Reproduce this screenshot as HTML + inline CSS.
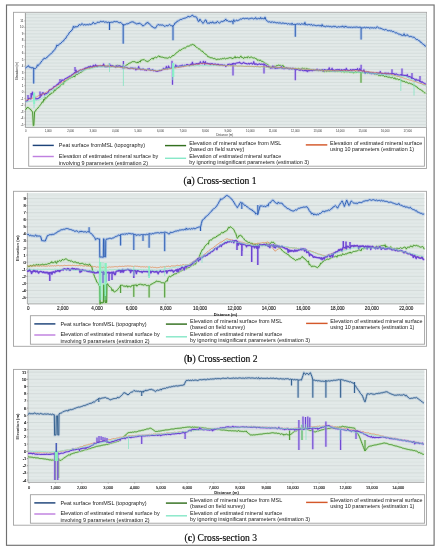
<!DOCTYPE html>
<html><head><meta charset="utf-8"><title>Cross-sections</title>
<style>html,body{margin:0;padding:0;background:#fff;width:438px;height:550px;overflow:hidden;font-family:"Liberation Sans",sans-serif}svg{display:block;will-change:transform;filter:blur(0.35px)}</style>
</head><body>
<svg width="438" height="550" viewBox="0 0 438 550"><rect x="0" y="0" width="438" height="550" fill="#fff"/>
<rect x="6.5" y="5.0" width="427.6" height="540.3" fill="none" stroke="#707070" stroke-width="1.15"/>
<rect x="13.5" y="12.3" width="413" height="156.2" fill="#fff" stroke="#a2a2a2" stroke-width="0.9"/>
<rect x="25.40" y="13.00" width="400.90" height="114.40" fill="#e2e9e8"/>
<line x1="25.40" x2="426.30" y1="124.56" y2="124.56" stroke="#d2dad9" stroke-width="0.8"/>
<line x1="25.40" x2="426.30" y1="121.32" y2="121.32" stroke="#d2dad9" stroke-width="0.8"/>
<line x1="25.40" x2="426.30" y1="118.08" y2="118.08" stroke="#d2dad9" stroke-width="0.8"/>
<line x1="25.40" x2="426.30" y1="114.84" y2="114.84" stroke="#d2dad9" stroke-width="0.8"/>
<line x1="25.40" x2="426.30" y1="111.60" y2="111.60" stroke="#d2dad9" stroke-width="0.8"/>
<line x1="25.40" x2="426.30" y1="108.36" y2="108.36" stroke="#d2dad9" stroke-width="0.8"/>
<line x1="25.40" x2="426.30" y1="105.12" y2="105.12" stroke="#d2dad9" stroke-width="0.8"/>
<line x1="25.40" x2="426.30" y1="101.88" y2="101.88" stroke="#d2dad9" stroke-width="0.8"/>
<line x1="25.40" x2="426.30" y1="98.64" y2="98.64" stroke="#d2dad9" stroke-width="0.8"/>
<line x1="25.40" x2="426.30" y1="95.40" y2="95.40" stroke="#d2dad9" stroke-width="0.8"/>
<line x1="25.40" x2="426.30" y1="92.16" y2="92.16" stroke="#d2dad9" stroke-width="0.8"/>
<line x1="25.40" x2="426.30" y1="88.92" y2="88.92" stroke="#d2dad9" stroke-width="0.8"/>
<line x1="25.40" x2="426.30" y1="85.68" y2="85.68" stroke="#d2dad9" stroke-width="0.8"/>
<line x1="25.40" x2="426.30" y1="82.44" y2="82.44" stroke="#d2dad9" stroke-width="0.8"/>
<line x1="25.40" x2="426.30" y1="79.20" y2="79.20" stroke="#d2dad9" stroke-width="0.8"/>
<line x1="25.40" x2="426.30" y1="75.96" y2="75.96" stroke="#d2dad9" stroke-width="0.8"/>
<line x1="25.40" x2="426.30" y1="72.72" y2="72.72" stroke="#d2dad9" stroke-width="0.8"/>
<line x1="25.40" x2="426.30" y1="69.48" y2="69.48" stroke="#d2dad9" stroke-width="0.8"/>
<line x1="25.40" x2="426.30" y1="66.24" y2="66.24" stroke="#d2dad9" stroke-width="0.8"/>
<line x1="25.40" x2="426.30" y1="63.00" y2="63.00" stroke="#d2dad9" stroke-width="0.8"/>
<line x1="25.40" x2="426.30" y1="59.76" y2="59.76" stroke="#d2dad9" stroke-width="0.8"/>
<line x1="25.40" x2="426.30" y1="56.52" y2="56.52" stroke="#d2dad9" stroke-width="0.8"/>
<line x1="25.40" x2="426.30" y1="53.28" y2="53.28" stroke="#d2dad9" stroke-width="0.8"/>
<line x1="25.40" x2="426.30" y1="50.04" y2="50.04" stroke="#d2dad9" stroke-width="0.8"/>
<line x1="25.40" x2="426.30" y1="46.80" y2="46.80" stroke="#d2dad9" stroke-width="0.8"/>
<line x1="25.40" x2="426.30" y1="43.56" y2="43.56" stroke="#d2dad9" stroke-width="0.8"/>
<line x1="25.40" x2="426.30" y1="40.32" y2="40.32" stroke="#d2dad9" stroke-width="0.8"/>
<line x1="25.40" x2="426.30" y1="37.08" y2="37.08" stroke="#d2dad9" stroke-width="0.8"/>
<line x1="25.40" x2="426.30" y1="33.84" y2="33.84" stroke="#d2dad9" stroke-width="0.8"/>
<line x1="25.40" x2="426.30" y1="30.60" y2="30.60" stroke="#d2dad9" stroke-width="0.8"/>
<line x1="25.40" x2="426.30" y1="27.36" y2="27.36" stroke="#d2dad9" stroke-width="0.8"/>
<line x1="25.40" x2="426.30" y1="24.12" y2="24.12" stroke="#d2dad9" stroke-width="0.8"/>
<line x1="25.40" x2="426.30" y1="20.88" y2="20.88" stroke="#d2dad9" stroke-width="0.8"/>
<line x1="25.40" x2="426.30" y1="17.64" y2="17.64" stroke="#d2dad9" stroke-width="0.8"/>
<line x1="25.40" x2="426.30" y1="14.40" y2="14.40" stroke="#d2dad9" stroke-width="0.8"/>
<line x1="25.4" x2="25.4" y1="13" y2="127.6" stroke="#8a8a8a" stroke-width="0.8"/>
<line x1="25.4" x2="426.3" y1="127.5" y2="127.5" stroke="#9a9a9a" stroke-width="0.8"/>
<line x1="24.3" x2="25.4" y1="124.56" y2="124.56" stroke="#888" stroke-width="0.6"/>
<text x="23.40" y="125.66" font-size="3.00" text-anchor="end" font-family="Liberation Sans, sans-serif" font-weight="normal" fill="#222" >-5</text>
<line x1="24.3" x2="25.4" y1="118.08" y2="118.08" stroke="#888" stroke-width="0.6"/>
<text x="23.40" y="119.18" font-size="3.00" text-anchor="end" font-family="Liberation Sans, sans-serif" font-weight="normal" fill="#222" >-4</text>
<line x1="24.3" x2="25.4" y1="111.60" y2="111.60" stroke="#888" stroke-width="0.6"/>
<text x="23.40" y="112.70" font-size="3.00" text-anchor="end" font-family="Liberation Sans, sans-serif" font-weight="normal" fill="#222" >-3</text>
<line x1="24.3" x2="25.4" y1="105.12" y2="105.12" stroke="#888" stroke-width="0.6"/>
<text x="23.40" y="106.22" font-size="3.00" text-anchor="end" font-family="Liberation Sans, sans-serif" font-weight="normal" fill="#222" >-2</text>
<line x1="24.3" x2="25.4" y1="98.64" y2="98.64" stroke="#888" stroke-width="0.6"/>
<text x="23.40" y="99.74" font-size="3.00" text-anchor="end" font-family="Liberation Sans, sans-serif" font-weight="normal" fill="#222" >-1</text>
<line x1="24.3" x2="25.4" y1="92.16" y2="92.16" stroke="#888" stroke-width="0.6"/>
<text x="23.40" y="93.26" font-size="3.00" text-anchor="end" font-family="Liberation Sans, sans-serif" font-weight="normal" fill="#222" >0</text>
<line x1="24.3" x2="25.4" y1="85.68" y2="85.68" stroke="#888" stroke-width="0.6"/>
<text x="23.40" y="86.78" font-size="3.00" text-anchor="end" font-family="Liberation Sans, sans-serif" font-weight="normal" fill="#222" >1</text>
<line x1="24.3" x2="25.4" y1="79.20" y2="79.20" stroke="#888" stroke-width="0.6"/>
<text x="23.40" y="80.30" font-size="3.00" text-anchor="end" font-family="Liberation Sans, sans-serif" font-weight="normal" fill="#222" >2</text>
<line x1="24.3" x2="25.4" y1="72.72" y2="72.72" stroke="#888" stroke-width="0.6"/>
<text x="23.40" y="73.82" font-size="3.00" text-anchor="end" font-family="Liberation Sans, sans-serif" font-weight="normal" fill="#222" >3</text>
<line x1="24.3" x2="25.4" y1="66.24" y2="66.24" stroke="#888" stroke-width="0.6"/>
<text x="23.40" y="67.34" font-size="3.00" text-anchor="end" font-family="Liberation Sans, sans-serif" font-weight="normal" fill="#222" >4</text>
<line x1="24.3" x2="25.4" y1="59.76" y2="59.76" stroke="#888" stroke-width="0.6"/>
<text x="23.40" y="60.86" font-size="3.00" text-anchor="end" font-family="Liberation Sans, sans-serif" font-weight="normal" fill="#222" >5</text>
<line x1="24.3" x2="25.4" y1="53.28" y2="53.28" stroke="#888" stroke-width="0.6"/>
<text x="23.40" y="54.38" font-size="3.00" text-anchor="end" font-family="Liberation Sans, sans-serif" font-weight="normal" fill="#222" >6</text>
<line x1="24.3" x2="25.4" y1="46.80" y2="46.80" stroke="#888" stroke-width="0.6"/>
<text x="23.40" y="47.90" font-size="3.00" text-anchor="end" font-family="Liberation Sans, sans-serif" font-weight="normal" fill="#222" >7</text>
<line x1="24.3" x2="25.4" y1="40.32" y2="40.32" stroke="#888" stroke-width="0.6"/>
<text x="23.40" y="41.42" font-size="3.00" text-anchor="end" font-family="Liberation Sans, sans-serif" font-weight="normal" fill="#222" >8</text>
<line x1="24.3" x2="25.4" y1="33.84" y2="33.84" stroke="#888" stroke-width="0.6"/>
<text x="23.40" y="34.94" font-size="3.00" text-anchor="end" font-family="Liberation Sans, sans-serif" font-weight="normal" fill="#222" >9</text>
<line x1="24.3" x2="25.4" y1="27.36" y2="27.36" stroke="#888" stroke-width="0.6"/>
<text x="23.40" y="28.46" font-size="3.00" text-anchor="end" font-family="Liberation Sans, sans-serif" font-weight="normal" fill="#222" >10</text>
<line x1="24.3" x2="25.4" y1="20.88" y2="20.88" stroke="#888" stroke-width="0.6"/>
<text x="23.40" y="21.98" font-size="3.00" text-anchor="end" font-family="Liberation Sans, sans-serif" font-weight="normal" fill="#222" >11</text>
<text x="25.70" y="132.00" font-size="2.80" text-anchor="middle" font-family="Liberation Sans, sans-serif" font-weight="normal" fill="#333" >0</text>
<text x="48.17" y="132.00" font-size="2.80" text-anchor="middle" font-family="Liberation Sans, sans-serif" font-weight="normal" fill="#333" >1,000</text>
<text x="70.64" y="132.00" font-size="2.80" text-anchor="middle" font-family="Liberation Sans, sans-serif" font-weight="normal" fill="#333" >2,000</text>
<text x="93.11" y="132.00" font-size="2.80" text-anchor="middle" font-family="Liberation Sans, sans-serif" font-weight="normal" fill="#333" >3,000</text>
<text x="115.58" y="132.00" font-size="2.80" text-anchor="middle" font-family="Liberation Sans, sans-serif" font-weight="normal" fill="#333" >4,000</text>
<text x="138.05" y="132.00" font-size="2.80" text-anchor="middle" font-family="Liberation Sans, sans-serif" font-weight="normal" fill="#333" >5,000</text>
<text x="160.52" y="132.00" font-size="2.80" text-anchor="middle" font-family="Liberation Sans, sans-serif" font-weight="normal" fill="#333" >6,000</text>
<text x="182.99" y="132.00" font-size="2.80" text-anchor="middle" font-family="Liberation Sans, sans-serif" font-weight="normal" fill="#333" >7,000</text>
<text x="205.46" y="132.00" font-size="2.80" text-anchor="middle" font-family="Liberation Sans, sans-serif" font-weight="normal" fill="#333" >8,000</text>
<text x="227.93" y="132.00" font-size="2.80" text-anchor="middle" font-family="Liberation Sans, sans-serif" font-weight="normal" fill="#333" >9,000</text>
<text x="250.40" y="132.00" font-size="2.80" text-anchor="middle" font-family="Liberation Sans, sans-serif" font-weight="normal" fill="#333" >10,000</text>
<text x="272.87" y="132.00" font-size="2.80" text-anchor="middle" font-family="Liberation Sans, sans-serif" font-weight="normal" fill="#333" >11,000</text>
<text x="295.34" y="132.00" font-size="2.80" text-anchor="middle" font-family="Liberation Sans, sans-serif" font-weight="normal" fill="#333" >12,000</text>
<text x="317.81" y="132.00" font-size="2.80" text-anchor="middle" font-family="Liberation Sans, sans-serif" font-weight="normal" fill="#333" >13,000</text>
<text x="340.28" y="132.00" font-size="2.80" text-anchor="middle" font-family="Liberation Sans, sans-serif" font-weight="normal" fill="#333" >14,000</text>
<text x="362.75" y="132.00" font-size="2.80" text-anchor="middle" font-family="Liberation Sans, sans-serif" font-weight="normal" fill="#333" >15,000</text>
<text x="385.22" y="132.00" font-size="2.80" text-anchor="middle" font-family="Liberation Sans, sans-serif" font-weight="normal" fill="#333" >16,000</text>
<text x="407.69" y="132.00" font-size="2.80" text-anchor="middle" font-family="Liberation Sans, sans-serif" font-weight="normal" fill="#333" >17,000</text>
<text x="224.80" y="136.00" font-size="3.00" text-anchor="middle" font-family="Liberation Sans, sans-serif" font-weight="normal" fill="#333" >Distance (m)</text>
<text x="0" y="0" font-size="3.1" text-anchor="middle" font-family="Liberation Sans, sans-serif" fill="#222" transform="translate(18.3,71) rotate(-90)">Elevation (m)</text>
<path d="M25.40 68.04 L26.15 67.62 L26.90 66.90 L27.65 66.58 L28.40 65.63 L29.30 67.19 L30.20 66.95 L31.10 67.90 L32.03 67.74 L32.97 67.76 L33.90 68.31 L34.50 68.56 L35.20 68.72 L35.90 68.04 L36.60 67.39 L37.45 64.98 L38.30 65.61 L39.15 64.26 L40.00 63.36 L40.90 62.53 L41.80 60.90 L42.70 60.02 L44.10 58.21 L45.50 58.54 L46.35 58.06 L47.20 56.94 L48.05 56.31 L48.90 55.54 L49.75 54.70 L50.60 53.92 L51.45 53.48 L52.30 52.48 L53.07 51.13 L53.84 50.69 L54.61 49.88 L55.39 48.51 L56.16 47.21 L56.93 44.91 L57.70 45.94 L58.52 44.79 L59.34 44.15 L60.16 43.70 L60.98 43.27 L61.80 42.10 L62.62 41.35 L63.44 41.07 L64.26 39.55 L65.08 38.78 L65.90 38.28 L66.72 36.39 L67.54 35.36 L68.36 34.53 L69.18 32.77 L70.00 32.12 L71.00 30.95 L72.00 30.27 L72.70 28.73 L73.40 26.31 L74.20 27.60 L75.00 26.36 L75.90 27.17 L76.80 26.64 L77.70 26.70 L79.10 24.58 L79.83 24.65 L80.56 25.07 L81.29 24.70 L82.02 23.56 L82.75 24.47 L83.48 25.04 L84.22 24.66 L84.95 24.32 L85.68 25.02 L86.41 24.75 L87.14 24.43 L87.87 24.77 L88.60 24.75 L89.37 24.11 L90.13 24.65 L90.90 24.34 L91.67 24.14 L92.43 23.79 L93.20 22.28 L93.97 23.27 L94.73 23.76 L95.50 23.59 L96.26 23.37 L97.03 22.47 L97.79 22.21 L98.55 22.36 L99.31 22.32 L100.07 21.91 L100.84 21.16 L101.60 21.67 L102.36 21.66 L103.11 21.28 L103.87 21.55 L104.62 22.26 L105.38 21.88 L106.13 22.30 L106.89 21.90 L107.64 22.73 L108.40 22.18 L109.20 22.82 L110.00 22.13 L110.80 22.55 L111.60 22.17 L112.40 22.31 L113.20 22.13 L113.96 21.48 L114.72 21.49 L115.48 21.70 L116.24 21.49 L117.00 21.87 L117.73 21.75 L118.47 22.43 L119.20 22.73 L119.93 22.66 L120.67 22.48 L121.40 23.23 L122.40 23.91 L123.40 25.40 L124.20 24.84 L125.00 24.85 L125.77 24.08 L126.53 23.84 L127.30 23.95 L128.01 23.47 L128.72 23.50 L129.44 22.94 L130.15 22.56 L130.86 22.22 L131.57 21.96 L132.29 21.87 L133.00 21.80 L133.85 22.18 L134.70 23.16 L135.55 23.23 L136.40 23.92 L137.25 23.62 L138.10 23.96 L138.95 23.09 L139.80 23.24 L140.50 24.02 L141.20 24.01 L141.90 24.75 L142.60 25.86 L143.30 25.70 L144.05 25.45 L144.80 24.59 L145.55 24.23 L146.30 22.88 L147.05 23.28 L147.80 22.21 L148.50 23.54 L149.20 23.60 L149.90 24.23 L150.60 25.11 L151.30 25.93 L152.15 26.86 L153.00 26.83 L153.85 27.79 L154.70 27.98 L155.55 28.01 L156.40 26.67 L157.25 25.30 L158.10 24.41 L158.87 24.86 L159.63 25.05 L160.40 24.89 L161.17 25.22 L161.93 24.95 L162.70 25.00 L163.55 25.53 L164.40 26.23 L165.25 26.30 L166.10 25.46 L166.95 25.71 L167.80 25.75 L168.65 25.23 L169.50 24.45 L170.22 25.04 L170.95 25.70 L171.68 25.71 L172.40 26.43 L173.27 25.73 L174.13 24.99 L175.00 22.87 L175.77 22.95 L176.53 22.15 L177.30 21.03 L178.05 21.35 L178.80 20.44 L179.55 20.06 L180.30 19.56 L181.05 19.27 L181.80 19.53 L182.57 18.69 L183.33 18.56 L184.10 18.10 L184.87 18.34 L185.63 17.91 L186.40 17.55 L187.25 17.33 L188.10 16.12 L188.95 16.86 L189.80 16.83 L190.57 16.44 L191.33 16.14 L192.10 15.14 L192.87 15.32 L193.63 16.50 L194.40 16.65 L195.17 16.88 L195.93 16.71 L196.70 17.40 L197.55 19.67 L198.40 21.48 L199.17 21.20 L199.93 19.14 L200.70 20.58 L201.47 21.29 L202.23 22.28 L203.00 23.40 L203.77 22.39 L204.53 21.27 L205.30 19.91 L206.03 20.05 L206.77 22.37 L207.50 23.32 L208.24 23.09 L208.99 23.08 L209.73 23.34 L210.47 21.98 L211.21 22.88 L211.96 22.92 L212.70 21.71 L213.55 23.13 L214.40 23.01 L215.25 22.74 L216.10 23.11 L216.80 21.78 L217.50 21.39 L218.50 22.59 L219.50 23.05 L220.20 22.38 L220.90 21.92 L221.60 21.40 L222.30 21.67 L223.00 21.09 L224.00 21.00 L225.00 20.26 L225.73 18.99 L226.45 20.67 L227.18 20.59 L227.91 20.72 L228.64 21.46 L229.36 21.35 L230.09 21.52 L230.82 21.59 L231.55 21.20 L232.27 21.86 L233.00 21.37 L233.74 19.73 L234.47 21.39 L235.21 21.27 L235.94 20.46 L236.68 20.19 L237.41 20.67 L238.15 20.33 L238.89 20.21 L239.62 19.68 L240.36 19.02 L241.09 19.18 L241.83 19.14 L242.56 18.40 L243.30 18.26 L244.02 18.46 L244.75 18.82 L245.47 18.38 L246.19 18.42 L246.92 18.50 L247.64 18.30 L248.36 18.97 L249.09 18.35 L249.81 19.05 L250.53 18.28 L251.26 18.23 L251.98 18.23 L252.70 18.38 L253.43 18.95 L254.15 18.52 L254.87 18.62 L255.60 17.52 L256.32 19.02 L257.04 18.60 L257.77 18.93 L258.49 18.39 L259.21 18.51 L259.94 19.01 L260.66 17.41 L261.38 18.79 L262.11 18.58 L262.83 18.15 L263.55 18.98 L264.28 18.92 L265.00 17.14 L265.85 19.47 L266.70 20.70 L267.55 21.28 L268.40 21.96 L269.12 21.65 L269.83 21.89 L270.55 22.33 L271.27 21.93 L271.99 22.45 L272.70 21.70 L273.42 22.53 L274.14 22.28 L274.85 22.15 L275.57 22.62 L276.29 22.85 L277.01 22.77 L277.72 22.63 L278.44 23.10 L279.16 22.56 L279.87 23.21 L280.59 22.90 L281.31 23.57 L282.03 22.83 L282.74 23.24 L283.46 23.11 L284.18 23.66 L284.89 23.25 L285.61 23.41 L286.33 23.40 L287.05 23.94 L287.76 24.18 L288.48 23.56 L289.20 23.83 L289.91 24.38 L290.63 23.94 L291.35 24.53 L292.07 23.11 L292.78 24.59 L293.50 24.51 L294.21 24.69 L294.93 24.02 L295.64 24.52 L296.35 24.19 L297.06 24.15 L297.77 23.85 L298.49 24.17 L299.20 23.96 L299.91 24.04 L300.62 24.59 L301.34 23.78 L302.05 24.19 L302.76 24.02 L303.47 24.04 L304.19 24.58 L304.90 22.44 L305.62 24.75 L306.34 24.67 L307.05 24.38 L307.77 25.01 L308.49 24.46 L309.21 24.58 L309.92 24.38 L310.64 25.27 L311.36 24.34 L312.08 25.03 L312.80 25.53 L313.51 24.98 L314.23 25.27 L314.95 25.06 L315.67 25.64 L316.39 25.75 L317.10 25.42 L317.82 25.53 L318.54 25.35 L319.26 26.03 L319.98 25.21 L320.69 25.79 L321.41 26.37 L322.13 24.52 L322.85 26.17 L323.56 26.20 L324.28 26.25 L325.00 26.56 L325.70 26.73 L326.40 26.10 L327.10 26.28 L327.80 26.37 L328.50 26.24 L329.20 26.30 L329.90 26.90 L330.60 26.42 L331.30 27.04 L332.00 26.38 L332.70 26.78 L333.40 26.31 L334.10 26.97 L334.80 26.19 L335.50 26.39 L336.20 27.18 L336.90 27.16 L337.60 27.13 L338.30 26.60 L339.00 27.07 L339.70 26.97 L340.40 26.77 L341.10 26.64 L341.80 27.02 L342.50 25.87 L343.20 27.13 L343.90 26.82 L344.60 27.28 L345.30 25.99 L346.00 27.11 L346.70 26.71 L347.40 27.28 L348.10 26.93 L348.80 27.56 L349.50 27.23 L350.20 27.12 L350.90 27.66 L351.60 26.96 L352.30 27.56 L353.00 27.21 L353.70 27.22 L354.40 27.29 L355.10 26.91 L355.80 27.49 L356.50 27.02 L357.20 27.30 L357.90 27.12 L358.60 27.48 L359.30 27.13 L360.00 27.77 L360.72 27.25 L361.43 27.94 L362.15 28.16 L362.86 27.48 L363.58 27.70 L364.29 27.31 L365.01 27.38 L365.72 27.97 L366.44 27.39 L367.15 27.60 L367.87 27.61 L368.58 27.50 L369.30 27.86 L370.02 28.41 L370.73 27.44 L371.45 27.85 L372.16 27.65 L372.88 27.92 L373.59 28.01 L374.31 27.71 L375.02 27.89 L375.74 28.16 L376.45 27.90 L377.17 26.65 L377.88 27.38 L378.60 27.94 L379.30 27.80 L380.00 28.60 L380.70 28.12 L381.40 28.59 L382.10 28.55 L382.80 29.50 L383.50 29.51 L384.20 29.83 L384.90 29.99 L385.60 29.45 L386.30 29.55 L387.00 30.33 L387.70 30.63 L388.40 30.73 L389.10 30.63 L389.80 30.54 L390.50 30.98 L391.20 30.73 L391.90 31.02 L392.60 31.66 L393.32 31.47 L394.03 31.69 L394.75 32.43 L395.46 32.91 L396.18 32.92 L396.89 32.76 L397.61 33.50 L398.32 33.92 L399.04 34.36 L399.75 34.07 L400.47 34.41 L401.18 35.32 L401.90 34.78 L402.63 35.58 L403.36 35.43 L404.09 33.74 L404.82 35.68 L405.56 35.73 L406.29 35.53 L407.02 34.55 L407.75 35.28 L408.48 36.05 L409.21 36.52 L409.94 36.69 L410.68 36.40 L411.41 36.64 L412.14 36.65 L412.87 37.49 L413.60 37.21 L414.30 37.33 L415.00 38.30 L415.70 38.84 L416.40 39.57 L417.10 39.42 L417.80 39.71 L418.50 40.51 L419.20 40.66 L419.90 41.09 L420.60 42.40 L421.34 42.39 L422.09 43.32 L422.83 44.25 L423.57 44.46 L424.31 44.88 L425.06 46.20 L425.80 46.16 M33.70 68.00 L33.70 83.60 M109.50 22.00 L109.50 30.00 M123.20 24.00 L123.20 43.70 M173.00 25.00 L173.00 40.30 M233.00 21.00 L233.00 24.30 M295.30 24.00 L295.30 36.80 M361.10 27.50 L361.10 39.60" fill="none" stroke="#a8c0e6" stroke-width="2.80" stroke-linejoin="round" stroke-opacity="0.75"/>
<path d="M25.40 68.04 L26.15 67.62 L26.90 66.90 L27.65 66.58 L28.40 65.63 L29.30 67.19 L30.20 66.95 L31.10 67.90 L32.03 67.74 L32.97 67.76 L33.90 68.31 L34.50 68.56 L35.20 68.72 L35.90 68.04 L36.60 67.39 L37.45 64.98 L38.30 65.61 L39.15 64.26 L40.00 63.36 L40.90 62.53 L41.80 60.90 L42.70 60.02 L44.10 58.21 L45.50 58.54 L46.35 58.06 L47.20 56.94 L48.05 56.31 L48.90 55.54 L49.75 54.70 L50.60 53.92 L51.45 53.48 L52.30 52.48 L53.07 51.13 L53.84 50.69 L54.61 49.88 L55.39 48.51 L56.16 47.21 L56.93 44.91 L57.70 45.94 L58.52 44.79 L59.34 44.15 L60.16 43.70 L60.98 43.27 L61.80 42.10 L62.62 41.35 L63.44 41.07 L64.26 39.55 L65.08 38.78 L65.90 38.28 L66.72 36.39 L67.54 35.36 L68.36 34.53 L69.18 32.77 L70.00 32.12 L71.00 30.95 L72.00 30.27 L72.70 28.73 L73.40 26.31 L74.20 27.60 L75.00 26.36 L75.90 27.17 L76.80 26.64 L77.70 26.70 L79.10 24.58 L79.83 24.65 L80.56 25.07 L81.29 24.70 L82.02 23.56 L82.75 24.47 L83.48 25.04 L84.22 24.66 L84.95 24.32 L85.68 25.02 L86.41 24.75 L87.14 24.43 L87.87 24.77 L88.60 24.75 L89.37 24.11 L90.13 24.65 L90.90 24.34 L91.67 24.14 L92.43 23.79 L93.20 22.28 L93.97 23.27 L94.73 23.76 L95.50 23.59 L96.26 23.37 L97.03 22.47 L97.79 22.21 L98.55 22.36 L99.31 22.32 L100.07 21.91 L100.84 21.16 L101.60 21.67 L102.36 21.66 L103.11 21.28 L103.87 21.55 L104.62 22.26 L105.38 21.88 L106.13 22.30 L106.89 21.90 L107.64 22.73 L108.40 22.18 L109.20 22.82 L110.00 22.13 L110.80 22.55 L111.60 22.17 L112.40 22.31 L113.20 22.13 L113.96 21.48 L114.72 21.49 L115.48 21.70 L116.24 21.49 L117.00 21.87 L117.73 21.75 L118.47 22.43 L119.20 22.73 L119.93 22.66 L120.67 22.48 L121.40 23.23 L122.40 23.91 L123.40 25.40 L124.20 24.84 L125.00 24.85 L125.77 24.08 L126.53 23.84 L127.30 23.95 L128.01 23.47 L128.72 23.50 L129.44 22.94 L130.15 22.56 L130.86 22.22 L131.57 21.96 L132.29 21.87 L133.00 21.80 L133.85 22.18 L134.70 23.16 L135.55 23.23 L136.40 23.92 L137.25 23.62 L138.10 23.96 L138.95 23.09 L139.80 23.24 L140.50 24.02 L141.20 24.01 L141.90 24.75 L142.60 25.86 L143.30 25.70 L144.05 25.45 L144.80 24.59 L145.55 24.23 L146.30 22.88 L147.05 23.28 L147.80 22.21 L148.50 23.54 L149.20 23.60 L149.90 24.23 L150.60 25.11 L151.30 25.93 L152.15 26.86 L153.00 26.83 L153.85 27.79 L154.70 27.98 L155.55 28.01 L156.40 26.67 L157.25 25.30 L158.10 24.41 L158.87 24.86 L159.63 25.05 L160.40 24.89 L161.17 25.22 L161.93 24.95 L162.70 25.00 L163.55 25.53 L164.40 26.23 L165.25 26.30 L166.10 25.46 L166.95 25.71 L167.80 25.75 L168.65 25.23 L169.50 24.45 L170.22 25.04 L170.95 25.70 L171.68 25.71 L172.40 26.43 L173.27 25.73 L174.13 24.99 L175.00 22.87 L175.77 22.95 L176.53 22.15 L177.30 21.03 L178.05 21.35 L178.80 20.44 L179.55 20.06 L180.30 19.56 L181.05 19.27 L181.80 19.53 L182.57 18.69 L183.33 18.56 L184.10 18.10 L184.87 18.34 L185.63 17.91 L186.40 17.55 L187.25 17.33 L188.10 16.12 L188.95 16.86 L189.80 16.83 L190.57 16.44 L191.33 16.14 L192.10 15.14 L192.87 15.32 L193.63 16.50 L194.40 16.65 L195.17 16.88 L195.93 16.71 L196.70 17.40 L197.55 19.67 L198.40 21.48 L199.17 21.20 L199.93 19.14 L200.70 20.58 L201.47 21.29 L202.23 22.28 L203.00 23.40 L203.77 22.39 L204.53 21.27 L205.30 19.91 L206.03 20.05 L206.77 22.37 L207.50 23.32 L208.24 23.09 L208.99 23.08 L209.73 23.34 L210.47 21.98 L211.21 22.88 L211.96 22.92 L212.70 21.71 L213.55 23.13 L214.40 23.01 L215.25 22.74 L216.10 23.11 L216.80 21.78 L217.50 21.39 L218.50 22.59 L219.50 23.05 L220.20 22.38 L220.90 21.92 L221.60 21.40 L222.30 21.67 L223.00 21.09 L224.00 21.00 L225.00 20.26 L225.73 18.99 L226.45 20.67 L227.18 20.59 L227.91 20.72 L228.64 21.46 L229.36 21.35 L230.09 21.52 L230.82 21.59 L231.55 21.20 L232.27 21.86 L233.00 21.37 L233.74 19.73 L234.47 21.39 L235.21 21.27 L235.94 20.46 L236.68 20.19 L237.41 20.67 L238.15 20.33 L238.89 20.21 L239.62 19.68 L240.36 19.02 L241.09 19.18 L241.83 19.14 L242.56 18.40 L243.30 18.26 L244.02 18.46 L244.75 18.82 L245.47 18.38 L246.19 18.42 L246.92 18.50 L247.64 18.30 L248.36 18.97 L249.09 18.35 L249.81 19.05 L250.53 18.28 L251.26 18.23 L251.98 18.23 L252.70 18.38 L253.43 18.95 L254.15 18.52 L254.87 18.62 L255.60 17.52 L256.32 19.02 L257.04 18.60 L257.77 18.93 L258.49 18.39 L259.21 18.51 L259.94 19.01 L260.66 17.41 L261.38 18.79 L262.11 18.58 L262.83 18.15 L263.55 18.98 L264.28 18.92 L265.00 17.14 L265.85 19.47 L266.70 20.70 L267.55 21.28 L268.40 21.96 L269.12 21.65 L269.83 21.89 L270.55 22.33 L271.27 21.93 L271.99 22.45 L272.70 21.70 L273.42 22.53 L274.14 22.28 L274.85 22.15 L275.57 22.62 L276.29 22.85 L277.01 22.77 L277.72 22.63 L278.44 23.10 L279.16 22.56 L279.87 23.21 L280.59 22.90 L281.31 23.57 L282.03 22.83 L282.74 23.24 L283.46 23.11 L284.18 23.66 L284.89 23.25 L285.61 23.41 L286.33 23.40 L287.05 23.94 L287.76 24.18 L288.48 23.56 L289.20 23.83 L289.91 24.38 L290.63 23.94 L291.35 24.53 L292.07 23.11 L292.78 24.59 L293.50 24.51 L294.21 24.69 L294.93 24.02 L295.64 24.52 L296.35 24.19 L297.06 24.15 L297.77 23.85 L298.49 24.17 L299.20 23.96 L299.91 24.04 L300.62 24.59 L301.34 23.78 L302.05 24.19 L302.76 24.02 L303.47 24.04 L304.19 24.58 L304.90 22.44 L305.62 24.75 L306.34 24.67 L307.05 24.38 L307.77 25.01 L308.49 24.46 L309.21 24.58 L309.92 24.38 L310.64 25.27 L311.36 24.34 L312.08 25.03 L312.80 25.53 L313.51 24.98 L314.23 25.27 L314.95 25.06 L315.67 25.64 L316.39 25.75 L317.10 25.42 L317.82 25.53 L318.54 25.35 L319.26 26.03 L319.98 25.21 L320.69 25.79 L321.41 26.37 L322.13 24.52 L322.85 26.17 L323.56 26.20 L324.28 26.25 L325.00 26.56 L325.70 26.73 L326.40 26.10 L327.10 26.28 L327.80 26.37 L328.50 26.24 L329.20 26.30 L329.90 26.90 L330.60 26.42 L331.30 27.04 L332.00 26.38 L332.70 26.78 L333.40 26.31 L334.10 26.97 L334.80 26.19 L335.50 26.39 L336.20 27.18 L336.90 27.16 L337.60 27.13 L338.30 26.60 L339.00 27.07 L339.70 26.97 L340.40 26.77 L341.10 26.64 L341.80 27.02 L342.50 25.87 L343.20 27.13 L343.90 26.82 L344.60 27.28 L345.30 25.99 L346.00 27.11 L346.70 26.71 L347.40 27.28 L348.10 26.93 L348.80 27.56 L349.50 27.23 L350.20 27.12 L350.90 27.66 L351.60 26.96 L352.30 27.56 L353.00 27.21 L353.70 27.22 L354.40 27.29 L355.10 26.91 L355.80 27.49 L356.50 27.02 L357.20 27.30 L357.90 27.12 L358.60 27.48 L359.30 27.13 L360.00 27.77 L360.72 27.25 L361.43 27.94 L362.15 28.16 L362.86 27.48 L363.58 27.70 L364.29 27.31 L365.01 27.38 L365.72 27.97 L366.44 27.39 L367.15 27.60 L367.87 27.61 L368.58 27.50 L369.30 27.86 L370.02 28.41 L370.73 27.44 L371.45 27.85 L372.16 27.65 L372.88 27.92 L373.59 28.01 L374.31 27.71 L375.02 27.89 L375.74 28.16 L376.45 27.90 L377.17 26.65 L377.88 27.38 L378.60 27.94 L379.30 27.80 L380.00 28.60 L380.70 28.12 L381.40 28.59 L382.10 28.55 L382.80 29.50 L383.50 29.51 L384.20 29.83 L384.90 29.99 L385.60 29.45 L386.30 29.55 L387.00 30.33 L387.70 30.63 L388.40 30.73 L389.10 30.63 L389.80 30.54 L390.50 30.98 L391.20 30.73 L391.90 31.02 L392.60 31.66 L393.32 31.47 L394.03 31.69 L394.75 32.43 L395.46 32.91 L396.18 32.92 L396.89 32.76 L397.61 33.50 L398.32 33.92 L399.04 34.36 L399.75 34.07 L400.47 34.41 L401.18 35.32 L401.90 34.78 L402.63 35.58 L403.36 35.43 L404.09 33.74 L404.82 35.68 L405.56 35.73 L406.29 35.53 L407.02 34.55 L407.75 35.28 L408.48 36.05 L409.21 36.52 L409.94 36.69 L410.68 36.40 L411.41 36.64 L412.14 36.65 L412.87 37.49 L413.60 37.21 L414.30 37.33 L415.00 38.30 L415.70 38.84 L416.40 39.57 L417.10 39.42 L417.80 39.71 L418.50 40.51 L419.20 40.66 L419.90 41.09 L420.60 42.40 L421.34 42.39 L422.09 43.32 L422.83 44.25 L423.57 44.46 L424.31 44.88 L425.06 46.20 L425.80 46.16 M33.70 68.00 L33.70 83.60 M109.50 22.00 L109.50 30.00 M123.20 24.00 L123.20 43.70 M173.00 25.00 L173.00 40.30 M233.00 21.00 L233.00 24.30 M295.30 24.00 L295.30 36.80 M361.10 27.50 L361.10 39.60" fill="none" stroke="#2f60b4" stroke-width="1.00" stroke-linejoin="round" stroke-opacity="1.00"/>
<path d="M25.40 109.65 L26.22 109.17 L27.05 107.48 L27.88 107.51 L28.70 107.75 L29.48 108.73 L30.26 109.03 L31.04 110.08 L31.82 111.04 L32.60 112.04 L33.30 125.62 L33.80 125.42 L34.60 111.64 L35.40 111.34 L36.20 109.73 L37.00 108.73 L37.80 108.31 L38.60 107.09 L39.34 106.40 L40.08 105.28 L40.82 104.32 L41.56 103.20 L42.30 101.81 L43.04 102.45 L43.78 99.14 L44.52 100.21 L45.26 97.49 L46.00 98.49 L46.74 97.76 L47.48 96.39 L48.22 95.94 L48.96 95.66 L49.70 94.17 L50.52 94.40 L51.33 92.97 L52.15 93.27 L52.97 92.45 L53.78 91.84 L54.60 89.64 L55.31 90.53 L56.03 89.46 L56.74 88.54 L57.46 88.17 L58.17 87.63 L58.89 87.59 L59.60 86.85 L60.37 85.33 L61.14 85.04 L61.91 84.25 L62.69 83.74 L63.46 84.19 L64.23 81.20 L65.00 81.86 L65.77 80.59 L66.54 80.56 L67.31 79.74 L68.09 79.39 L68.86 78.79 L69.63 78.30 L70.40 78.20 L71.11 77.22 L71.83 76.80 L72.54 77.02 L73.26 76.56 L73.97 75.94 L74.69 77.04 L75.40 74.78 L76.11 74.62 L76.83 74.47 L77.54 74.46 L78.26 73.64 L78.97 73.54 L79.69 73.04 L80.40 72.33 L81.11 72.38 L81.82 71.83 L82.53 71.06 L83.23 70.75 L83.94 70.17 L84.65 69.49 L85.36 69.09 L86.07 69.18 L86.78 68.03 L87.48 67.74 L88.19 67.12 L88.90 66.69 L89.64 68.36 L90.38 66.47 L91.12 67.28 L91.86 66.97 L92.60 66.36 L93.34 66.21 L94.08 66.16 L94.82 66.76 L95.56 66.40 L96.30 66.30 L97.04 66.37 L97.78 66.44 L98.52 66.06 L99.26 66.32 L100.00 65.73 L100.71 66.38 L101.43 66.20 L102.14 66.18 L102.86 65.95 L103.57 65.92 L104.29 66.28 L105.00 66.13 L105.71 65.92 L106.43 66.12 L107.14 66.18 L107.86 65.68 L108.57 66.28 L109.29 65.99 L110.00 65.54 L110.71 65.66 L111.43 66.44 L112.14 65.60 L112.86 66.04 L113.57 66.01 L114.29 66.33 L115.00 65.91 L115.71 65.71 L116.43 65.89 L117.14 65.62 L117.86 65.27 L118.57 65.69 L119.29 65.92 L120.00 65.85 L120.71 65.77 L121.43 66.53 L122.14 65.85 L122.86 66.06 L123.57 65.84 L124.29 66.57 L125.00 66.27 L125.77 65.44 L126.53 64.99 L127.30 64.87 L128.07 63.93 L128.83 63.43 L129.60 63.13 L130.35 62.97 L131.10 62.31 L131.85 62.18 L132.60 61.57 L133.35 61.66 L134.10 61.50 L134.87 61.81 L135.63 62.23 L136.40 62.68 L137.17 61.99 L137.93 63.02 L138.70 62.44 L139.47 61.10 L140.23 62.12 L141.00 59.92 L141.77 60.27 L142.53 59.81 L143.30 59.80 L144.05 59.45 L144.80 60.28 L145.55 60.72 L146.30 61.22 L147.05 61.01 L147.80 61.73 L148.57 61.07 L149.33 60.62 L150.10 59.73 L150.87 59.34 L151.63 58.51 L152.40 58.30 L153.16 59.29 L153.91 57.76 L154.67 57.70 L155.42 57.15 L156.18 57.84 L156.93 57.19 L157.69 56.69 L158.44 56.09 L159.20 56.01 L159.97 57.22 L160.73 56.64 L161.50 57.13 L162.27 57.00 L163.03 57.55 L163.80 57.47 L164.57 57.84 L165.33 57.84 L166.10 58.20 L166.87 57.82 L167.63 58.26 L168.40 57.83 L169.17 57.09 L169.93 57.11 L170.70 57.63 L171.47 56.90 L172.23 55.81 L173.00 55.51 L173.85 55.57 L174.70 54.46 L175.55 53.86 L176.40 52.72 L177.11 52.36 L177.82 51.91 L178.54 51.45 L179.25 50.28 L179.96 49.95 L180.68 50.39 L181.39 49.41 L182.10 49.39 L182.86 48.48 L183.61 48.27 L184.37 47.90 L185.12 48.20 L185.88 47.56 L186.63 46.91 L187.39 46.11 L188.14 46.17 L188.90 46.18 L189.67 45.80 L190.43 45.05 L191.20 45.14 L191.97 44.59 L192.73 44.37 L193.50 44.80 L194.27 44.91 L195.03 46.13 L195.80 46.51 L196.57 47.43 L197.33 47.64 L198.10 48.43 L198.81 49.04 L199.53 49.05 L200.24 49.55 L200.95 50.53 L201.66 51.24 L202.38 51.01 L203.09 52.10 L203.80 52.78 L204.51 53.46 L205.23 53.87 L205.94 54.21 L206.65 55.14 L207.36 55.70 L208.07 57.00 L208.79 56.74 L209.50 56.93 L210.26 57.83 L211.01 57.71 L211.77 57.80 L212.52 58.00 L213.28 58.48 L214.03 58.94 L214.79 58.39 L215.54 59.07 L216.30 59.72 L217.03 58.85 L217.75 59.53 L218.48 59.20 L219.20 59.38 L219.93 59.13 L220.65 58.84 L221.38 59.06 L222.10 58.92 L222.82 58.31 L223.55 58.66 L224.28 58.10 L225.00 58.55 L225.72 59.01 L226.44 58.48 L227.16 58.24 L227.88 58.50 L228.61 58.04 L229.33 57.70 L230.05 57.65 L230.77 57.78 L231.49 57.78 L232.21 58.77 L232.93 58.00 L233.65 58.02 L234.37 57.78 L235.09 56.44 L235.82 58.08 L236.54 57.53 L237.26 57.26 L237.98 57.37 L238.70 57.67 L239.42 57.86 L240.14 56.94 L240.86 55.91 L241.58 57.46 L242.31 57.36 L243.03 58.06 L243.75 58.49 L244.47 57.16 L245.19 57.54 L245.91 57.57 L246.63 57.35 L247.35 57.87 L248.07 56.49 L248.79 57.25 L249.52 57.80 L250.24 56.95 L250.96 57.61 L251.68 56.96 L252.40 57.65 L253.11 57.86 L253.83 58.07 L254.54 57.87 L255.25 58.31 L255.96 58.82 L256.68 58.86 L257.39 60.15 L258.10 60.51 L258.81 59.71 L259.53 60.64 L260.24 60.20 L260.95 60.45 L261.66 61.48 L262.38 61.38 L263.09 62.04 L263.80 62.13 L264.57 62.83 L265.33 63.16 L266.10 64.04 L266.87 64.13 L267.63 64.55 L268.40 65.17 L269.17 65.88 L269.93 68.09 L270.70 66.56 L271.40 67.05 L272.10 66.73 L272.80 66.39 L273.50 66.37 L274.20 66.88 L274.90 65.86 L275.60 67.12 L276.30 65.81 L277.00 65.41 L277.70 65.61 L278.40 65.15 L279.10 65.55 L279.80 65.34 L280.56 65.40 L281.32 65.60 L282.07 66.52 L282.83 65.16 L283.59 66.93 L284.35 66.87 L285.11 67.50 L285.87 67.98 L286.62 68.26 L287.38 68.14 L288.14 68.07 L288.90 68.64 L289.63 69.16 L290.35 68.32 L291.08 68.78 L291.81 68.57 L292.54 69.13 L293.26 68.46 L293.99 68.95 L294.72 68.75 L295.45 68.42 L296.17 69.12 L296.90 68.62 L297.63 68.68 L298.35 68.36 L299.08 69.25 L299.81 68.81 L300.54 70.05 L301.26 68.52 L301.99 68.40 L302.72 68.07 L303.45 69.00 L304.17 68.32 L304.90 68.88 L305.62 70.05 L306.34 68.20 L307.05 69.04 L307.77 68.91 L308.49 69.12 L309.21 69.38 L309.92 69.02 L310.64 69.70 L311.36 69.87 L312.08 69.51 L312.80 70.04 L313.51 69.68 L314.23 70.14 L314.95 69.69 L315.67 69.97 L316.39 70.42 L317.10 70.51 L317.82 69.83 L318.54 70.82 L319.26 70.19 L319.98 70.66 L320.69 70.46 L321.41 69.76 L322.13 71.24 L322.85 71.29 L323.56 71.24 L324.28 71.77 L325.00 70.87 L325.71 70.89 L326.42 71.56 L327.13 70.91 L327.84 71.11 L328.56 70.99 L329.27 71.37 L329.98 71.33 L330.69 71.27 L331.40 71.25 L332.11 70.95 L332.82 70.95 L333.53 71.25 L334.24 71.22 L334.96 71.72 L335.67 71.47 L336.38 71.12 L337.09 71.40 L337.80 71.57 L338.51 71.29 L339.22 71.22 L339.93 71.40 L340.64 71.05 L341.36 71.92 L342.07 71.64 L342.78 71.38 L343.49 71.42 L344.20 72.26 L344.91 71.31 L345.62 71.62 L346.33 71.31 L347.04 72.18 L347.76 71.39 L348.47 71.61 L349.18 71.90 L349.89 72.12 L350.60 72.06 L351.31 72.10 L352.02 72.14 L352.73 72.29 L353.44 72.96 L354.16 72.01 L354.87 72.40 L355.58 71.88 L356.29 72.35 L357.00 71.88 L357.70 72.01 L358.40 71.89 L359.10 72.21 L359.80 72.02 L360.50 72.60 L361.20 72.24 L361.90 72.15 L362.60 72.48 L363.30 72.04 L364.00 72.32 L364.70 72.89 L365.40 72.30 L366.10 71.88 L366.80 72.76 L367.50 73.17 L368.20 72.84 L368.90 72.87 L369.60 73.09 L370.30 72.81 L371.00 72.85 L371.72 73.34 L372.45 72.93 L373.17 73.40 L373.89 73.73 L374.62 74.29 L375.34 73.93 L376.06 74.65 L376.79 74.35 L377.51 74.15 L378.24 75.13 L378.96 75.85 L379.68 75.17 L380.41 75.63 L381.13 75.23 L381.85 75.26 L382.58 75.64 L383.30 75.48 L384.02 76.08 L384.73 76.65 L385.45 75.87 L386.16 76.80 L386.88 76.37 L387.59 77.20 L388.31 77.21 L389.02 77.21 L389.74 77.16 L390.45 77.60 L391.17 77.82 L391.88 77.54 L392.60 77.32 L393.32 77.95 L394.03 78.78 L394.75 77.67 L395.46 79.08 L396.18 79.20 L396.89 78.83 L397.61 78.94 L398.32 79.60 L399.04 79.64 L399.75 79.42 L400.47 80.13 L401.18 80.16 L401.90 81.27 L402.63 81.05 L403.36 81.39 L404.09 81.08 L404.82 82.04 L405.56 82.32 L406.29 82.05 L407.02 82.18 L407.75 83.13 L408.48 83.34 L409.21 83.01 L409.94 83.32 L410.68 83.72 L411.41 83.83 L412.14 84.40 L412.87 84.37 L413.60 85.43 L414.32 85.33 L415.04 85.85 L415.75 86.08 L416.47 86.87 L417.19 87.12 L417.91 88.33 L418.62 88.42 L419.34 89.26 L420.06 89.29 L420.78 89.80 L421.49 90.11 L422.21 90.89 L422.93 91.32 L423.65 92.06 L424.36 92.73 L425.08 92.69 L425.80 93.41 M361.00 72.00 L361.00 82.80" fill="none" stroke="#b8e2a6" stroke-width="2.60" stroke-linejoin="round" stroke-opacity="0.60"/>
<path d="M25.40 109.65 L26.22 109.17 L27.05 107.48 L27.88 107.51 L28.70 107.75 L29.48 108.73 L30.26 109.03 L31.04 110.08 L31.82 111.04 L32.60 112.04 L33.30 125.62 L33.80 125.42 L34.60 111.64 L35.40 111.34 L36.20 109.73 L37.00 108.73 L37.80 108.31 L38.60 107.09 L39.34 106.40 L40.08 105.28 L40.82 104.32 L41.56 103.20 L42.30 101.81 L43.04 102.45 L43.78 99.14 L44.52 100.21 L45.26 97.49 L46.00 98.49 L46.74 97.76 L47.48 96.39 L48.22 95.94 L48.96 95.66 L49.70 94.17 L50.52 94.40 L51.33 92.97 L52.15 93.27 L52.97 92.45 L53.78 91.84 L54.60 89.64 L55.31 90.53 L56.03 89.46 L56.74 88.54 L57.46 88.17 L58.17 87.63 L58.89 87.59 L59.60 86.85 L60.37 85.33 L61.14 85.04 L61.91 84.25 L62.69 83.74 L63.46 84.19 L64.23 81.20 L65.00 81.86 L65.77 80.59 L66.54 80.56 L67.31 79.74 L68.09 79.39 L68.86 78.79 L69.63 78.30 L70.40 78.20 L71.11 77.22 L71.83 76.80 L72.54 77.02 L73.26 76.56 L73.97 75.94 L74.69 77.04 L75.40 74.78 L76.11 74.62 L76.83 74.47 L77.54 74.46 L78.26 73.64 L78.97 73.54 L79.69 73.04 L80.40 72.33 L81.11 72.38 L81.82 71.83 L82.53 71.06 L83.23 70.75 L83.94 70.17 L84.65 69.49 L85.36 69.09 L86.07 69.18 L86.78 68.03 L87.48 67.74 L88.19 67.12 L88.90 66.69 L89.64 68.36 L90.38 66.47 L91.12 67.28 L91.86 66.97 L92.60 66.36 L93.34 66.21 L94.08 66.16 L94.82 66.76 L95.56 66.40 L96.30 66.30 L97.04 66.37 L97.78 66.44 L98.52 66.06 L99.26 66.32 L100.00 65.73 L100.71 66.38 L101.43 66.20 L102.14 66.18 L102.86 65.95 L103.57 65.92 L104.29 66.28 L105.00 66.13 L105.71 65.92 L106.43 66.12 L107.14 66.18 L107.86 65.68 L108.57 66.28 L109.29 65.99 L110.00 65.54 L110.71 65.66 L111.43 66.44 L112.14 65.60 L112.86 66.04 L113.57 66.01 L114.29 66.33 L115.00 65.91 L115.71 65.71 L116.43 65.89 L117.14 65.62 L117.86 65.27 L118.57 65.69 L119.29 65.92 L120.00 65.85 L120.71 65.77 L121.43 66.53 L122.14 65.85 L122.86 66.06 L123.57 65.84 L124.29 66.57 L125.00 66.27 L125.77 65.44 L126.53 64.99 L127.30 64.87 L128.07 63.93 L128.83 63.43 L129.60 63.13 L130.35 62.97 L131.10 62.31 L131.85 62.18 L132.60 61.57 L133.35 61.66 L134.10 61.50 L134.87 61.81 L135.63 62.23 L136.40 62.68 L137.17 61.99 L137.93 63.02 L138.70 62.44 L139.47 61.10 L140.23 62.12 L141.00 59.92 L141.77 60.27 L142.53 59.81 L143.30 59.80 L144.05 59.45 L144.80 60.28 L145.55 60.72 L146.30 61.22 L147.05 61.01 L147.80 61.73 L148.57 61.07 L149.33 60.62 L150.10 59.73 L150.87 59.34 L151.63 58.51 L152.40 58.30 L153.16 59.29 L153.91 57.76 L154.67 57.70 L155.42 57.15 L156.18 57.84 L156.93 57.19 L157.69 56.69 L158.44 56.09 L159.20 56.01 L159.97 57.22 L160.73 56.64 L161.50 57.13 L162.27 57.00 L163.03 57.55 L163.80 57.47 L164.57 57.84 L165.33 57.84 L166.10 58.20 L166.87 57.82 L167.63 58.26 L168.40 57.83 L169.17 57.09 L169.93 57.11 L170.70 57.63 L171.47 56.90 L172.23 55.81 L173.00 55.51 L173.85 55.57 L174.70 54.46 L175.55 53.86 L176.40 52.72 L177.11 52.36 L177.82 51.91 L178.54 51.45 L179.25 50.28 L179.96 49.95 L180.68 50.39 L181.39 49.41 L182.10 49.39 L182.86 48.48 L183.61 48.27 L184.37 47.90 L185.12 48.20 L185.88 47.56 L186.63 46.91 L187.39 46.11 L188.14 46.17 L188.90 46.18 L189.67 45.80 L190.43 45.05 L191.20 45.14 L191.97 44.59 L192.73 44.37 L193.50 44.80 L194.27 44.91 L195.03 46.13 L195.80 46.51 L196.57 47.43 L197.33 47.64 L198.10 48.43 L198.81 49.04 L199.53 49.05 L200.24 49.55 L200.95 50.53 L201.66 51.24 L202.38 51.01 L203.09 52.10 L203.80 52.78 L204.51 53.46 L205.23 53.87 L205.94 54.21 L206.65 55.14 L207.36 55.70 L208.07 57.00 L208.79 56.74 L209.50 56.93 L210.26 57.83 L211.01 57.71 L211.77 57.80 L212.52 58.00 L213.28 58.48 L214.03 58.94 L214.79 58.39 L215.54 59.07 L216.30 59.72 L217.03 58.85 L217.75 59.53 L218.48 59.20 L219.20 59.38 L219.93 59.13 L220.65 58.84 L221.38 59.06 L222.10 58.92 L222.82 58.31 L223.55 58.66 L224.28 58.10 L225.00 58.55 L225.72 59.01 L226.44 58.48 L227.16 58.24 L227.88 58.50 L228.61 58.04 L229.33 57.70 L230.05 57.65 L230.77 57.78 L231.49 57.78 L232.21 58.77 L232.93 58.00 L233.65 58.02 L234.37 57.78 L235.09 56.44 L235.82 58.08 L236.54 57.53 L237.26 57.26 L237.98 57.37 L238.70 57.67 L239.42 57.86 L240.14 56.94 L240.86 55.91 L241.58 57.46 L242.31 57.36 L243.03 58.06 L243.75 58.49 L244.47 57.16 L245.19 57.54 L245.91 57.57 L246.63 57.35 L247.35 57.87 L248.07 56.49 L248.79 57.25 L249.52 57.80 L250.24 56.95 L250.96 57.61 L251.68 56.96 L252.40 57.65 L253.11 57.86 L253.83 58.07 L254.54 57.87 L255.25 58.31 L255.96 58.82 L256.68 58.86 L257.39 60.15 L258.10 60.51 L258.81 59.71 L259.53 60.64 L260.24 60.20 L260.95 60.45 L261.66 61.48 L262.38 61.38 L263.09 62.04 L263.80 62.13 L264.57 62.83 L265.33 63.16 L266.10 64.04 L266.87 64.13 L267.63 64.55 L268.40 65.17 L269.17 65.88 L269.93 68.09 L270.70 66.56 L271.40 67.05 L272.10 66.73 L272.80 66.39 L273.50 66.37 L274.20 66.88 L274.90 65.86 L275.60 67.12 L276.30 65.81 L277.00 65.41 L277.70 65.61 L278.40 65.15 L279.10 65.55 L279.80 65.34 L280.56 65.40 L281.32 65.60 L282.07 66.52 L282.83 65.16 L283.59 66.93 L284.35 66.87 L285.11 67.50 L285.87 67.98 L286.62 68.26 L287.38 68.14 L288.14 68.07 L288.90 68.64 L289.63 69.16 L290.35 68.32 L291.08 68.78 L291.81 68.57 L292.54 69.13 L293.26 68.46 L293.99 68.95 L294.72 68.75 L295.45 68.42 L296.17 69.12 L296.90 68.62 L297.63 68.68 L298.35 68.36 L299.08 69.25 L299.81 68.81 L300.54 70.05 L301.26 68.52 L301.99 68.40 L302.72 68.07 L303.45 69.00 L304.17 68.32 L304.90 68.88 L305.62 70.05 L306.34 68.20 L307.05 69.04 L307.77 68.91 L308.49 69.12 L309.21 69.38 L309.92 69.02 L310.64 69.70 L311.36 69.87 L312.08 69.51 L312.80 70.04 L313.51 69.68 L314.23 70.14 L314.95 69.69 L315.67 69.97 L316.39 70.42 L317.10 70.51 L317.82 69.83 L318.54 70.82 L319.26 70.19 L319.98 70.66 L320.69 70.46 L321.41 69.76 L322.13 71.24 L322.85 71.29 L323.56 71.24 L324.28 71.77 L325.00 70.87 L325.71 70.89 L326.42 71.56 L327.13 70.91 L327.84 71.11 L328.56 70.99 L329.27 71.37 L329.98 71.33 L330.69 71.27 L331.40 71.25 L332.11 70.95 L332.82 70.95 L333.53 71.25 L334.24 71.22 L334.96 71.72 L335.67 71.47 L336.38 71.12 L337.09 71.40 L337.80 71.57 L338.51 71.29 L339.22 71.22 L339.93 71.40 L340.64 71.05 L341.36 71.92 L342.07 71.64 L342.78 71.38 L343.49 71.42 L344.20 72.26 L344.91 71.31 L345.62 71.62 L346.33 71.31 L347.04 72.18 L347.76 71.39 L348.47 71.61 L349.18 71.90 L349.89 72.12 L350.60 72.06 L351.31 72.10 L352.02 72.14 L352.73 72.29 L353.44 72.96 L354.16 72.01 L354.87 72.40 L355.58 71.88 L356.29 72.35 L357.00 71.88 L357.70 72.01 L358.40 71.89 L359.10 72.21 L359.80 72.02 L360.50 72.60 L361.20 72.24 L361.90 72.15 L362.60 72.48 L363.30 72.04 L364.00 72.32 L364.70 72.89 L365.40 72.30 L366.10 71.88 L366.80 72.76 L367.50 73.17 L368.20 72.84 L368.90 72.87 L369.60 73.09 L370.30 72.81 L371.00 72.85 L371.72 73.34 L372.45 72.93 L373.17 73.40 L373.89 73.73 L374.62 74.29 L375.34 73.93 L376.06 74.65 L376.79 74.35 L377.51 74.15 L378.24 75.13 L378.96 75.85 L379.68 75.17 L380.41 75.63 L381.13 75.23 L381.85 75.26 L382.58 75.64 L383.30 75.48 L384.02 76.08 L384.73 76.65 L385.45 75.87 L386.16 76.80 L386.88 76.37 L387.59 77.20 L388.31 77.21 L389.02 77.21 L389.74 77.16 L390.45 77.60 L391.17 77.82 L391.88 77.54 L392.60 77.32 L393.32 77.95 L394.03 78.78 L394.75 77.67 L395.46 79.08 L396.18 79.20 L396.89 78.83 L397.61 78.94 L398.32 79.60 L399.04 79.64 L399.75 79.42 L400.47 80.13 L401.18 80.16 L401.90 81.27 L402.63 81.05 L403.36 81.39 L404.09 81.08 L404.82 82.04 L405.56 82.32 L406.29 82.05 L407.02 82.18 L407.75 83.13 L408.48 83.34 L409.21 83.01 L409.94 83.32 L410.68 83.72 L411.41 83.83 L412.14 84.40 L412.87 84.37 L413.60 85.43 L414.32 85.33 L415.04 85.85 L415.75 86.08 L416.47 86.87 L417.19 87.12 L417.91 88.33 L418.62 88.42 L419.34 89.26 L420.06 89.29 L420.78 89.80 L421.49 90.11 L422.21 90.89 L422.93 91.32 L423.65 92.06 L424.36 92.73 L425.08 92.69 L425.80 93.41 M361.00 72.00 L361.00 82.80" fill="none" stroke="#4b9534" stroke-width="1.00" stroke-linejoin="round" stroke-opacity="1.00"/>
<path d="M25.40 101.39 L26.10 101.15 L26.80 101.13 L27.50 100.69 L28.40 99.02 L29.30 98.20 L30.05 98.54 L30.80 99.03 L31.60 96.33 L32.40 92.11 L33.20 94.66 L34.00 95.74 L34.70 97.66 L35.40 98.79 L36.10 99.06 L36.93 98.54 L37.77 98.90 L38.60 98.20 L39.34 97.80 L40.08 97.24 L40.82 94.43 L41.56 95.84 L42.30 92.79 L43.00 92.84 L43.70 92.94 L44.40 94.86 L45.10 93.94 L45.80 93.38 L46.50 93.71 L47.20 92.70 L47.94 92.89 L48.68 91.27 L49.42 89.84 L50.16 89.87 L50.90 89.25 L51.64 89.44 L52.38 88.23 L53.12 88.13 L53.86 86.63 L54.60 86.41 L55.34 86.13 L56.08 85.70 L56.82 84.82 L57.56 84.01 L58.30 84.40 L59.04 82.45 L59.78 82.87 L60.52 82.06 L61.26 81.67 L62.00 79.72 L62.75 80.42 L63.50 80.03 L64.25 79.78 L65.00 78.79 L65.77 78.59 L66.54 78.04 L67.31 77.95 L68.09 77.13 L68.86 76.94 L69.63 76.05 L70.40 76.12 L71.11 75.89 L71.83 74.68 L72.54 74.55 L73.26 73.76 L73.97 73.49 L74.69 72.27 L75.40 72.96 L76.11 70.08 L76.83 72.88 L77.54 71.43 L78.26 72.15 L78.97 70.74 L79.69 70.42 L80.40 69.91 L81.11 70.37 L81.82 70.41 L82.53 69.28 L83.23 69.27 L83.94 69.37 L84.65 68.27 L85.36 68.76 L86.07 67.64 L86.78 68.12 L87.48 67.81 L88.19 66.89 L88.90 66.86 L89.64 67.14 L90.38 66.14 L91.12 66.79 L91.86 66.83 L92.60 67.07 L93.34 65.30 L94.08 66.66 L94.82 65.97 L95.56 64.82 L96.30 66.45 L97.04 65.62 L97.78 66.59 L98.52 66.02 L99.26 66.25 L100.00 65.91 L100.71 65.94 L101.43 66.43 L102.14 65.65 L102.86 66.00 L103.57 64.00 L104.29 65.90 L105.00 66.69 L105.71 66.58 L106.43 66.71 L107.14 66.65 L107.86 66.33 L108.57 66.30 L109.29 66.21 L110.00 66.01 L110.71 65.17 L111.43 66.50 L112.14 65.81 L112.86 66.17 L113.57 66.24 L114.29 66.43 L115.00 66.74 L115.71 67.18 L116.43 65.72 L117.14 66.13 L117.86 66.51 L118.57 66.10 L119.29 65.78 L120.00 65.99 L120.71 67.11 L121.43 67.10 L122.14 66.55 L122.86 68.07 L123.57 68.29 L124.29 67.60 L125.00 67.26 L125.72 67.23 L126.44 67.48 L127.16 67.53 L127.88 68.18 L128.61 68.46 L129.33 68.49 L130.05 68.61 L130.77 67.76 L131.49 68.03 L132.21 68.50 L132.93 67.88 L133.65 68.68 L134.37 68.57 L135.09 68.03 L135.82 69.88 L136.54 68.84 L137.26 68.32 L137.98 69.15 L138.70 66.51 L139.40 68.93 L140.11 68.72 L140.81 69.70 L141.52 69.20 L142.22 69.61 L142.92 68.75 L143.63 69.00 L144.33 69.96 L145.03 69.62 L145.74 69.90 L146.44 70.42 L147.15 69.73 L147.85 69.00 L148.55 69.70 L149.26 68.61 L149.96 70.05 L150.67 70.40 L151.37 69.99 L152.07 69.64 L152.78 69.45 L153.48 70.86 L154.18 70.47 L154.89 70.55 L155.59 70.96 L156.30 71.31 L157.00 71.43 L157.72 71.25 L158.44 70.90 L159.16 70.30 L159.88 70.83 L160.61 70.42 L161.33 70.34 L162.05 69.86 L162.77 69.49 L163.49 68.32 L164.21 69.10 L164.93 69.11 L165.65 68.64 L166.37 66.42 L167.09 69.04 L167.82 68.35 L168.54 66.03 L169.26 67.82 L169.98 68.15 L170.70 68.22 L171.42 68.08 L172.14 66.73 L172.86 67.92 L173.58 67.55 L174.31 66.98 L175.03 67.45 L175.75 64.92 L176.47 66.45 L177.19 66.27 L177.91 66.13 L178.63 66.81 L179.35 65.88 L180.07 66.68 L180.79 65.50 L181.52 66.33 L182.24 64.95 L182.96 66.09 L183.68 66.03 L184.40 65.19 L185.13 65.49 L185.86 65.43 L186.58 64.59 L187.31 64.49 L188.04 64.74 L188.77 64.97 L189.50 65.66 L190.22 64.74 L190.95 64.04 L191.68 64.75 L192.41 62.19 L193.14 65.18 L193.86 64.11 L194.59 64.22 L195.32 64.21 L196.05 63.73 L196.78 63.55 L197.50 64.06 L198.23 63.42 L198.96 64.13 L199.69 63.20 L200.42 61.74 L201.14 63.25 L201.87 63.52 L202.60 63.69 L203.30 61.37 L204.00 62.31 L204.70 64.38 L205.40 61.63 L206.10 63.74 L206.80 63.57 L207.50 63.29 L208.20 63.67 L208.90 63.56 L209.60 63.77 L210.30 64.67 L211.00 63.44 L211.70 63.92 L212.40 63.58 L213.10 64.07 L213.80 64.78 L214.50 63.99 L215.20 64.11 L215.90 64.14 L216.60 64.85 L217.30 64.37 L218.00 64.34 L218.70 64.34 L219.40 65.27 L220.10 65.20 L220.80 64.71 L221.50 65.02 L222.20 64.71 L222.90 65.30 L223.60 65.35 L224.30 64.98 L225.00 65.23 L225.72 66.45 L226.44 65.75 L227.16 65.58 L227.88 64.33 L228.61 64.38 L229.33 64.31 L230.05 64.06 L230.77 64.93 L231.49 64.77 L232.21 63.63 L232.93 64.42 L233.65 63.39 L234.37 63.50 L235.09 64.40 L235.82 63.36 L236.54 63.01 L237.26 62.91 L237.98 62.84 L238.70 62.68 L239.42 62.13 L240.13 63.16 L240.85 63.01 L241.57 63.79 L242.29 63.53 L243.00 62.90 L243.72 62.33 L244.44 63.24 L245.15 63.36 L245.87 63.60 L246.59 63.50 L247.31 64.06 L248.02 63.77 L248.74 63.32 L249.46 64.14 L250.17 63.47 L250.89 63.21 L251.61 63.07 L252.33 64.21 L253.04 63.86 L253.76 61.64 L254.48 64.20 L255.19 64.47 L255.91 63.64 L256.63 63.94 L257.35 64.82 L258.06 64.37 L258.78 64.09 L259.50 63.69 L260.21 64.33 L260.93 64.33 L261.65 64.14 L262.37 64.35 L263.08 64.32 L263.80 63.87 L264.57 64.31 L265.33 64.95 L266.10 65.39 L266.87 66.37 L267.63 66.18 L268.40 66.57 L269.17 67.20 L269.93 67.26 L270.70 68.09 L271.41 67.27 L272.12 68.17 L272.84 66.01 L273.55 67.36 L274.26 68.24 L274.97 66.99 L275.69 68.54 L276.40 67.91 L277.11 68.37 L277.82 67.62 L278.54 67.92 L279.25 67.80 L279.96 67.95 L280.68 67.60 L281.39 66.71 L282.10 68.51 L282.81 68.07 L283.52 68.68 L284.24 68.78 L284.95 68.30 L285.66 68.56 L286.38 67.91 L287.09 68.33 L287.80 68.28 L288.51 68.74 L289.23 68.42 L289.94 68.72 L290.65 68.29 L291.36 68.95 L292.07 68.93 L292.79 68.25 L293.50 68.66 L294.20 68.93 L294.90 69.20 L295.60 69.17 L296.30 69.76 L297.00 69.46 L297.70 69.56 L298.40 69.78 L299.10 70.11 L299.80 70.04 L300.50 70.25 L301.20 69.20 L301.90 69.95 L302.60 70.48 L303.32 70.77 L304.05 70.81 L304.77 70.01 L305.49 70.42 L306.21 71.10 L306.94 69.87 L307.66 71.65 L308.38 70.17 L309.10 70.20 L309.83 70.84 L310.55 70.40 L311.27 69.83 L311.99 70.79 L312.72 70.76 L313.44 69.58 L314.16 70.14 L314.88 70.26 L315.61 70.09 L316.33 69.87 L317.05 69.15 L317.77 70.23 L318.50 70.25 L319.22 69.88 L319.94 69.89 L320.66 70.48 L321.39 70.04 L322.11 70.01 L322.83 69.53 L323.55 70.94 L324.28 69.51 L325.00 69.62 L325.71 70.07 L326.42 70.00 L327.13 70.21 L327.83 69.65 L328.54 69.57 L329.25 67.77 L329.96 70.34 L330.67 69.90 L331.38 69.71 L332.09 68.22 L332.80 70.88 L333.50 69.75 L334.21 70.10 L334.92 70.97 L335.63 69.79 L336.34 69.58 L337.05 70.58 L337.76 69.44 L338.47 70.17 L339.17 69.43 L339.88 70.27 L340.59 70.83 L341.30 69.55 L342.01 70.60 L342.72 70.03 L343.43 69.82 L344.13 70.00 L344.84 69.51 L345.55 70.44 L346.26 68.32 L346.97 69.73 L347.68 70.41 L348.39 70.35 L349.10 70.56 L349.80 70.53 L350.51 69.46 L351.22 69.94 L351.93 70.77 L352.64 69.46 L353.35 69.51 L354.06 70.35 L354.77 69.50 L355.47 69.52 L356.18 69.56 L356.89 69.82 L357.60 68.57 L358.30 70.70 L359.00 70.75 L359.70 68.61 L360.40 70.62 L361.10 70.28 L361.80 70.62 L362.50 71.20 L363.20 71.00 L363.90 69.79 L364.60 72.15 L365.30 73.35 L366.00 72.03 L366.70 72.29 L367.40 72.06 L368.10 72.13 L368.80 72.16 L369.50 72.91 L370.20 73.30 L370.90 72.91 L371.60 73.74 L372.32 72.87 L373.04 73.52 L373.76 72.85 L374.48 73.63 L375.20 73.21 L375.92 73.35 L376.63 72.81 L377.35 73.29 L378.07 72.91 L378.79 73.68 L379.51 72.98 L380.23 71.52 L380.95 73.20 L381.67 74.00 L382.39 73.38 L383.11 73.74 L383.83 73.70 L384.55 73.04 L385.27 73.81 L385.98 72.91 L386.70 74.30 L387.42 73.61 L388.14 72.96 L388.86 73.92 L389.58 73.69 L390.30 73.76 L391.01 73.43 L391.72 73.95 L392.43 73.47 L393.13 73.86 L393.84 73.46 L394.55 74.37 L395.26 74.54 L395.97 73.87 L396.68 74.02 L397.39 74.93 L398.10 74.80 L398.80 74.99 L399.51 74.98 L400.22 75.25 L400.93 74.47 L401.64 75.47 L402.35 75.29 L403.06 75.09 L403.77 75.36 L404.47 75.39 L405.18 75.54 L405.89 75.35 L406.60 76.21 L407.33 74.56 L408.05 76.62 L408.78 76.86 L409.50 76.49 L410.23 76.69 L410.95 77.15 L411.68 78.36 L412.40 77.77 L413.12 78.52 L413.85 78.55 L414.57 79.51 L415.30 80.46 L416.02 79.13 L416.75 80.24 L417.47 80.06 L418.20 80.10 L418.96 80.28 L419.72 81.55 L420.48 81.33 L421.24 82.31 L422.00 81.69 L422.76 82.49 L423.52 82.75 L424.28 83.44 L425.04 83.67 L425.80 84.49 M123.40 61.00 L123.40 68.00 M109.50 63.00 L109.50 68.00 M28.00 100.00 L28.00 95.00 M31.00 99.00 L31.00 93.00 M40.00 98.00 L40.00 91.60 M60.00 82.00 L60.00 79.00 M75.00 71.00 L75.00 67.00 M172.00 67.00 L172.00 60.80 M172.50 68.00 L172.50 84.80 M233.00 63.00 L233.00 75.60 M264.00 64.00 L264.00 73.40 M295.30 69.00 L295.30 80.20 M361.10 70.00 L361.10 64.80 M392.00 73.00 L392.00 69.20 M402.00 75.00 L402.00 68.50 M412.00 78.00 L412.00 73.00 M420.00 81.00 L420.00 76.00" fill="none" stroke="#c6b4f2" stroke-width="2.80" stroke-linejoin="round" stroke-opacity="0.60"/>
<path d="M25.40 101.39 L26.10 101.15 L26.80 101.13 L27.50 100.69 L28.40 99.02 L29.30 98.20 L30.05 98.54 L30.80 99.03 L31.60 96.33 L32.40 92.11 L33.20 94.66 L34.00 95.74 L34.70 97.66 L35.40 98.79 L36.10 99.06 L36.93 98.54 L37.77 98.90 L38.60 98.20 L39.34 97.80 L40.08 97.24 L40.82 94.43 L41.56 95.84 L42.30 92.79 L43.00 92.84 L43.70 92.94 L44.40 94.86 L45.10 93.94 L45.80 93.38 L46.50 93.71 L47.20 92.70 L47.94 92.89 L48.68 91.27 L49.42 89.84 L50.16 89.87 L50.90 89.25 L51.64 89.44 L52.38 88.23 L53.12 88.13 L53.86 86.63 L54.60 86.41 L55.34 86.13 L56.08 85.70 L56.82 84.82 L57.56 84.01 L58.30 84.40 L59.04 82.45 L59.78 82.87 L60.52 82.06 L61.26 81.67 L62.00 79.72 L62.75 80.42 L63.50 80.03 L64.25 79.78 L65.00 78.79 L65.77 78.59 L66.54 78.04 L67.31 77.95 L68.09 77.13 L68.86 76.94 L69.63 76.05 L70.40 76.12 L71.11 75.89 L71.83 74.68 L72.54 74.55 L73.26 73.76 L73.97 73.49 L74.69 72.27 L75.40 72.96 L76.11 70.08 L76.83 72.88 L77.54 71.43 L78.26 72.15 L78.97 70.74 L79.69 70.42 L80.40 69.91 L81.11 70.37 L81.82 70.41 L82.53 69.28 L83.23 69.27 L83.94 69.37 L84.65 68.27 L85.36 68.76 L86.07 67.64 L86.78 68.12 L87.48 67.81 L88.19 66.89 L88.90 66.86 L89.64 67.14 L90.38 66.14 L91.12 66.79 L91.86 66.83 L92.60 67.07 L93.34 65.30 L94.08 66.66 L94.82 65.97 L95.56 64.82 L96.30 66.45 L97.04 65.62 L97.78 66.59 L98.52 66.02 L99.26 66.25 L100.00 65.91 L100.71 65.94 L101.43 66.43 L102.14 65.65 L102.86 66.00 L103.57 64.00 L104.29 65.90 L105.00 66.69 L105.71 66.58 L106.43 66.71 L107.14 66.65 L107.86 66.33 L108.57 66.30 L109.29 66.21 L110.00 66.01 L110.71 65.17 L111.43 66.50 L112.14 65.81 L112.86 66.17 L113.57 66.24 L114.29 66.43 L115.00 66.74 L115.71 67.18 L116.43 65.72 L117.14 66.13 L117.86 66.51 L118.57 66.10 L119.29 65.78 L120.00 65.99 L120.71 67.11 L121.43 67.10 L122.14 66.55 L122.86 68.07 L123.57 68.29 L124.29 67.60 L125.00 67.26 L125.72 67.23 L126.44 67.48 L127.16 67.53 L127.88 68.18 L128.61 68.46 L129.33 68.49 L130.05 68.61 L130.77 67.76 L131.49 68.03 L132.21 68.50 L132.93 67.88 L133.65 68.68 L134.37 68.57 L135.09 68.03 L135.82 69.88 L136.54 68.84 L137.26 68.32 L137.98 69.15 L138.70 66.51 L139.40 68.93 L140.11 68.72 L140.81 69.70 L141.52 69.20 L142.22 69.61 L142.92 68.75 L143.63 69.00 L144.33 69.96 L145.03 69.62 L145.74 69.90 L146.44 70.42 L147.15 69.73 L147.85 69.00 L148.55 69.70 L149.26 68.61 L149.96 70.05 L150.67 70.40 L151.37 69.99 L152.07 69.64 L152.78 69.45 L153.48 70.86 L154.18 70.47 L154.89 70.55 L155.59 70.96 L156.30 71.31 L157.00 71.43 L157.72 71.25 L158.44 70.90 L159.16 70.30 L159.88 70.83 L160.61 70.42 L161.33 70.34 L162.05 69.86 L162.77 69.49 L163.49 68.32 L164.21 69.10 L164.93 69.11 L165.65 68.64 L166.37 66.42 L167.09 69.04 L167.82 68.35 L168.54 66.03 L169.26 67.82 L169.98 68.15 L170.70 68.22 L171.42 68.08 L172.14 66.73 L172.86 67.92 L173.58 67.55 L174.31 66.98 L175.03 67.45 L175.75 64.92 L176.47 66.45 L177.19 66.27 L177.91 66.13 L178.63 66.81 L179.35 65.88 L180.07 66.68 L180.79 65.50 L181.52 66.33 L182.24 64.95 L182.96 66.09 L183.68 66.03 L184.40 65.19 L185.13 65.49 L185.86 65.43 L186.58 64.59 L187.31 64.49 L188.04 64.74 L188.77 64.97 L189.50 65.66 L190.22 64.74 L190.95 64.04 L191.68 64.75 L192.41 62.19 L193.14 65.18 L193.86 64.11 L194.59 64.22 L195.32 64.21 L196.05 63.73 L196.78 63.55 L197.50 64.06 L198.23 63.42 L198.96 64.13 L199.69 63.20 L200.42 61.74 L201.14 63.25 L201.87 63.52 L202.60 63.69 L203.30 61.37 L204.00 62.31 L204.70 64.38 L205.40 61.63 L206.10 63.74 L206.80 63.57 L207.50 63.29 L208.20 63.67 L208.90 63.56 L209.60 63.77 L210.30 64.67 L211.00 63.44 L211.70 63.92 L212.40 63.58 L213.10 64.07 L213.80 64.78 L214.50 63.99 L215.20 64.11 L215.90 64.14 L216.60 64.85 L217.30 64.37 L218.00 64.34 L218.70 64.34 L219.40 65.27 L220.10 65.20 L220.80 64.71 L221.50 65.02 L222.20 64.71 L222.90 65.30 L223.60 65.35 L224.30 64.98 L225.00 65.23 L225.72 66.45 L226.44 65.75 L227.16 65.58 L227.88 64.33 L228.61 64.38 L229.33 64.31 L230.05 64.06 L230.77 64.93 L231.49 64.77 L232.21 63.63 L232.93 64.42 L233.65 63.39 L234.37 63.50 L235.09 64.40 L235.82 63.36 L236.54 63.01 L237.26 62.91 L237.98 62.84 L238.70 62.68 L239.42 62.13 L240.13 63.16 L240.85 63.01 L241.57 63.79 L242.29 63.53 L243.00 62.90 L243.72 62.33 L244.44 63.24 L245.15 63.36 L245.87 63.60 L246.59 63.50 L247.31 64.06 L248.02 63.77 L248.74 63.32 L249.46 64.14 L250.17 63.47 L250.89 63.21 L251.61 63.07 L252.33 64.21 L253.04 63.86 L253.76 61.64 L254.48 64.20 L255.19 64.47 L255.91 63.64 L256.63 63.94 L257.35 64.82 L258.06 64.37 L258.78 64.09 L259.50 63.69 L260.21 64.33 L260.93 64.33 L261.65 64.14 L262.37 64.35 L263.08 64.32 L263.80 63.87 L264.57 64.31 L265.33 64.95 L266.10 65.39 L266.87 66.37 L267.63 66.18 L268.40 66.57 L269.17 67.20 L269.93 67.26 L270.70 68.09 L271.41 67.27 L272.12 68.17 L272.84 66.01 L273.55 67.36 L274.26 68.24 L274.97 66.99 L275.69 68.54 L276.40 67.91 L277.11 68.37 L277.82 67.62 L278.54 67.92 L279.25 67.80 L279.96 67.95 L280.68 67.60 L281.39 66.71 L282.10 68.51 L282.81 68.07 L283.52 68.68 L284.24 68.78 L284.95 68.30 L285.66 68.56 L286.38 67.91 L287.09 68.33 L287.80 68.28 L288.51 68.74 L289.23 68.42 L289.94 68.72 L290.65 68.29 L291.36 68.95 L292.07 68.93 L292.79 68.25 L293.50 68.66 L294.20 68.93 L294.90 69.20 L295.60 69.17 L296.30 69.76 L297.00 69.46 L297.70 69.56 L298.40 69.78 L299.10 70.11 L299.80 70.04 L300.50 70.25 L301.20 69.20 L301.90 69.95 L302.60 70.48 L303.32 70.77 L304.05 70.81 L304.77 70.01 L305.49 70.42 L306.21 71.10 L306.94 69.87 L307.66 71.65 L308.38 70.17 L309.10 70.20 L309.83 70.84 L310.55 70.40 L311.27 69.83 L311.99 70.79 L312.72 70.76 L313.44 69.58 L314.16 70.14 L314.88 70.26 L315.61 70.09 L316.33 69.87 L317.05 69.15 L317.77 70.23 L318.50 70.25 L319.22 69.88 L319.94 69.89 L320.66 70.48 L321.39 70.04 L322.11 70.01 L322.83 69.53 L323.55 70.94 L324.28 69.51 L325.00 69.62 L325.71 70.07 L326.42 70.00 L327.13 70.21 L327.83 69.65 L328.54 69.57 L329.25 67.77 L329.96 70.34 L330.67 69.90 L331.38 69.71 L332.09 68.22 L332.80 70.88 L333.50 69.75 L334.21 70.10 L334.92 70.97 L335.63 69.79 L336.34 69.58 L337.05 70.58 L337.76 69.44 L338.47 70.17 L339.17 69.43 L339.88 70.27 L340.59 70.83 L341.30 69.55 L342.01 70.60 L342.72 70.03 L343.43 69.82 L344.13 70.00 L344.84 69.51 L345.55 70.44 L346.26 68.32 L346.97 69.73 L347.68 70.41 L348.39 70.35 L349.10 70.56 L349.80 70.53 L350.51 69.46 L351.22 69.94 L351.93 70.77 L352.64 69.46 L353.35 69.51 L354.06 70.35 L354.77 69.50 L355.47 69.52 L356.18 69.56 L356.89 69.82 L357.60 68.57 L358.30 70.70 L359.00 70.75 L359.70 68.61 L360.40 70.62 L361.10 70.28 L361.80 70.62 L362.50 71.20 L363.20 71.00 L363.90 69.79 L364.60 72.15 L365.30 73.35 L366.00 72.03 L366.70 72.29 L367.40 72.06 L368.10 72.13 L368.80 72.16 L369.50 72.91 L370.20 73.30 L370.90 72.91 L371.60 73.74 L372.32 72.87 L373.04 73.52 L373.76 72.85 L374.48 73.63 L375.20 73.21 L375.92 73.35 L376.63 72.81 L377.35 73.29 L378.07 72.91 L378.79 73.68 L379.51 72.98 L380.23 71.52 L380.95 73.20 L381.67 74.00 L382.39 73.38 L383.11 73.74 L383.83 73.70 L384.55 73.04 L385.27 73.81 L385.98 72.91 L386.70 74.30 L387.42 73.61 L388.14 72.96 L388.86 73.92 L389.58 73.69 L390.30 73.76 L391.01 73.43 L391.72 73.95 L392.43 73.47 L393.13 73.86 L393.84 73.46 L394.55 74.37 L395.26 74.54 L395.97 73.87 L396.68 74.02 L397.39 74.93 L398.10 74.80 L398.80 74.99 L399.51 74.98 L400.22 75.25 L400.93 74.47 L401.64 75.47 L402.35 75.29 L403.06 75.09 L403.77 75.36 L404.47 75.39 L405.18 75.54 L405.89 75.35 L406.60 76.21 L407.33 74.56 L408.05 76.62 L408.78 76.86 L409.50 76.49 L410.23 76.69 L410.95 77.15 L411.68 78.36 L412.40 77.77 L413.12 78.52 L413.85 78.55 L414.57 79.51 L415.30 80.46 L416.02 79.13 L416.75 80.24 L417.47 80.06 L418.20 80.10 L418.96 80.28 L419.72 81.55 L420.48 81.33 L421.24 82.31 L422.00 81.69 L422.76 82.49 L423.52 82.75 L424.28 83.44 L425.04 83.67 L425.80 84.49 M123.40 61.00 L123.40 68.00 M109.50 63.00 L109.50 68.00 M28.00 100.00 L28.00 95.00 M31.00 99.00 L31.00 93.00 M40.00 98.00 L40.00 91.60 M60.00 82.00 L60.00 79.00 M75.00 71.00 L75.00 67.00 M172.00 67.00 L172.00 60.80 M172.50 68.00 L172.50 84.80 M233.00 63.00 L233.00 75.60 M264.00 64.00 L264.00 73.40 M295.30 69.00 L295.30 80.20 M361.10 70.00 L361.10 64.80 M392.00 73.00 L392.00 69.20 M402.00 75.00 L402.00 68.50 M412.00 78.00 L412.00 73.00 M420.00 81.00 L420.00 76.00" fill="none" stroke="#6b44d0" stroke-width="1.10" stroke-linejoin="round" stroke-opacity="1.00"/>
<path d="M25.40 101.92 L26.15 102.15 L26.91 101.46 L27.66 101.79 L28.42 101.56 L29.17 101.35 L29.93 101.15 L30.68 101.20 L31.44 101.14 L32.19 100.91 L32.95 100.79 L33.70 100.22 L34.49 100.33 L35.28 100.16 L36.06 100.58 L36.85 100.48 L37.64 99.97 L38.42 100.18 L39.21 100.11 L40.00 99.73 L40.71 99.36 L41.43 99.01 L42.14 98.37 L42.86 97.58 L43.57 97.30 L44.29 96.45 L45.00 96.03 L45.71 95.38 L46.43 95.14 L47.14 94.37 L47.86 93.90 L48.57 93.25 L49.29 92.50 L50.00 92.28 L50.71 91.66 L51.42 91.19 L52.12 90.48 L52.83 89.95 L53.54 89.74 L54.25 89.43 L54.95 88.95 L55.66 88.22 L56.37 87.63 L57.08 87.39 L57.78 87.15 L58.49 86.26 L59.20 86.14 L59.92 85.27 L60.64 84.82 L61.36 84.13 L62.08 83.75 L62.80 83.26 L63.52 83.08 L64.24 82.54 L64.96 81.55 L65.68 81.09 L66.40 80.93 L67.12 79.95 L67.84 79.49 L68.56 79.03 L69.28 78.30 L70.00 77.86 L70.75 77.40 L71.51 76.85 L72.26 76.66 L73.02 75.71 L73.77 75.13 L74.52 75.01 L75.28 74.20 L76.03 73.89 L76.78 73.24 L77.54 72.78 L78.29 71.97 L79.05 71.33 L79.80 71.15 L80.52 70.82 L81.24 70.71 L81.96 70.62 L82.69 70.51 L83.41 70.06 L84.13 69.95 L84.85 70.13 L85.57 69.73 L86.29 69.43 L87.01 69.47 L87.74 69.09 L88.46 69.23 L89.18 68.64 L89.90 68.95 L90.62 68.63 L91.34 68.34 L92.06 68.53 L92.79 67.97 L93.51 67.79 L94.23 67.53 L94.95 67.65 L95.67 67.62 L96.39 67.41 L97.11 67.09 L97.84 67.17 L98.56 66.59 L99.28 66.54 L100.00 66.59 L100.71 66.81 L101.43 66.64 L102.14 66.70 L102.86 66.78 L103.57 66.58 L104.29 66.94 L105.00 66.85 L105.71 66.63 L106.43 66.69 L107.14 66.97 L107.86 66.72 L108.57 66.65 L109.29 67.09 L110.00 66.92 L110.71 66.94 L111.43 67.06 L112.14 67.23 L112.86 66.79 L113.57 66.95 L114.29 66.81 L115.00 67.05 L115.71 67.13 L116.43 67.37 L117.14 67.29 L117.86 67.26 L118.57 67.19 L119.29 67.32 L120.00 67.16 L120.71 67.54 L121.43 67.53 L122.14 67.59 L122.86 67.20 L123.57 67.55 L124.29 67.62 L125.00 67.50 L125.71 67.81 L126.42 67.87 L127.13 67.85 L127.84 67.96 L128.56 67.92 L129.27 68.13 L129.98 67.75 L130.69 68.16 L131.40 68.22 L132.11 68.23 L132.82 68.10 L133.53 68.04 L134.24 68.43 L134.96 68.63 L135.67 68.36 L136.38 68.39 L137.09 68.47 L137.80 68.46 L138.51 68.87 L139.22 69.12 L139.93 69.08 L140.64 68.88 L141.36 69.15 L142.07 68.84 L142.78 69.37 L143.49 69.13 L144.20 69.00 L144.91 69.44 L145.62 69.22 L146.33 69.37 L147.04 69.30 L147.76 69.60 L148.47 69.73 L149.18 69.95 L149.89 69.56 L150.60 70.10 L151.31 69.73 L152.02 69.87 L152.73 70.18 L153.44 70.07 L154.16 70.13 L154.87 70.34 L155.58 70.20 L156.29 70.61 L157.00 70.33 L157.70 70.58 L158.41 70.44 L159.11 70.16 L159.81 69.74 L160.51 70.06 L161.22 69.49 L161.92 69.66 L162.62 69.49 L163.32 69.15 L164.03 69.37 L164.73 69.31 L165.43 69.10 L166.13 68.87 L166.84 68.82 L167.54 68.75 L168.24 68.41 L168.94 68.67 L169.65 68.63 L170.35 68.39 L171.05 68.37 L171.75 67.87 L172.46 68.14 L173.16 67.47 L173.86 67.59 L174.56 67.27 L175.27 67.34 L175.97 67.36 L176.67 67.25 L177.37 66.98 L178.08 66.79 L178.78 66.58 L179.48 66.59 L180.18 66.39 L180.89 66.22 L181.59 66.42 L182.29 66.17 L182.99 66.00 L183.70 65.74 L184.40 65.92 L185.11 65.61 L185.82 65.65 L186.54 65.82 L187.25 65.89 L187.96 66.05 L188.67 65.91 L189.39 66.02 L190.10 66.00 L190.81 65.87 L191.52 65.86 L192.24 65.46 L192.95 65.54 L193.66 65.42 L194.37 65.92 L195.08 65.83 L195.80 65.77 L196.51 65.54 L197.22 65.59 L197.93 65.46 L198.65 65.74 L199.36 65.95 L200.07 65.53 L200.78 65.37 L201.49 65.44 L202.21 65.54 L202.92 65.86 L203.63 65.79 L204.34 65.58 L205.06 65.36 L205.77 65.35 L206.48 65.37 L207.19 65.74 L207.91 65.55 L208.62 65.86 L209.33 65.80 L210.04 65.72 L210.75 65.53 L211.47 65.73 L212.18 65.30 L212.89 65.28 L213.60 65.55 L214.32 65.51 L215.03 65.32 L215.74 65.34 L216.45 65.20 L217.16 65.72 L217.88 65.60 L218.59 65.73 L219.30 65.74 L220.01 65.41 L220.73 65.58 L221.44 65.37 L222.15 65.62 L222.86 65.63 L223.58 65.19 L224.29 65.11 L225.00 65.23 L225.70 65.48 L226.41 65.39 L227.11 65.20 L227.81 65.72 L228.52 65.73 L229.22 65.56 L229.92 65.34 L230.62 65.88 L231.33 65.70 L232.03 65.45 L232.73 65.63 L233.44 65.84 L234.14 66.03 L234.84 65.82 L235.55 65.95 L236.25 65.72 L236.95 65.77 L237.66 66.20 L238.36 65.91 L239.06 65.78 L239.76 66.10 L240.47 65.85 L241.17 65.93 L241.87 66.11 L242.58 66.22 L243.28 66.28 L243.98 66.35 L244.69 66.23 L245.39 66.03 L246.09 66.46 L246.80 66.09 L247.50 66.37 L248.20 66.36 L248.90 66.55 L249.61 66.61 L250.31 66.35 L251.01 66.63 L251.72 66.68 L252.42 66.58 L253.12 66.42 L253.83 66.91 L254.53 66.75 L255.23 66.46 L255.94 66.60 L256.64 67.08 L257.34 66.65 L258.04 66.78 L258.75 67.05 L259.45 67.10 L260.15 67.02 L260.86 67.11 L261.56 66.72 L262.26 66.79 L262.97 67.35 L263.67 67.27 L264.37 66.85 L265.08 66.88 L265.78 67.03 L266.48 67.47 L267.18 67.08 L267.89 67.38 L268.59 67.57 L269.29 67.42 L270.00 67.62 L270.70 67.26 L271.41 67.23 L272.11 67.19 L272.82 67.67 L273.52 67.31 L274.23 67.87 L274.93 67.75 L275.64 67.48 L276.34 67.89 L277.05 67.54 L277.75 67.78 L278.46 67.58 L279.16 68.02 L279.87 68.12 L280.57 68.18 L281.28 67.67 L281.98 68.21 L282.69 68.07 L283.39 68.27 L284.10 68.12 L284.80 68.23 L285.51 68.25 L286.21 68.41 L286.92 68.01 L287.62 68.04 L288.33 68.37 L289.04 68.25 L289.74 68.36 L290.45 68.16 L291.15 68.64 L291.86 68.24 L292.56 68.77 L293.27 68.79 L293.97 68.62 L294.68 68.45 L295.38 68.81 L296.09 68.58 L296.79 68.75 L297.50 68.60 L298.20 69.15 L298.91 68.93 L299.61 68.86 L300.32 68.74 L301.02 69.16 L301.73 69.27 L302.43 69.30 L303.14 68.89 L303.84 69.09 L304.55 69.09 L305.25 69.40 L305.96 69.07 L306.66 69.38 L307.37 69.65 L308.08 69.56 L308.78 69.14 L309.49 69.22 L310.19 69.28 L310.90 69.66 L311.60 69.64 L312.31 69.63 L313.01 69.63 L313.72 69.64 L314.42 69.80 L315.13 69.86 L315.83 70.06 L316.54 69.99 L317.24 70.06 L317.95 70.17 L318.65 70.16 L319.36 70.13 L320.06 69.75 L320.77 70.18 L321.47 70.32 L322.18 70.11 L322.88 70.41 L323.59 70.03 L324.29 70.53 L325.00 70.27 L325.71 70.47 L326.41 70.25 L327.12 70.32 L327.82 70.40 L328.53 70.43 L329.24 70.34 L329.94 70.59 L330.65 70.96 L331.35 70.82 L332.06 71.03 L332.77 70.97 L333.47 71.07 L334.18 71.21 L334.88 71.11 L335.59 70.87 L336.30 70.90 L337.00 71.05 L337.71 70.86 L338.42 71.03 L339.12 71.47 L339.83 71.54 L340.53 71.23 L341.24 71.54 L341.95 71.59 L342.65 71.71 L343.36 71.70 L344.06 71.59 L344.77 71.38 L345.48 71.86 L346.18 71.60 L346.89 71.83 L347.59 71.72 L348.30 71.87 L349.01 72.18 L349.71 71.74 L350.42 72.01 L351.12 72.13 L351.83 72.11 L352.54 72.39 L353.24 72.12 L353.95 72.47 L354.65 72.39 L355.36 72.60 L356.07 72.12 L356.77 72.24 L357.48 72.33 L358.18 72.75 L358.89 72.26 L359.60 72.46 L360.30 72.78 L361.01 72.99 L361.72 72.55 L362.42 72.75 L363.13 72.95 L363.83 73.00 L364.54 73.08 L365.25 73.13 L365.95 72.87 L366.66 72.93 L367.36 72.83 L368.07 73.28 L368.78 73.04 L369.48 73.11 L370.19 73.58 L370.89 73.44 L371.60 73.45 L372.30 73.57 L373.00 73.60 L373.70 73.73 L374.40 73.57 L375.10 73.50 L375.80 73.57 L376.50 73.61 L377.20 73.89 L377.90 73.83 L378.60 73.89 L379.30 74.19 L380.00 74.55 L380.70 74.45 L381.40 74.27 L382.10 74.64 L382.80 74.36 L383.50 74.38 L384.20 74.58 L384.90 74.71 L385.60 74.95 L386.30 74.88 L387.00 75.12 L387.70 74.81 L388.40 75.39 L389.10 75.11 L389.80 75.47 L390.50 75.06 L391.20 75.61 L391.90 75.32 L392.60 75.77 L393.30 75.81 L394.00 75.81 L394.70 75.64 L395.40 75.55 L396.10 75.73 L396.80 76.23 L397.50 75.86 L398.20 76.23 L398.90 76.26 L399.60 76.38 L400.30 76.16 L401.00 76.21 L401.70 76.25 L402.40 76.86 L403.10 76.57 L403.80 76.80 L404.50 76.83 L405.20 76.69 L405.90 76.67 L406.60 76.71 L407.31 77.54 L408.02 77.44 L408.73 78.28 L409.44 78.25 L410.16 78.80 L410.87 78.78 L411.58 79.51 L412.29 79.52 L413.00 79.92 L413.71 80.35 L414.42 80.43 L415.13 80.85 L415.84 81.51 L416.56 81.54 L417.27 81.93 L417.98 82.49 L418.69 82.50 L419.40 82.82 L420.11 83.16 L420.82 83.60 L421.53 83.92 L422.24 84.42 L422.96 84.65 L423.67 85.22 L424.38 85.06 L425.09 85.76 L425.80 86.20 M109.50 63.00 L109.50 72.00 M123.40 64.00 L123.40 86.00 M34.00 92.00 L34.00 108.00 M172.80 64.20 L172.80 80.20 M400.80 78.00 L400.80 91.00 M414.00 82.00 L414.00 95.60" fill="none" stroke="#84e4c2" stroke-width="0.80" stroke-linejoin="round" stroke-opacity="1.00"/>
<path d="M25.40 100.39 L26.11 100.08 L26.81 100.01 L27.52 99.65 L28.23 99.55 L28.93 99.42 L29.64 98.94 L30.35 98.71 L31.05 98.63 L31.76 98.27 L32.47 98.06 L33.17 97.91 L33.88 97.55 L34.59 97.29 L35.29 97.18 L36.00 96.99 L36.75 96.84 L37.50 96.36 L38.25 95.83 L39.00 95.56 L39.75 95.43 L40.50 95.03 L41.25 94.81 L42.00 94.52 L42.75 94.14 L43.50 93.51 L44.25 93.51 L45.00 93.01 L45.71 92.47 L46.42 92.02 L47.13 91.87 L47.84 91.18 L48.55 90.71 L49.26 90.36 L49.97 90.19 L50.68 89.58 L51.39 89.27 L52.10 88.58 L52.81 88.31 L53.52 87.83 L54.23 87.36 L54.94 87.12 L55.65 86.57 L56.36 86.05 L57.07 85.97 L57.78 85.34 L58.49 84.80 L59.20 84.30 L59.92 84.06 L60.64 83.51 L61.36 82.81 L62.08 82.49 L62.80 82.10 L63.52 81.51 L64.24 80.89 L64.96 80.50 L65.68 80.04 L66.40 79.56 L67.12 78.86 L67.84 78.62 L68.56 78.18 L69.28 77.60 L70.00 77.14 L70.75 76.41 L71.51 76.08 L72.26 75.26 L73.02 74.74 L73.77 74.35 L74.52 73.93 L75.28 73.06 L76.03 72.58 L76.78 71.97 L77.54 71.59 L78.29 70.93 L79.05 70.42 L79.80 70.10 L80.52 69.87 L81.24 69.85 L81.96 69.48 L82.69 69.43 L83.41 69.00 L84.13 69.22 L84.85 68.77 L85.57 68.71 L86.29 68.56 L87.01 68.57 L87.74 68.23 L88.46 68.27 L89.18 67.96 L89.90 67.64 L90.62 67.72 L91.34 67.31 L92.06 67.47 L92.79 67.09 L93.51 66.84 L94.23 66.97 L94.95 66.55 L95.67 66.43 L96.39 66.24 L97.11 66.21 L97.84 65.79 L98.56 65.77 L99.28 65.53 L100.00 65.63 L100.70 65.37 L101.41 65.67 L102.11 65.60 L102.81 65.74 L103.52 65.85 L104.22 65.98 L104.93 65.81 L105.63 65.92 L106.33 65.94 L107.04 66.34 L107.74 66.08 L108.44 66.14 L109.15 66.36 L109.85 66.45 L110.56 66.64 L111.26 66.37 L111.96 66.51 L112.67 66.54 L113.37 66.78 L114.07 66.79 L114.78 66.84 L115.48 67.09 L116.19 67.07 L116.89 67.21 L117.59 67.32 L118.30 67.11 L119.00 67.44 L119.70 67.30 L120.41 67.22 L121.11 67.63 L121.81 67.37 L122.52 67.40 L123.22 67.58 L123.93 67.64 L124.63 67.98 L125.33 68.00 L126.04 67.89 L126.74 68.00 L127.44 68.19 L128.15 68.24 L128.85 68.24 L129.56 68.25 L130.26 68.16 L130.96 68.28 L131.67 68.51 L132.37 68.54 L133.07 68.70 L133.78 68.80 L134.48 68.89 L135.19 68.65 L135.89 68.67 L136.59 69.06 L137.30 69.00 L138.00 68.91 L138.70 69.18 L139.41 69.07 L140.11 69.12 L140.81 69.24 L141.52 69.37 L142.22 69.50 L142.93 69.32 L143.63 69.65 L144.33 69.67 L145.04 69.68 L145.74 69.82 L146.44 69.94 L147.15 69.69 L147.85 69.94 L148.56 70.09 L149.26 70.16 L149.96 70.20 L150.67 70.08 L151.37 70.46 L152.07 70.46 L152.78 70.30 L153.48 70.45 L154.19 70.72 L154.89 70.49 L155.59 70.63 L156.30 70.92 L157.00 70.96 L157.70 70.58 L158.40 70.67 L159.10 70.41 L159.81 70.42 L160.51 70.35 L161.21 69.98 L161.91 69.90 L162.61 69.79 L163.31 69.70 L164.02 69.49 L164.72 69.42 L165.42 69.41 L166.12 69.31 L166.82 69.06 L167.52 69.15 L168.22 69.18 L168.93 68.92 L169.63 68.72 L170.33 68.75 L171.03 68.53 L171.73 68.31 L172.43 68.32 L173.14 68.02 L173.84 68.18 L174.54 67.86 L175.24 67.83 L175.94 67.95 L176.64 67.76 L177.34 67.68 L178.05 67.49 L178.75 67.37 L179.45 67.29 L180.15 67.28 L180.85 66.86 L181.55 66.98 L182.26 66.68 L182.96 66.55 L183.66 66.66 L184.36 66.46 L185.06 66.45 L185.76 66.35 L186.46 66.12 L187.17 65.85 L187.87 65.66 L188.57 65.76 L189.27 65.72 L189.97 65.43 L190.67 65.24 L191.38 65.10 L192.08 65.05 L192.78 65.15 L193.48 64.76 L194.18 64.74 L194.88 64.64 L195.58 64.71 L196.29 64.71 L196.99 64.21 L197.69 64.13 L198.39 64.35 L199.09 64.25 L199.79 63.81 L200.50 63.77 L201.20 63.73 L201.90 63.54 L202.60 63.47 L203.30 63.56 L204.00 63.54 L204.70 63.53 L205.40 63.61 L206.10 63.71 L206.80 63.75 L207.50 64.03 L208.20 64.13 L208.90 64.02 L209.60 64.30 L210.30 64.35 L211.00 64.26 L211.70 64.39 L212.40 64.34 L213.10 64.70 L213.80 64.62 L214.50 64.49 L215.20 64.60 L215.90 64.88 L216.60 64.83 L217.30 65.03 L218.00 64.90 L218.70 65.20 L219.40 65.27 L220.10 65.06 L220.80 65.32 L221.50 65.23 L222.20 65.51 L222.90 65.62 L223.60 65.68 L224.30 65.52 L225.00 65.54 L225.70 65.79 L226.41 65.77 L227.11 65.62 L227.81 65.66 L228.52 65.83 L229.22 65.66 L229.92 65.89 L230.62 65.76 L231.33 65.78 L232.03 65.87 L232.73 65.93 L233.44 66.03 L234.14 65.77 L234.84 66.07 L235.55 65.89 L236.25 65.94 L236.95 66.10 L237.66 66.14 L238.36 66.13 L239.06 66.26 L239.76 66.00 L240.47 66.06 L241.17 66.23 L241.87 66.08 L242.58 66.06 L243.28 66.11 L243.98 66.35 L244.69 66.39 L245.39 66.37 L246.09 66.48 L246.80 66.44 L247.50 66.26 L248.20 66.29 L248.90 66.47 L249.61 66.22 L250.31 66.46 L251.01 66.28 L251.72 66.28 L252.42 66.49 L253.12 66.36 L253.83 66.69 L254.53 66.69 L255.23 66.54 L255.94 66.46 L256.64 66.45 L257.34 66.62 L258.04 66.65 L258.75 66.61 L259.45 66.77 L260.15 66.71 L260.86 66.83 L261.56 66.58 L262.26 66.59 L262.97 66.73 L263.67 66.79 L264.37 66.72 L265.08 66.91 L265.78 66.75 L266.48 66.81 L267.18 66.89 L267.89 67.00 L268.59 67.05 L269.29 66.91 L270.00 66.96 L270.70 67.17 L271.41 67.22 L272.11 67.14 L272.82 66.98 L273.52 67.16 L274.23 67.28 L274.93 67.18 L275.64 67.13 L276.34 67.56 L277.05 67.57 L277.75 67.31 L278.46 67.49 L279.16 67.59 L279.87 67.51 L280.57 67.46 L281.28 67.78 L281.98 67.84 L282.69 67.75 L283.39 67.65 L284.10 67.82 L284.80 67.75 L285.51 68.14 L286.21 67.82 L286.92 67.96 L287.62 68.20 L288.33 67.99 L289.04 68.02 L289.74 68.06 L290.45 68.14 L291.15 68.33 L291.86 68.50 L292.56 68.28 L293.27 68.32 L293.97 68.61 L294.68 68.52 L295.38 68.53 L296.09 68.49 L296.79 68.58 L297.50 68.92 L298.20 68.62 L298.91 68.72 L299.61 68.96 L300.32 69.07 L301.02 69.12 L301.73 68.99 L302.43 69.23 L303.14 69.13 L303.84 69.05 L304.55 69.17 L305.25 69.31 L305.96 69.37 L306.66 69.17 L307.37 69.24 L308.08 69.59 L308.78 69.30 L309.49 69.63 L310.19 69.48 L310.90 69.49 L311.60 69.54 L312.31 69.67 L313.01 69.92 L313.72 69.63 L314.42 69.96 L315.13 69.79 L315.83 69.78 L316.54 70.05 L317.24 69.94 L317.95 69.92 L318.65 70.06 L319.36 70.27 L320.06 70.33 L320.77 70.26 L321.47 70.08 L322.18 70.42 L322.88 70.41 L323.59 70.57 L324.29 70.64 L325.00 70.43 L325.71 70.64 L326.42 70.63 L327.13 70.41 L327.83 70.45 L328.54 70.45 L329.25 70.44 L329.96 70.45 L330.67 70.34 L331.38 70.39 L332.09 70.66 L332.80 70.46 L333.50 70.55 L334.21 70.65 L334.92 70.60 L335.63 70.40 L336.34 70.67 L337.05 70.62 L337.76 70.70 L338.47 70.59 L339.17 70.60 L339.88 70.63 L340.59 70.40 L341.30 70.56 L342.01 70.45 L342.72 70.64 L343.43 70.35 L344.13 70.52 L344.84 70.43 L345.55 70.63 L346.26 70.44 L346.97 70.64 L347.68 70.64 L348.39 70.65 L349.10 70.36 L349.80 70.68 L350.51 70.60 L351.22 70.57 L351.93 70.56 L352.64 70.32 L353.35 70.65 L354.06 70.52 L354.77 70.48 L355.47 70.44 L356.18 70.61 L356.89 70.61 L357.60 70.65 L358.31 70.46 L359.02 70.59 L359.73 70.63 L360.44 70.64 L361.15 70.81 L361.87 70.77 L362.58 71.15 L363.29 71.00 L364.00 71.01 L364.71 71.09 L365.42 71.43 L366.13 71.29 L366.84 71.47 L367.55 71.53 L368.26 71.76 L368.97 71.90 L369.68 71.72 L370.40 71.92 L371.11 72.10 L371.82 72.01 L372.53 72.26 L373.24 72.27 L373.95 72.17 L374.66 72.48 L375.37 72.43 L376.08 72.32 L376.79 72.59 L377.50 72.76 L378.22 72.71 L378.93 72.78 L379.64 72.83 L380.35 73.09 L381.06 73.08 L381.77 72.97 L382.48 73.11 L383.19 73.18 L383.90 73.50 L384.61 73.47 L385.32 73.32 L386.03 73.71 L386.75 73.43 L387.46 73.73 L388.17 73.74 L388.88 73.93 L389.59 73.90 L390.30 73.84 L391.01 74.23 L391.72 74.57 L392.43 74.78 L393.14 74.82 L393.85 74.99 L394.56 75.42 L395.27 75.66 L395.98 75.65 L396.69 76.13 L397.40 76.40 L398.11 76.39 L398.82 76.59 L399.53 76.94 L400.24 77.25 L400.95 77.18 L401.66 77.44 L402.37 77.67 L403.08 78.05 L403.79 78.05 L404.50 78.42 L405.21 78.62 L405.92 78.91 L406.63 78.92 L407.34 79.46 L408.05 79.70 L408.76 79.74 L409.47 80.06 L410.18 80.03 L410.89 80.54 L411.60 80.62 L412.31 80.92 L413.02 81.19 L413.73 81.20 L414.44 81.65 L415.15 81.58 L415.86 81.73 L416.57 82.14 L417.28 82.52 L417.99 82.74 L418.70 82.98 L419.41 83.02 L420.12 83.41 L420.83 83.48 L421.54 83.54 L422.25 83.95 L422.96 84.24 L423.67 84.31 L424.38 84.60 L425.09 84.68 L425.80 84.91" fill="none" stroke="#e07a45" stroke-width="0.60" stroke-linejoin="round" stroke-opacity="1.00"/>
<rect x="28.70" y="137.20" width="395.70" height="29.00" fill="#fff" stroke="#a0a0a0" stroke-width="0.9"/>
<line x1="32.70" x2="53.80" y1="145.40" y2="145.40" stroke="#1d4379" stroke-width="1.45"/>
<text x="58.80" y="147.30" font-size="5.45" text-anchor="start" font-family="Liberation Sans, sans-serif" font-weight="normal" fill="#1a1a1a" >Peat surface fromMSL (topography)</text>
<line x1="32.70" x2="53.80" y1="156.50" y2="156.50" stroke="#bf80e0" stroke-width="1.45"/>
<text x="58.80" y="157.50" font-size="5.45" text-anchor="start" font-family="Liberation Sans, sans-serif" font-weight="normal" fill="#1a1a1a" >Elevation of estimated mineral surface by</text>
<text x="58.80" y="164.50" font-size="5.45" text-anchor="start" font-family="Liberation Sans, sans-serif" font-weight="normal" fill="#1a1a1a" >involving 9 parameters (estimation 2)</text>
<line x1="165.00" x2="186.10" y1="145.60" y2="145.60" stroke="#33701f" stroke-width="1.45"/>
<text x="189.20" y="144.50" font-size="5.45" text-anchor="start" font-family="Liberation Sans, sans-serif" font-weight="normal" fill="#1a1a1a" >Elevation of mineral surface from MSL</text>
<text x="189.20" y="150.60" font-size="5.45" text-anchor="start" font-family="Liberation Sans, sans-serif" font-weight="normal" fill="#1a1a1a" >(based on field survey)</text>
<line x1="165.00" x2="186.10" y1="158.30" y2="158.30" stroke="#88e8c8" stroke-width="1.45"/>
<text x="189.20" y="157.50" font-size="5.45" text-anchor="start" font-family="Liberation Sans, sans-serif" font-weight="normal" fill="#1a1a1a" >Elevation of estimated mineral surface</text>
<text x="189.20" y="163.50" font-size="5.45" text-anchor="start" font-family="Liberation Sans, sans-serif" font-weight="normal" fill="#1a1a1a" >by ignoring insignificant parameters (estimation 3)</text>
<line x1="305.80" x2="327.30" y1="144.90" y2="144.90" stroke="#d4582a" stroke-width="1.45"/>
<text x="330.00" y="144.80" font-size="5.45" text-anchor="start" font-family="Liberation Sans, sans-serif" font-weight="normal" fill="#1a1a1a" >Elevation of estimated mineral surface</text>
<text x="330.00" y="150.90" font-size="5.45" text-anchor="start" font-family="Liberation Sans, sans-serif" font-weight="normal" fill="#1a1a1a" >using 10 parameters (estimation 1)</text>
<text x="220.00" y="184.20" font-size="9.6" text-anchor="middle" font-family="Liberation Serif, serif" fill="#0a0a0a" stroke="#0a0a0a" stroke-width="0.15">(<tspan font-weight="bold">a</tspan>) Cross-section 1</text>
<rect x="13.5" y="191.3" width="413" height="155" fill="#fff" stroke="#a2a2a2" stroke-width="0.9"/>
<rect x="27.40" y="192.90" width="397.00" height="111.00" fill="#e2e9e8"/>
<line x1="27.40" x2="424.40" y1="301.08" y2="301.08" stroke="#dbe2e1" stroke-width="0.8"/>
<line x1="27.40" x2="424.40" y1="297.55" y2="297.55" stroke="#cfd7d6" stroke-width="0.8"/>
<line x1="27.40" x2="424.40" y1="294.01" y2="294.01" stroke="#dbe2e1" stroke-width="0.8"/>
<line x1="27.40" x2="424.40" y1="290.48" y2="290.48" stroke="#cfd7d6" stroke-width="0.8"/>
<line x1="27.40" x2="424.40" y1="286.94" y2="286.94" stroke="#dbe2e1" stroke-width="0.8"/>
<line x1="27.40" x2="424.40" y1="283.41" y2="283.41" stroke="#cfd7d6" stroke-width="0.8"/>
<line x1="27.40" x2="424.40" y1="279.88" y2="279.88" stroke="#dbe2e1" stroke-width="0.8"/>
<line x1="27.40" x2="424.40" y1="276.34" y2="276.34" stroke="#cfd7d6" stroke-width="0.8"/>
<line x1="27.40" x2="424.40" y1="272.81" y2="272.81" stroke="#dbe2e1" stroke-width="0.8"/>
<line x1="27.40" x2="424.40" y1="269.27" y2="269.27" stroke="#cfd7d6" stroke-width="0.8"/>
<line x1="27.40" x2="424.40" y1="265.74" y2="265.74" stroke="#dbe2e1" stroke-width="0.8"/>
<line x1="27.40" x2="424.40" y1="262.20" y2="262.20" stroke="#cfd7d6" stroke-width="0.8"/>
<line x1="27.40" x2="424.40" y1="258.66" y2="258.66" stroke="#dbe2e1" stroke-width="0.8"/>
<line x1="27.40" x2="424.40" y1="255.13" y2="255.13" stroke="#cfd7d6" stroke-width="0.8"/>
<line x1="27.40" x2="424.40" y1="251.59" y2="251.59" stroke="#dbe2e1" stroke-width="0.8"/>
<line x1="27.40" x2="424.40" y1="248.06" y2="248.06" stroke="#cfd7d6" stroke-width="0.8"/>
<line x1="27.40" x2="424.40" y1="244.52" y2="244.52" stroke="#dbe2e1" stroke-width="0.8"/>
<line x1="27.40" x2="424.40" y1="240.99" y2="240.99" stroke="#cfd7d6" stroke-width="0.8"/>
<line x1="27.40" x2="424.40" y1="237.45" y2="237.45" stroke="#dbe2e1" stroke-width="0.8"/>
<line x1="27.40" x2="424.40" y1="233.92" y2="233.92" stroke="#cfd7d6" stroke-width="0.8"/>
<line x1="27.40" x2="424.40" y1="230.38" y2="230.38" stroke="#dbe2e1" stroke-width="0.8"/>
<line x1="27.40" x2="424.40" y1="226.85" y2="226.85" stroke="#cfd7d6" stroke-width="0.8"/>
<line x1="27.40" x2="424.40" y1="223.31" y2="223.31" stroke="#dbe2e1" stroke-width="0.8"/>
<line x1="27.40" x2="424.40" y1="219.78" y2="219.78" stroke="#cfd7d6" stroke-width="0.8"/>
<line x1="27.40" x2="424.40" y1="216.25" y2="216.25" stroke="#dbe2e1" stroke-width="0.8"/>
<line x1="27.40" x2="424.40" y1="212.71" y2="212.71" stroke="#cfd7d6" stroke-width="0.8"/>
<line x1="27.40" x2="424.40" y1="209.17" y2="209.17" stroke="#dbe2e1" stroke-width="0.8"/>
<line x1="27.40" x2="424.40" y1="205.64" y2="205.64" stroke="#cfd7d6" stroke-width="0.8"/>
<line x1="27.40" x2="424.40" y1="202.10" y2="202.10" stroke="#dbe2e1" stroke-width="0.8"/>
<line x1="27.40" x2="424.40" y1="198.57" y2="198.57" stroke="#cfd7d6" stroke-width="0.8"/>
<line x1="27.40" x2="424.40" y1="195.03" y2="195.03" stroke="#dbe2e1" stroke-width="0.8"/>
<line x1="27.4" x2="27.4" y1="192.9" y2="304" stroke="#9c9c9c" stroke-width="0.8"/>
<line x1="27.4" x2="424.4" y1="303.9" y2="303.9" stroke="#9a9a9a" stroke-width="0.8"/>
<line x1="26.2" x2="27.4" y1="297.55" y2="297.55" stroke="#777" stroke-width="0.6"/>
<text x="25.90" y="299.05" font-size="4.20" text-anchor="end" font-family="Liberation Sans, sans-serif" font-weight="normal" fill="#1a1a1a" stroke="#1a1a1a" stroke-width="0.18">-5</text>
<line x1="26.2" x2="27.4" y1="290.48" y2="290.48" stroke="#777" stroke-width="0.6"/>
<text x="25.90" y="291.98" font-size="4.20" text-anchor="end" font-family="Liberation Sans, sans-serif" font-weight="normal" fill="#1a1a1a" stroke="#1a1a1a" stroke-width="0.18">-4</text>
<line x1="26.2" x2="27.4" y1="283.41" y2="283.41" stroke="#777" stroke-width="0.6"/>
<text x="25.90" y="284.91" font-size="4.20" text-anchor="end" font-family="Liberation Sans, sans-serif" font-weight="normal" fill="#1a1a1a" stroke="#1a1a1a" stroke-width="0.18">-3</text>
<line x1="26.2" x2="27.4" y1="276.34" y2="276.34" stroke="#777" stroke-width="0.6"/>
<text x="25.90" y="277.84" font-size="4.20" text-anchor="end" font-family="Liberation Sans, sans-serif" font-weight="normal" fill="#1a1a1a" stroke="#1a1a1a" stroke-width="0.18">-2</text>
<line x1="26.2" x2="27.4" y1="269.27" y2="269.27" stroke="#777" stroke-width="0.6"/>
<text x="25.90" y="270.77" font-size="4.20" text-anchor="end" font-family="Liberation Sans, sans-serif" font-weight="normal" fill="#1a1a1a" stroke="#1a1a1a" stroke-width="0.18">-1</text>
<line x1="26.2" x2="27.4" y1="262.20" y2="262.20" stroke="#777" stroke-width="0.6"/>
<text x="25.90" y="263.70" font-size="4.20" text-anchor="end" font-family="Liberation Sans, sans-serif" font-weight="normal" fill="#1a1a1a" stroke="#1a1a1a" stroke-width="0.18">0</text>
<line x1="26.2" x2="27.4" y1="255.13" y2="255.13" stroke="#777" stroke-width="0.6"/>
<text x="25.90" y="256.63" font-size="4.20" text-anchor="end" font-family="Liberation Sans, sans-serif" font-weight="normal" fill="#1a1a1a" stroke="#1a1a1a" stroke-width="0.18">1</text>
<line x1="26.2" x2="27.4" y1="248.06" y2="248.06" stroke="#777" stroke-width="0.6"/>
<text x="25.90" y="249.56" font-size="4.20" text-anchor="end" font-family="Liberation Sans, sans-serif" font-weight="normal" fill="#1a1a1a" stroke="#1a1a1a" stroke-width="0.18">2</text>
<line x1="26.2" x2="27.4" y1="240.99" y2="240.99" stroke="#777" stroke-width="0.6"/>
<text x="25.90" y="242.49" font-size="4.20" text-anchor="end" font-family="Liberation Sans, sans-serif" font-weight="normal" fill="#1a1a1a" stroke="#1a1a1a" stroke-width="0.18">3</text>
<line x1="26.2" x2="27.4" y1="233.92" y2="233.92" stroke="#777" stroke-width="0.6"/>
<text x="25.90" y="235.42" font-size="4.20" text-anchor="end" font-family="Liberation Sans, sans-serif" font-weight="normal" fill="#1a1a1a" stroke="#1a1a1a" stroke-width="0.18">4</text>
<line x1="26.2" x2="27.4" y1="226.85" y2="226.85" stroke="#777" stroke-width="0.6"/>
<text x="25.90" y="228.35" font-size="4.20" text-anchor="end" font-family="Liberation Sans, sans-serif" font-weight="normal" fill="#1a1a1a" stroke="#1a1a1a" stroke-width="0.18">5</text>
<line x1="26.2" x2="27.4" y1="219.78" y2="219.78" stroke="#777" stroke-width="0.6"/>
<text x="25.90" y="221.28" font-size="4.20" text-anchor="end" font-family="Liberation Sans, sans-serif" font-weight="normal" fill="#1a1a1a" stroke="#1a1a1a" stroke-width="0.18">6</text>
<line x1="26.2" x2="27.4" y1="212.71" y2="212.71" stroke="#777" stroke-width="0.6"/>
<text x="25.90" y="214.21" font-size="4.20" text-anchor="end" font-family="Liberation Sans, sans-serif" font-weight="normal" fill="#1a1a1a" stroke="#1a1a1a" stroke-width="0.18">7</text>
<line x1="26.2" x2="27.4" y1="205.64" y2="205.64" stroke="#777" stroke-width="0.6"/>
<text x="25.90" y="207.14" font-size="4.20" text-anchor="end" font-family="Liberation Sans, sans-serif" font-weight="normal" fill="#1a1a1a" stroke="#1a1a1a" stroke-width="0.18">8</text>
<line x1="26.2" x2="27.4" y1="198.57" y2="198.57" stroke="#777" stroke-width="0.6"/>
<text x="25.90" y="200.07" font-size="4.20" text-anchor="end" font-family="Liberation Sans, sans-serif" font-weight="normal" fill="#1a1a1a" stroke="#1a1a1a" stroke-width="0.18">9</text>
<text x="28.40" y="309.80" font-size="4.60" text-anchor="middle" font-family="Liberation Sans, sans-serif" font-weight="normal" fill="#1a1a1a" stroke="#1a1a1a" stroke-width="0.12">0</text>
<line x1="28.40" x2="28.40" y1="303.9" y2="305.1" stroke="#888" stroke-width="0.6"/>
<text x="62.75" y="309.80" font-size="4.60" text-anchor="middle" font-family="Liberation Sans, sans-serif" font-weight="normal" fill="#1a1a1a" stroke="#1a1a1a" stroke-width="0.12">2,000</text>
<line x1="62.75" x2="62.75" y1="303.9" y2="305.1" stroke="#888" stroke-width="0.6"/>
<text x="97.10" y="309.80" font-size="4.60" text-anchor="middle" font-family="Liberation Sans, sans-serif" font-weight="normal" fill="#1a1a1a" stroke="#1a1a1a" stroke-width="0.12">4,000</text>
<line x1="97.10" x2="97.10" y1="303.9" y2="305.1" stroke="#888" stroke-width="0.6"/>
<text x="131.45" y="309.80" font-size="4.60" text-anchor="middle" font-family="Liberation Sans, sans-serif" font-weight="normal" fill="#1a1a1a" stroke="#1a1a1a" stroke-width="0.12">6,000</text>
<line x1="131.45" x2="131.45" y1="303.9" y2="305.1" stroke="#888" stroke-width="0.6"/>
<text x="165.80" y="309.80" font-size="4.60" text-anchor="middle" font-family="Liberation Sans, sans-serif" font-weight="normal" fill="#1a1a1a" stroke="#1a1a1a" stroke-width="0.12">8,000</text>
<line x1="165.80" x2="165.80" y1="303.9" y2="305.1" stroke="#888" stroke-width="0.6"/>
<text x="200.15" y="309.80" font-size="4.60" text-anchor="middle" font-family="Liberation Sans, sans-serif" font-weight="normal" fill="#1a1a1a" stroke="#1a1a1a" stroke-width="0.12">10,000</text>
<line x1="200.15" x2="200.15" y1="303.9" y2="305.1" stroke="#888" stroke-width="0.6"/>
<text x="234.50" y="309.80" font-size="4.60" text-anchor="middle" font-family="Liberation Sans, sans-serif" font-weight="normal" fill="#1a1a1a" stroke="#1a1a1a" stroke-width="0.12">12,000</text>
<line x1="234.50" x2="234.50" y1="303.9" y2="305.1" stroke="#888" stroke-width="0.6"/>
<text x="268.85" y="309.80" font-size="4.60" text-anchor="middle" font-family="Liberation Sans, sans-serif" font-weight="normal" fill="#1a1a1a" stroke="#1a1a1a" stroke-width="0.12">14,000</text>
<line x1="268.85" x2="268.85" y1="303.9" y2="305.1" stroke="#888" stroke-width="0.6"/>
<text x="303.20" y="309.80" font-size="4.60" text-anchor="middle" font-family="Liberation Sans, sans-serif" font-weight="normal" fill="#1a1a1a" stroke="#1a1a1a" stroke-width="0.12">16,000</text>
<line x1="303.20" x2="303.20" y1="303.9" y2="305.1" stroke="#888" stroke-width="0.6"/>
<text x="337.55" y="309.80" font-size="4.60" text-anchor="middle" font-family="Liberation Sans, sans-serif" font-weight="normal" fill="#1a1a1a" stroke="#1a1a1a" stroke-width="0.12">18,000</text>
<line x1="337.55" x2="337.55" y1="303.9" y2="305.1" stroke="#888" stroke-width="0.6"/>
<text x="371.90" y="309.80" font-size="4.60" text-anchor="middle" font-family="Liberation Sans, sans-serif" font-weight="normal" fill="#1a1a1a" stroke="#1a1a1a" stroke-width="0.12">20,000</text>
<line x1="371.90" x2="371.90" y1="303.9" y2="305.1" stroke="#888" stroke-width="0.6"/>
<text x="406.25" y="309.80" font-size="4.60" text-anchor="middle" font-family="Liberation Sans, sans-serif" font-weight="normal" fill="#1a1a1a" stroke="#1a1a1a" stroke-width="0.12">22,000</text>
<line x1="406.25" x2="406.25" y1="303.9" y2="305.1" stroke="#888" stroke-width="0.6"/>
<text x="0" y="0" font-size="4.15" text-anchor="middle" font-family="Liberation Sans, sans-serif" font-weight="bold" fill="#333" transform="translate(18.9,248.3) rotate(-90)">Elevation (m)</text>
<path d="M27.40 235.13 L28.10 234.05 L28.80 235.18 L29.50 235.61 L30.20 235.23 L30.90 235.22 L31.60 235.94 L32.30 235.72 L33.00 235.93 L33.70 235.96 L34.40 236.14 L35.10 235.49 L35.80 234.89 L36.50 236.29 L37.20 235.76 L37.90 236.27 L38.60 236.06 L39.30 236.04 L40.00 236.03 L40.70 236.51 L41.80 240.70 L42.50 240.63 L43.20 240.83 L43.90 240.72 L44.60 240.95 L45.30 240.99 L46.03 239.04 L46.77 237.22 L47.50 235.53 L48.27 235.50 L49.03 234.82 L49.80 234.70 L50.57 234.61 L51.33 234.92 L52.10 234.02 L52.87 234.55 L53.63 234.34 L54.40 234.01 L55.17 233.35 L55.93 233.11 L56.70 232.80 L57.47 231.71 L58.23 231.53 L59.00 230.86 L59.73 230.89 L60.45 230.19 L61.18 229.73 L61.91 229.77 L62.64 229.64 L63.36 229.32 L64.09 229.10 L64.82 229.41 L65.55 228.80 L66.27 228.51 L67.00 228.66 L67.71 228.57 L68.42 228.85 L69.14 229.30 L69.85 229.40 L70.56 229.53 L71.28 229.69 L71.99 230.02 L72.70 230.38 L73.46 230.39 L74.22 231.09 L74.97 231.34 L75.73 231.11 L76.49 230.79 L77.25 231.19 L78.01 231.56 L78.77 232.40 L79.53 231.75 L80.28 230.99 L81.04 232.01 L81.80 231.14 L82.53 231.53 L83.26 232.00 L83.99 231.73 L84.72 231.82 L85.45 231.68 L86.18 232.35 L86.91 232.13 L87.64 231.67 L88.37 231.85 L89.10 231.60 L89.82 232.63 L90.55 233.31 L91.28 233.53 L92.00 234.19 L92.70 234.93 L93.40 236.26 L94.10 236.91 L94.80 237.49 L95.50 239.76 L96.32 239.02 L97.14 238.38 L97.96 238.80 L98.78 239.00 L99.60 238.92 L99.80 257.31 L100.50 257.00 L101.20 256.79 L101.90 257.26 L102.60 257.16 L103.30 257.34 L103.50 238.84 L104.00 238.79 L104.20 256.59 L105.60 256.89 L105.80 240.30 L106.51 238.93 L107.22 238.93 L107.94 239.07 L108.65 238.63 L109.36 238.33 L110.08 238.34 L110.79 238.35 L111.50 238.65 L112.26 238.09 L113.01 238.14 L113.77 237.73 L114.52 237.28 L115.28 236.64 L116.03 236.77 L116.79 235.91 L117.54 235.87 L118.30 235.16 L119.02 234.98 L119.75 235.66 L120.47 234.48 L121.20 234.26 L121.92 234.57 L122.65 234.07 L123.38 234.16 L124.10 234.46 L124.83 233.63 L125.55 234.23 L126.28 233.71 L127.00 233.81 L127.76 234.05 L128.51 233.38 L129.27 233.42 L130.02 233.82 L130.78 233.58 L131.53 233.91 L132.29 233.76 L133.04 233.79 L133.80 234.20 L134.58 234.46 L135.35 234.35 L136.12 235.56 L136.90 234.83 L137.68 234.88 L138.45 234.74 L139.22 235.30 L140.00 234.69 L140.76 234.97 L141.52 234.53 L142.28 234.72 L143.03 234.46 L143.79 234.63 L144.55 234.58 L145.31 234.76 L146.07 234.75 L146.82 233.93 L147.58 234.59 L148.34 234.13 L149.10 233.58 L149.86 233.56 L150.62 233.92 L151.38 234.10 L152.14 233.48 L152.90 233.62 L153.66 233.73 L154.42 233.17 L155.18 233.02 L155.94 232.87 L156.70 232.85 L157.43 232.69 L158.15 232.57 L158.88 233.02 L159.61 233.20 L160.34 232.93 L161.06 232.19 L161.79 233.10 L162.52 232.58 L163.25 232.95 L163.97 232.16 L164.70 232.21 L165.55 232.27 L166.40 232.54 L167.25 232.89 L168.10 233.42 L168.83 233.98 L169.55 233.86 L170.28 232.32 L171.01 232.24 L171.74 232.61 L172.46 232.49 L173.19 232.02 L173.92 231.93 L174.65 231.44 L175.37 231.19 L176.10 230.94 L176.83 231.17 L177.55 230.63 L178.28 230.84 L179.01 230.54 L179.74 229.92 L180.46 230.06 L181.19 229.90 L181.92 229.79 L182.65 229.72 L183.37 229.90 L184.10 229.65 L184.81 229.39 L185.53 229.74 L186.24 228.02 L186.95 229.56 L187.66 229.09 L188.38 229.10 L189.09 228.79 L189.80 228.77 L190.51 229.25 L191.22 228.75 L191.94 228.33 L192.65 228.99 L193.36 228.30 L194.07 228.14 L194.79 229.05 L195.50 228.60 L196.21 227.90 L196.93 227.94 L197.64 227.43 L198.36 227.15 L199.07 227.31 L199.79 226.83 L200.50 227.44 L201.40 223.49 L202.30 220.15 L203.07 219.80 L203.83 218.77 L204.60 218.54 L205.37 216.97 L206.13 216.56 L206.90 215.95 L207.67 215.31 L208.43 214.66 L209.20 213.48 L209.96 212.73 L210.71 212.16 L211.47 211.30 L212.22 210.07 L212.98 209.63 L213.73 208.57 L214.49 208.41 L215.24 207.63 L216.00 206.89 L216.77 205.98 L217.53 204.64 L218.30 203.58 L219.07 201.79 L219.83 200.93 L220.60 198.86 L221.31 199.17 L222.02 199.25 L222.73 198.67 L223.44 198.13 L224.16 197.72 L224.87 197.20 L225.58 196.03 L226.29 195.78 L227.00 195.19 L227.77 195.95 L228.53 196.23 L229.30 197.00 L230.07 197.71 L230.83 198.16 L231.60 198.94 L232.31 200.09 L233.03 200.75 L233.74 202.12 L234.45 203.06 L235.16 204.58 L235.88 205.51 L236.59 206.40 L237.30 207.67 L238.15 206.25 L239.00 205.16 L239.85 203.29 L240.70 202.24 L241.47 202.81 L242.23 202.80 L243.00 203.43 L243.77 204.46 L244.53 205.44 L245.30 205.36 L246.06 205.75 L246.81 206.81 L247.57 206.98 L248.32 207.59 L249.08 208.46 L249.83 208.93 L250.59 209.03 L251.34 210.03 L252.10 209.79 L252.81 211.05 L253.53 211.10 L254.24 212.18 L254.95 212.12 L255.66 214.01 L256.38 213.50 L257.09 214.21 L257.80 214.27 L258.57 211.32 L259.33 208.87 L260.10 205.76 L260.81 206.01 L261.53 205.97 L262.24 205.74 L262.95 206.52 L263.66 206.36 L264.38 205.91 L265.09 206.69 L265.80 206.71 L266.57 205.67 L267.33 205.09 L268.10 206.13 L268.87 203.40 L269.63 202.64 L270.40 202.86 L271.17 201.61 L271.93 200.82 L272.70 200.03 L273.55 200.43 L274.40 201.80 L275.25 202.47 L276.10 203.05 L276.81 203.53 L277.53 203.74 L278.24 202.08 L278.95 202.93 L279.66 203.24 L280.38 203.11 L281.09 203.31 L281.80 203.00 L282.57 204.04 L283.33 205.13 L284.10 205.89 L284.87 206.15 L285.63 207.11 L286.40 207.43 L287.16 208.58 L287.91 208.61 L288.67 208.81 L289.42 209.21 L290.18 210.16 L290.93 210.05 L291.69 210.67 L292.44 210.86 L293.20 211.06 L293.97 210.87 L294.73 210.41 L295.50 209.71 L296.27 210.16 L297.03 209.51 L297.80 208.94 L298.57 208.28 L299.33 208.36 L300.10 207.93 L300.86 207.78 L301.61 207.56 L302.37 207.48 L303.12 207.30 L303.88 206.86 L304.63 207.23 L305.39 207.05 L306.14 206.89 L306.90 206.65 L307.67 207.89 L308.43 208.84 L309.20 210.52 L309.97 211.76 L310.73 211.95 L311.50 213.92 L312.26 213.42 L313.01 213.48 L313.77 215.03 L314.52 213.98 L315.28 214.34 L316.03 214.63 L316.79 214.79 L317.54 214.14 L318.30 214.73 L319.07 213.79 L319.83 213.38 L320.60 213.38 L321.37 212.77 L322.13 211.81 L322.90 211.10 L323.64 211.45 L324.39 211.99 L325.13 210.95 L325.88 211.09 L326.62 210.81 L327.37 210.76 L328.11 210.09 L328.86 210.04 L329.60 210.40 L330.31 209.71 L331.03 208.73 L331.74 208.82 L332.45 207.86 L333.16 206.86 L333.88 206.95 L334.59 206.03 L335.30 205.46 L336.07 206.48 L336.83 207.09 L337.60 208.18 L338.35 206.67 L339.10 205.26 L339.85 204.27 L340.60 202.90 L341.35 202.26 L342.10 200.89 L342.87 202.65 L343.63 204.35 L344.40 206.48 L345.17 204.45 L345.93 202.21 L346.70 200.05 L347.47 202.06 L348.23 203.83 L349.00 205.54 L349.77 204.47 L350.53 202.17 L351.30 201.01 L352.03 201.52 L352.77 202.43 L353.50 203.01 L354.20 203.02 L354.90 203.33 L355.60 203.30 L356.30 202.87 L357.00 203.82 L357.72 203.18 L358.44 202.68 L359.16 202.57 L359.88 202.32 L360.61 202.51 L361.33 202.65 L362.05 202.18 L362.77 201.87 L363.49 201.28 L364.21 201.24 L364.93 200.90 L365.65 200.72 L366.37 200.68 L367.09 200.69 L367.82 200.80 L368.54 200.01 L369.26 199.73 L369.98 199.63 L370.70 200.05 L371.42 200.37 L372.14 199.85 L372.86 199.89 L373.58 199.67 L374.31 200.13 L375.03 200.12 L375.75 200.54 L376.47 200.02 L377.19 200.72 L377.91 200.58 L378.63 200.46 L379.35 200.33 L380.07 200.71 L380.79 201.03 L381.52 200.31 L382.24 200.93 L382.96 200.85 L383.68 200.76 L384.40 201.21 L385.12 201.31 L385.84 201.45 L386.56 201.38 L387.28 201.57 L388.01 202.05 L388.73 202.34 L389.45 202.29 L390.17 202.09 L390.89 202.22 L391.61 202.36 L392.33 202.85 L393.05 203.05 L393.77 203.25 L394.49 203.53 L395.22 204.10 L395.94 203.80 L396.66 204.46 L397.38 204.35 L398.10 204.30 L398.82 203.35 L399.54 204.84 L400.26 204.86 L400.98 205.60 L401.71 205.30 L402.43 205.79 L403.15 206.45 L403.87 206.39 L404.59 206.16 L405.31 207.20 L406.03 207.14 L406.75 206.91 L407.47 207.20 L408.19 207.76 L408.92 207.70 L409.64 207.84 L410.36 207.30 L411.08 208.48 L411.80 208.67 L412.56 209.30 L413.32 209.52 L414.07 209.72 L414.83 210.14 L415.59 210.79 L416.35 210.54 L417.11 211.80 L417.87 212.20 L418.62 212.37 L419.38 212.69 L420.14 213.20 L420.90 213.30 L421.72 213.43 L422.55 214.10 L423.38 214.05 L424.20 214.70 M241.80 203.00 L241.80 209.00 M89.10 232.00 L89.10 227.20 M120.60 235.00 L120.60 245.50 M133.80 234.00 L133.80 250.00 M143.00 235.00 L143.00 241.00 M149.10 234.00 L149.10 247.80 M164.70 233.00 L164.70 251.20 M200.50 227.00 L200.50 231.00 M257.80 205.00 L257.80 214.70" fill="none" stroke="#a8c0e6" stroke-width="2.80" stroke-linejoin="round" stroke-opacity="0.75"/>
<path d="M27.40 235.13 L28.10 234.05 L28.80 235.18 L29.50 235.61 L30.20 235.23 L30.90 235.22 L31.60 235.94 L32.30 235.72 L33.00 235.93 L33.70 235.96 L34.40 236.14 L35.10 235.49 L35.80 234.89 L36.50 236.29 L37.20 235.76 L37.90 236.27 L38.60 236.06 L39.30 236.04 L40.00 236.03 L40.70 236.51 L41.80 240.70 L42.50 240.63 L43.20 240.83 L43.90 240.72 L44.60 240.95 L45.30 240.99 L46.03 239.04 L46.77 237.22 L47.50 235.53 L48.27 235.50 L49.03 234.82 L49.80 234.70 L50.57 234.61 L51.33 234.92 L52.10 234.02 L52.87 234.55 L53.63 234.34 L54.40 234.01 L55.17 233.35 L55.93 233.11 L56.70 232.80 L57.47 231.71 L58.23 231.53 L59.00 230.86 L59.73 230.89 L60.45 230.19 L61.18 229.73 L61.91 229.77 L62.64 229.64 L63.36 229.32 L64.09 229.10 L64.82 229.41 L65.55 228.80 L66.27 228.51 L67.00 228.66 L67.71 228.57 L68.42 228.85 L69.14 229.30 L69.85 229.40 L70.56 229.53 L71.28 229.69 L71.99 230.02 L72.70 230.38 L73.46 230.39 L74.22 231.09 L74.97 231.34 L75.73 231.11 L76.49 230.79 L77.25 231.19 L78.01 231.56 L78.77 232.40 L79.53 231.75 L80.28 230.99 L81.04 232.01 L81.80 231.14 L82.53 231.53 L83.26 232.00 L83.99 231.73 L84.72 231.82 L85.45 231.68 L86.18 232.35 L86.91 232.13 L87.64 231.67 L88.37 231.85 L89.10 231.60 L89.82 232.63 L90.55 233.31 L91.28 233.53 L92.00 234.19 L92.70 234.93 L93.40 236.26 L94.10 236.91 L94.80 237.49 L95.50 239.76 L96.32 239.02 L97.14 238.38 L97.96 238.80 L98.78 239.00 L99.60 238.92 L99.80 257.31 L100.50 257.00 L101.20 256.79 L101.90 257.26 L102.60 257.16 L103.30 257.34 L103.50 238.84 L104.00 238.79 L104.20 256.59 L105.60 256.89 L105.80 240.30 L106.51 238.93 L107.22 238.93 L107.94 239.07 L108.65 238.63 L109.36 238.33 L110.08 238.34 L110.79 238.35 L111.50 238.65 L112.26 238.09 L113.01 238.14 L113.77 237.73 L114.52 237.28 L115.28 236.64 L116.03 236.77 L116.79 235.91 L117.54 235.87 L118.30 235.16 L119.02 234.98 L119.75 235.66 L120.47 234.48 L121.20 234.26 L121.92 234.57 L122.65 234.07 L123.38 234.16 L124.10 234.46 L124.83 233.63 L125.55 234.23 L126.28 233.71 L127.00 233.81 L127.76 234.05 L128.51 233.38 L129.27 233.42 L130.02 233.82 L130.78 233.58 L131.53 233.91 L132.29 233.76 L133.04 233.79 L133.80 234.20 L134.58 234.46 L135.35 234.35 L136.12 235.56 L136.90 234.83 L137.68 234.88 L138.45 234.74 L139.22 235.30 L140.00 234.69 L140.76 234.97 L141.52 234.53 L142.28 234.72 L143.03 234.46 L143.79 234.63 L144.55 234.58 L145.31 234.76 L146.07 234.75 L146.82 233.93 L147.58 234.59 L148.34 234.13 L149.10 233.58 L149.86 233.56 L150.62 233.92 L151.38 234.10 L152.14 233.48 L152.90 233.62 L153.66 233.73 L154.42 233.17 L155.18 233.02 L155.94 232.87 L156.70 232.85 L157.43 232.69 L158.15 232.57 L158.88 233.02 L159.61 233.20 L160.34 232.93 L161.06 232.19 L161.79 233.10 L162.52 232.58 L163.25 232.95 L163.97 232.16 L164.70 232.21 L165.55 232.27 L166.40 232.54 L167.25 232.89 L168.10 233.42 L168.83 233.98 L169.55 233.86 L170.28 232.32 L171.01 232.24 L171.74 232.61 L172.46 232.49 L173.19 232.02 L173.92 231.93 L174.65 231.44 L175.37 231.19 L176.10 230.94 L176.83 231.17 L177.55 230.63 L178.28 230.84 L179.01 230.54 L179.74 229.92 L180.46 230.06 L181.19 229.90 L181.92 229.79 L182.65 229.72 L183.37 229.90 L184.10 229.65 L184.81 229.39 L185.53 229.74 L186.24 228.02 L186.95 229.56 L187.66 229.09 L188.38 229.10 L189.09 228.79 L189.80 228.77 L190.51 229.25 L191.22 228.75 L191.94 228.33 L192.65 228.99 L193.36 228.30 L194.07 228.14 L194.79 229.05 L195.50 228.60 L196.21 227.90 L196.93 227.94 L197.64 227.43 L198.36 227.15 L199.07 227.31 L199.79 226.83 L200.50 227.44 L201.40 223.49 L202.30 220.15 L203.07 219.80 L203.83 218.77 L204.60 218.54 L205.37 216.97 L206.13 216.56 L206.90 215.95 L207.67 215.31 L208.43 214.66 L209.20 213.48 L209.96 212.73 L210.71 212.16 L211.47 211.30 L212.22 210.07 L212.98 209.63 L213.73 208.57 L214.49 208.41 L215.24 207.63 L216.00 206.89 L216.77 205.98 L217.53 204.64 L218.30 203.58 L219.07 201.79 L219.83 200.93 L220.60 198.86 L221.31 199.17 L222.02 199.25 L222.73 198.67 L223.44 198.13 L224.16 197.72 L224.87 197.20 L225.58 196.03 L226.29 195.78 L227.00 195.19 L227.77 195.95 L228.53 196.23 L229.30 197.00 L230.07 197.71 L230.83 198.16 L231.60 198.94 L232.31 200.09 L233.03 200.75 L233.74 202.12 L234.45 203.06 L235.16 204.58 L235.88 205.51 L236.59 206.40 L237.30 207.67 L238.15 206.25 L239.00 205.16 L239.85 203.29 L240.70 202.24 L241.47 202.81 L242.23 202.80 L243.00 203.43 L243.77 204.46 L244.53 205.44 L245.30 205.36 L246.06 205.75 L246.81 206.81 L247.57 206.98 L248.32 207.59 L249.08 208.46 L249.83 208.93 L250.59 209.03 L251.34 210.03 L252.10 209.79 L252.81 211.05 L253.53 211.10 L254.24 212.18 L254.95 212.12 L255.66 214.01 L256.38 213.50 L257.09 214.21 L257.80 214.27 L258.57 211.32 L259.33 208.87 L260.10 205.76 L260.81 206.01 L261.53 205.97 L262.24 205.74 L262.95 206.52 L263.66 206.36 L264.38 205.91 L265.09 206.69 L265.80 206.71 L266.57 205.67 L267.33 205.09 L268.10 206.13 L268.87 203.40 L269.63 202.64 L270.40 202.86 L271.17 201.61 L271.93 200.82 L272.70 200.03 L273.55 200.43 L274.40 201.80 L275.25 202.47 L276.10 203.05 L276.81 203.53 L277.53 203.74 L278.24 202.08 L278.95 202.93 L279.66 203.24 L280.38 203.11 L281.09 203.31 L281.80 203.00 L282.57 204.04 L283.33 205.13 L284.10 205.89 L284.87 206.15 L285.63 207.11 L286.40 207.43 L287.16 208.58 L287.91 208.61 L288.67 208.81 L289.42 209.21 L290.18 210.16 L290.93 210.05 L291.69 210.67 L292.44 210.86 L293.20 211.06 L293.97 210.87 L294.73 210.41 L295.50 209.71 L296.27 210.16 L297.03 209.51 L297.80 208.94 L298.57 208.28 L299.33 208.36 L300.10 207.93 L300.86 207.78 L301.61 207.56 L302.37 207.48 L303.12 207.30 L303.88 206.86 L304.63 207.23 L305.39 207.05 L306.14 206.89 L306.90 206.65 L307.67 207.89 L308.43 208.84 L309.20 210.52 L309.97 211.76 L310.73 211.95 L311.50 213.92 L312.26 213.42 L313.01 213.48 L313.77 215.03 L314.52 213.98 L315.28 214.34 L316.03 214.63 L316.79 214.79 L317.54 214.14 L318.30 214.73 L319.07 213.79 L319.83 213.38 L320.60 213.38 L321.37 212.77 L322.13 211.81 L322.90 211.10 L323.64 211.45 L324.39 211.99 L325.13 210.95 L325.88 211.09 L326.62 210.81 L327.37 210.76 L328.11 210.09 L328.86 210.04 L329.60 210.40 L330.31 209.71 L331.03 208.73 L331.74 208.82 L332.45 207.86 L333.16 206.86 L333.88 206.95 L334.59 206.03 L335.30 205.46 L336.07 206.48 L336.83 207.09 L337.60 208.18 L338.35 206.67 L339.10 205.26 L339.85 204.27 L340.60 202.90 L341.35 202.26 L342.10 200.89 L342.87 202.65 L343.63 204.35 L344.40 206.48 L345.17 204.45 L345.93 202.21 L346.70 200.05 L347.47 202.06 L348.23 203.83 L349.00 205.54 L349.77 204.47 L350.53 202.17 L351.30 201.01 L352.03 201.52 L352.77 202.43 L353.50 203.01 L354.20 203.02 L354.90 203.33 L355.60 203.30 L356.30 202.87 L357.00 203.82 L357.72 203.18 L358.44 202.68 L359.16 202.57 L359.88 202.32 L360.61 202.51 L361.33 202.65 L362.05 202.18 L362.77 201.87 L363.49 201.28 L364.21 201.24 L364.93 200.90 L365.65 200.72 L366.37 200.68 L367.09 200.69 L367.82 200.80 L368.54 200.01 L369.26 199.73 L369.98 199.63 L370.70 200.05 L371.42 200.37 L372.14 199.85 L372.86 199.89 L373.58 199.67 L374.31 200.13 L375.03 200.12 L375.75 200.54 L376.47 200.02 L377.19 200.72 L377.91 200.58 L378.63 200.46 L379.35 200.33 L380.07 200.71 L380.79 201.03 L381.52 200.31 L382.24 200.93 L382.96 200.85 L383.68 200.76 L384.40 201.21 L385.12 201.31 L385.84 201.45 L386.56 201.38 L387.28 201.57 L388.01 202.05 L388.73 202.34 L389.45 202.29 L390.17 202.09 L390.89 202.22 L391.61 202.36 L392.33 202.85 L393.05 203.05 L393.77 203.25 L394.49 203.53 L395.22 204.10 L395.94 203.80 L396.66 204.46 L397.38 204.35 L398.10 204.30 L398.82 203.35 L399.54 204.84 L400.26 204.86 L400.98 205.60 L401.71 205.30 L402.43 205.79 L403.15 206.45 L403.87 206.39 L404.59 206.16 L405.31 207.20 L406.03 207.14 L406.75 206.91 L407.47 207.20 L408.19 207.76 L408.92 207.70 L409.64 207.84 L410.36 207.30 L411.08 208.48 L411.80 208.67 L412.56 209.30 L413.32 209.52 L414.07 209.72 L414.83 210.14 L415.59 210.79 L416.35 210.54 L417.11 211.80 L417.87 212.20 L418.62 212.37 L419.38 212.69 L420.14 213.20 L420.90 213.30 L421.72 213.43 L422.55 214.10 L423.38 214.05 L424.20 214.70 M241.80 203.00 L241.80 209.00 M89.10 232.00 L89.10 227.20 M120.60 235.00 L120.60 245.50 M133.80 234.00 L133.80 250.00 M143.00 235.00 L143.00 241.00 M149.10 234.00 L149.10 247.80 M164.70 233.00 L164.70 251.20 M200.50 227.00 L200.50 231.00 M257.80 205.00 L257.80 214.70" fill="none" stroke="#2f60b4" stroke-width="1.00" stroke-linejoin="round" stroke-opacity="1.00"/>
<path d="M27.40 265.85 L28.13 266.40 L28.87 266.43 L29.60 266.37 L30.33 265.42 L31.07 265.77 L31.80 266.16 L32.53 265.86 L33.27 264.91 L34.00 264.95 L34.73 265.41 L35.47 265.15 L36.20 264.64 L36.93 264.57 L37.67 265.15 L38.40 264.35 L39.10 265.37 L39.80 264.64 L40.50 264.88 L41.20 264.74 L41.90 264.56 L42.60 264.02 L43.30 264.87 L44.00 264.81 L44.70 264.55 L45.40 264.35 L46.10 264.50 L46.80 264.34 L47.50 264.14 L48.21 263.40 L48.92 263.80 L49.62 263.68 L50.33 262.70 L51.04 263.00 L51.75 261.58 L52.45 262.82 L53.16 262.80 L53.87 262.63 L54.58 261.75 L55.28 261.27 L55.99 263.05 L56.70 263.21 L57.46 260.98 L58.22 261.53 L58.98 261.02 L59.73 260.43 L60.49 261.11 L61.25 260.94 L62.01 259.71 L62.77 259.39 L63.52 260.15 L64.28 259.64 L65.04 258.98 L65.80 258.92 L66.57 259.09 L67.33 259.80 L68.10 260.12 L68.87 260.73 L69.63 260.56 L70.40 261.25 L71.17 260.51 L71.93 261.49 L72.70 261.67 L73.46 262.22 L74.22 261.82 L74.97 262.39 L75.73 261.80 L76.49 262.83 L77.25 262.87 L78.01 262.62 L78.77 262.83 L79.53 263.82 L80.28 263.77 L81.04 263.22 L81.80 263.49 L82.56 263.35 L83.31 263.96 L84.07 264.10 L84.82 264.67 L85.58 264.15 L86.33 264.59 L87.09 264.91 L87.84 264.65 L88.60 265.60 L89.40 263.88 L90.20 264.97 L91.00 266.15 L91.80 266.56 L93.00 273.10 L93.80 274.42 L94.60 276.71 L95.40 278.48 L96.17 280.05 L96.93 282.35 L97.70 282.96 L98.60 283.84 L99.50 286.45 L100.00 304.28 L100.85 302.60 L101.70 302.90 L102.55 302.87 L103.40 302.49 L103.70 284.76 L104.45 293.84 L105.20 302.45 L106.60 302.48 L106.80 283.78 L107.58 283.85 L108.36 285.20 L109.14 286.42 L109.92 286.55 L110.70 287.34 L111.42 288.40 L112.14 290.90 L112.86 289.56 L113.58 291.42 L114.30 291.86 L115.00 291.77 L115.70 291.17 L116.40 290.66 L117.10 290.42 L117.80 289.30 L118.55 288.31 L119.30 287.66 L120.05 286.22 L120.80 284.97 L121.62 285.33 L122.44 285.28 L123.26 285.90 L124.08 286.53 L124.90 285.85 L125.95 286.59 L127.00 285.55 L127.76 287.27 L128.51 286.16 L129.27 286.19 L130.02 286.77 L130.78 287.02 L131.53 285.66 L132.29 285.62 L133.04 284.90 L133.80 285.51 L134.57 285.14 L135.33 285.26 L136.10 284.50 L136.87 286.25 L137.63 285.08 L138.40 284.77 L139.17 284.00 L139.93 284.70 L140.70 283.82 L141.45 284.78 L142.21 284.99 L142.96 284.29 L143.72 285.37 L144.47 284.56 L145.23 284.74 L145.98 284.88 L146.74 285.73 L147.49 285.58 L148.25 285.28 L149.00 285.69 L149.77 285.75 L150.54 285.02 L151.31 284.02 L152.08 283.71 L152.85 283.74 L153.62 282.73 L154.39 282.87 L155.16 281.90 L155.93 281.92 L156.70 280.84 L157.43 281.53 L158.15 281.25 L158.88 281.79 L159.61 281.58 L160.34 281.83 L161.06 282.45 L161.79 282.82 L162.52 282.72 L163.25 282.81 L163.97 282.83 L164.70 282.94 L165.55 282.12 L166.40 280.76 L167.25 281.16 L168.10 277.67 L168.82 277.03 L169.54 276.20 L170.26 276.79 L170.98 276.44 L171.71 275.99 L172.43 275.21 L173.15 275.32 L173.87 274.10 L174.59 273.90 L175.31 273.77 L176.03 273.97 L176.75 273.30 L177.47 272.62 L178.19 272.52 L178.92 272.63 L179.64 271.51 L180.36 270.93 L181.08 271.07 L181.80 270.51 L182.52 270.02 L183.24 269.82 L183.96 269.60 L184.68 268.63 L185.41 268.63 L186.13 268.92 L186.85 268.43 L187.57 267.78 L188.29 267.67 L189.01 267.25 L189.73 267.17 L190.45 266.50 L191.17 266.13 L191.89 265.04 L192.62 264.67 L193.34 265.02 L194.06 264.45 L194.78 263.78 L195.50 264.18 L196.26 262.54 L197.01 261.12 L197.77 259.42 L198.52 257.79 L199.28 256.76 L200.03 254.71 L200.79 252.66 L201.54 251.30 L202.30 249.52 L203.07 249.53 L203.83 248.34 L204.60 246.75 L205.37 245.81 L206.13 244.86 L206.90 244.12 L207.67 243.60 L208.43 244.17 L209.20 240.44 L209.90 240.44 L210.60 239.93 L211.30 240.07 L212.00 239.61 L212.70 238.33 L213.40 238.12 L214.10 237.44 L214.80 237.81 L215.50 237.36 L216.20 237.05 L216.90 235.99 L217.60 236.04 L218.30 235.14 L219.01 234.59 L219.73 234.90 L220.44 233.80 L221.15 233.29 L221.86 232.27 L222.57 232.89 L223.29 232.90 L224.00 231.74 L224.75 231.86 L225.50 230.96 L226.25 231.08 L227.00 230.29 L227.77 229.08 L228.53 227.26 L229.30 227.92 L230.05 226.73 L230.80 227.04 L231.55 227.54 L232.30 228.20 L233.05 228.94 L233.80 229.53 L234.50 231.15 L235.20 232.76 L235.90 233.71 L236.60 236.41 L237.30 238.27 L238.15 237.52 L239.00 235.49 L239.85 235.90 L240.70 235.20 L241.47 235.80 L242.23 237.04 L243.00 237.73 L243.77 238.52 L244.53 239.92 L245.30 240.61 L246.06 240.80 L246.82 241.26 L247.58 242.17 L248.33 242.65 L249.09 242.29 L249.85 242.51 L250.61 243.45 L251.37 243.32 L252.12 243.09 L252.88 244.16 L253.64 246.09 L254.40 243.92 L255.12 244.67 L255.84 244.62 L256.56 246.47 L257.28 244.26 L258.01 244.37 L258.73 244.16 L259.45 243.83 L260.17 243.90 L260.89 244.61 L261.61 244.97 L262.33 245.91 L263.05 244.67 L263.77 243.82 L264.49 244.33 L265.22 244.78 L265.94 243.84 L266.66 243.10 L267.38 244.99 L268.10 245.69 L268.87 244.21 L269.63 243.19 L270.40 243.75 L271.17 242.34 L271.93 242.01 L272.70 242.51 L273.40 242.17 L274.10 243.32 L274.80 243.52 L275.50 246.49 L276.20 245.08 L276.90 245.48 L277.60 246.58 L278.30 247.49 L279.00 247.65 L279.70 247.56 L280.40 248.61 L281.10 248.93 L281.80 250.08 L282.56 250.90 L283.32 251.54 L284.07 252.07 L284.83 252.43 L285.59 253.26 L286.35 253.31 L287.11 254.43 L287.87 254.18 L288.62 254.73 L289.38 256.06 L290.14 256.67 L290.90 256.97 L291.67 257.66 L292.43 258.17 L293.20 258.96 L293.97 258.79 L294.73 259.72 L295.50 260.47 L296.26 259.88 L297.01 259.47 L297.77 259.77 L298.52 258.72 L299.28 258.57 L300.03 259.31 L300.79 258.20 L301.54 257.25 L302.30 256.37 L303.07 257.89 L303.83 257.77 L304.60 259.01 L305.37 259.10 L306.13 260.17 L306.90 261.41 L307.67 261.92 L308.43 260.93 L309.20 264.81 L309.97 264.33 L310.73 265.54 L311.50 266.70 L312.26 266.04 L313.01 266.78 L313.77 265.95 L314.52 266.34 L315.28 266.46 L316.03 267.18 L316.79 267.20 L317.54 267.60 L318.30 266.99 L319.07 265.78 L319.83 265.45 L320.60 263.10 L321.37 263.47 L322.13 262.22 L322.90 261.98 L323.60 260.84 L324.30 260.50 L325.00 259.99 L325.70 260.06 L326.40 259.46 L327.10 259.15 L327.80 259.12 L328.50 259.37 L329.20 258.75 L329.90 258.84 L330.60 258.16 L331.30 257.68 L332.00 257.74 L332.70 257.30 L333.40 256.73 L334.10 256.73 L334.81 256.68 L335.52 256.21 L336.22 256.20 L336.93 257.26 L337.64 255.38 L338.35 255.54 L339.05 255.78 L339.76 255.24 L340.47 255.11 L341.18 255.56 L341.88 255.28 L342.59 253.71 L343.30 254.30 L344.06 254.54 L344.82 254.42 L345.57 253.82 L346.33 254.24 L347.09 253.20 L347.85 253.26 L348.61 252.90 L349.37 252.99 L350.12 251.93 L350.88 253.15 L351.64 252.76 L352.40 252.14 L353.12 251.66 L353.84 251.37 L354.56 251.49 L355.28 251.35 L356.01 250.89 L356.73 251.10 L357.45 250.72 L358.17 250.02 L358.89 249.91 L359.61 249.95 L360.33 250.01 L361.05 250.86 L361.77 248.67 L362.49 248.58 L363.22 248.64 L363.94 248.95 L364.66 247.81 L365.38 248.39 L366.10 247.39 L366.80 246.57 L367.51 247.35 L368.21 247.60 L368.92 247.33 L369.62 246.86 L370.32 247.79 L371.03 247.69 L371.73 247.14 L372.43 246.48 L373.14 246.43 L373.84 246.61 L374.55 247.75 L375.25 247.00 L375.95 247.02 L376.66 246.05 L377.36 246.62 L378.07 246.11 L378.77 246.61 L379.47 246.49 L380.18 245.82 L380.88 246.24 L381.58 245.68 L382.29 245.65 L382.99 245.99 L383.70 245.42 L384.40 245.96 L385.10 244.71 L385.80 247.92 L386.50 246.32 L387.20 246.59 L387.90 248.60 L388.60 247.45 L389.30 247.50 L390.00 247.82 L390.70 246.65 L391.40 248.45 L392.10 248.41 L392.80 248.23 L393.50 249.38 L394.21 248.71 L394.93 248.50 L395.64 249.03 L396.35 248.39 L397.06 248.54 L397.77 248.32 L398.49 248.64 L399.20 248.43 L399.91 248.32 L400.62 247.62 L401.34 248.40 L402.05 248.18 L402.76 248.26 L403.47 247.78 L404.19 246.98 L404.90 247.29 L405.61 247.44 L406.32 249.13 L407.04 247.77 L407.75 247.16 L408.46 247.20 L409.18 247.51 L409.89 247.07 L410.60 245.85 L411.31 246.06 L412.02 246.95 L412.74 246.77 L413.45 245.20 L414.16 245.40 L414.88 245.55 L415.59 245.72 L416.30 245.26 L417.02 245.94 L417.74 245.88 L418.45 246.00 L419.17 246.48 L419.89 246.98 L420.61 247.18 L421.33 246.95 L422.05 246.90 L422.76 246.49 L423.48 247.41 L424.20 249.37 M133.80 285.00 L133.80 296.90 M149.10 286.00 L149.10 297.50 M164.70 283.00 L164.70 297.50 M120.60 286.00 L120.60 293.00" fill="none" stroke="#b8e2a6" stroke-width="2.60" stroke-linejoin="round" stroke-opacity="0.60"/>
<path d="M27.40 265.85 L28.13 266.40 L28.87 266.43 L29.60 266.37 L30.33 265.42 L31.07 265.77 L31.80 266.16 L32.53 265.86 L33.27 264.91 L34.00 264.95 L34.73 265.41 L35.47 265.15 L36.20 264.64 L36.93 264.57 L37.67 265.15 L38.40 264.35 L39.10 265.37 L39.80 264.64 L40.50 264.88 L41.20 264.74 L41.90 264.56 L42.60 264.02 L43.30 264.87 L44.00 264.81 L44.70 264.55 L45.40 264.35 L46.10 264.50 L46.80 264.34 L47.50 264.14 L48.21 263.40 L48.92 263.80 L49.62 263.68 L50.33 262.70 L51.04 263.00 L51.75 261.58 L52.45 262.82 L53.16 262.80 L53.87 262.63 L54.58 261.75 L55.28 261.27 L55.99 263.05 L56.70 263.21 L57.46 260.98 L58.22 261.53 L58.98 261.02 L59.73 260.43 L60.49 261.11 L61.25 260.94 L62.01 259.71 L62.77 259.39 L63.52 260.15 L64.28 259.64 L65.04 258.98 L65.80 258.92 L66.57 259.09 L67.33 259.80 L68.10 260.12 L68.87 260.73 L69.63 260.56 L70.40 261.25 L71.17 260.51 L71.93 261.49 L72.70 261.67 L73.46 262.22 L74.22 261.82 L74.97 262.39 L75.73 261.80 L76.49 262.83 L77.25 262.87 L78.01 262.62 L78.77 262.83 L79.53 263.82 L80.28 263.77 L81.04 263.22 L81.80 263.49 L82.56 263.35 L83.31 263.96 L84.07 264.10 L84.82 264.67 L85.58 264.15 L86.33 264.59 L87.09 264.91 L87.84 264.65 L88.60 265.60 L89.40 263.88 L90.20 264.97 L91.00 266.15 L91.80 266.56 L93.00 273.10 L93.80 274.42 L94.60 276.71 L95.40 278.48 L96.17 280.05 L96.93 282.35 L97.70 282.96 L98.60 283.84 L99.50 286.45 L100.00 304.28 L100.85 302.60 L101.70 302.90 L102.55 302.87 L103.40 302.49 L103.70 284.76 L104.45 293.84 L105.20 302.45 L106.60 302.48 L106.80 283.78 L107.58 283.85 L108.36 285.20 L109.14 286.42 L109.92 286.55 L110.70 287.34 L111.42 288.40 L112.14 290.90 L112.86 289.56 L113.58 291.42 L114.30 291.86 L115.00 291.77 L115.70 291.17 L116.40 290.66 L117.10 290.42 L117.80 289.30 L118.55 288.31 L119.30 287.66 L120.05 286.22 L120.80 284.97 L121.62 285.33 L122.44 285.28 L123.26 285.90 L124.08 286.53 L124.90 285.85 L125.95 286.59 L127.00 285.55 L127.76 287.27 L128.51 286.16 L129.27 286.19 L130.02 286.77 L130.78 287.02 L131.53 285.66 L132.29 285.62 L133.04 284.90 L133.80 285.51 L134.57 285.14 L135.33 285.26 L136.10 284.50 L136.87 286.25 L137.63 285.08 L138.40 284.77 L139.17 284.00 L139.93 284.70 L140.70 283.82 L141.45 284.78 L142.21 284.99 L142.96 284.29 L143.72 285.37 L144.47 284.56 L145.23 284.74 L145.98 284.88 L146.74 285.73 L147.49 285.58 L148.25 285.28 L149.00 285.69 L149.77 285.75 L150.54 285.02 L151.31 284.02 L152.08 283.71 L152.85 283.74 L153.62 282.73 L154.39 282.87 L155.16 281.90 L155.93 281.92 L156.70 280.84 L157.43 281.53 L158.15 281.25 L158.88 281.79 L159.61 281.58 L160.34 281.83 L161.06 282.45 L161.79 282.82 L162.52 282.72 L163.25 282.81 L163.97 282.83 L164.70 282.94 L165.55 282.12 L166.40 280.76 L167.25 281.16 L168.10 277.67 L168.82 277.03 L169.54 276.20 L170.26 276.79 L170.98 276.44 L171.71 275.99 L172.43 275.21 L173.15 275.32 L173.87 274.10 L174.59 273.90 L175.31 273.77 L176.03 273.97 L176.75 273.30 L177.47 272.62 L178.19 272.52 L178.92 272.63 L179.64 271.51 L180.36 270.93 L181.08 271.07 L181.80 270.51 L182.52 270.02 L183.24 269.82 L183.96 269.60 L184.68 268.63 L185.41 268.63 L186.13 268.92 L186.85 268.43 L187.57 267.78 L188.29 267.67 L189.01 267.25 L189.73 267.17 L190.45 266.50 L191.17 266.13 L191.89 265.04 L192.62 264.67 L193.34 265.02 L194.06 264.45 L194.78 263.78 L195.50 264.18 L196.26 262.54 L197.01 261.12 L197.77 259.42 L198.52 257.79 L199.28 256.76 L200.03 254.71 L200.79 252.66 L201.54 251.30 L202.30 249.52 L203.07 249.53 L203.83 248.34 L204.60 246.75 L205.37 245.81 L206.13 244.86 L206.90 244.12 L207.67 243.60 L208.43 244.17 L209.20 240.44 L209.90 240.44 L210.60 239.93 L211.30 240.07 L212.00 239.61 L212.70 238.33 L213.40 238.12 L214.10 237.44 L214.80 237.81 L215.50 237.36 L216.20 237.05 L216.90 235.99 L217.60 236.04 L218.30 235.14 L219.01 234.59 L219.73 234.90 L220.44 233.80 L221.15 233.29 L221.86 232.27 L222.57 232.89 L223.29 232.90 L224.00 231.74 L224.75 231.86 L225.50 230.96 L226.25 231.08 L227.00 230.29 L227.77 229.08 L228.53 227.26 L229.30 227.92 L230.05 226.73 L230.80 227.04 L231.55 227.54 L232.30 228.20 L233.05 228.94 L233.80 229.53 L234.50 231.15 L235.20 232.76 L235.90 233.71 L236.60 236.41 L237.30 238.27 L238.15 237.52 L239.00 235.49 L239.85 235.90 L240.70 235.20 L241.47 235.80 L242.23 237.04 L243.00 237.73 L243.77 238.52 L244.53 239.92 L245.30 240.61 L246.06 240.80 L246.82 241.26 L247.58 242.17 L248.33 242.65 L249.09 242.29 L249.85 242.51 L250.61 243.45 L251.37 243.32 L252.12 243.09 L252.88 244.16 L253.64 246.09 L254.40 243.92 L255.12 244.67 L255.84 244.62 L256.56 246.47 L257.28 244.26 L258.01 244.37 L258.73 244.16 L259.45 243.83 L260.17 243.90 L260.89 244.61 L261.61 244.97 L262.33 245.91 L263.05 244.67 L263.77 243.82 L264.49 244.33 L265.22 244.78 L265.94 243.84 L266.66 243.10 L267.38 244.99 L268.10 245.69 L268.87 244.21 L269.63 243.19 L270.40 243.75 L271.17 242.34 L271.93 242.01 L272.70 242.51 L273.40 242.17 L274.10 243.32 L274.80 243.52 L275.50 246.49 L276.20 245.08 L276.90 245.48 L277.60 246.58 L278.30 247.49 L279.00 247.65 L279.70 247.56 L280.40 248.61 L281.10 248.93 L281.80 250.08 L282.56 250.90 L283.32 251.54 L284.07 252.07 L284.83 252.43 L285.59 253.26 L286.35 253.31 L287.11 254.43 L287.87 254.18 L288.62 254.73 L289.38 256.06 L290.14 256.67 L290.90 256.97 L291.67 257.66 L292.43 258.17 L293.20 258.96 L293.97 258.79 L294.73 259.72 L295.50 260.47 L296.26 259.88 L297.01 259.47 L297.77 259.77 L298.52 258.72 L299.28 258.57 L300.03 259.31 L300.79 258.20 L301.54 257.25 L302.30 256.37 L303.07 257.89 L303.83 257.77 L304.60 259.01 L305.37 259.10 L306.13 260.17 L306.90 261.41 L307.67 261.92 L308.43 260.93 L309.20 264.81 L309.97 264.33 L310.73 265.54 L311.50 266.70 L312.26 266.04 L313.01 266.78 L313.77 265.95 L314.52 266.34 L315.28 266.46 L316.03 267.18 L316.79 267.20 L317.54 267.60 L318.30 266.99 L319.07 265.78 L319.83 265.45 L320.60 263.10 L321.37 263.47 L322.13 262.22 L322.90 261.98 L323.60 260.84 L324.30 260.50 L325.00 259.99 L325.70 260.06 L326.40 259.46 L327.10 259.15 L327.80 259.12 L328.50 259.37 L329.20 258.75 L329.90 258.84 L330.60 258.16 L331.30 257.68 L332.00 257.74 L332.70 257.30 L333.40 256.73 L334.10 256.73 L334.81 256.68 L335.52 256.21 L336.22 256.20 L336.93 257.26 L337.64 255.38 L338.35 255.54 L339.05 255.78 L339.76 255.24 L340.47 255.11 L341.18 255.56 L341.88 255.28 L342.59 253.71 L343.30 254.30 L344.06 254.54 L344.82 254.42 L345.57 253.82 L346.33 254.24 L347.09 253.20 L347.85 253.26 L348.61 252.90 L349.37 252.99 L350.12 251.93 L350.88 253.15 L351.64 252.76 L352.40 252.14 L353.12 251.66 L353.84 251.37 L354.56 251.49 L355.28 251.35 L356.01 250.89 L356.73 251.10 L357.45 250.72 L358.17 250.02 L358.89 249.91 L359.61 249.95 L360.33 250.01 L361.05 250.86 L361.77 248.67 L362.49 248.58 L363.22 248.64 L363.94 248.95 L364.66 247.81 L365.38 248.39 L366.10 247.39 L366.80 246.57 L367.51 247.35 L368.21 247.60 L368.92 247.33 L369.62 246.86 L370.32 247.79 L371.03 247.69 L371.73 247.14 L372.43 246.48 L373.14 246.43 L373.84 246.61 L374.55 247.75 L375.25 247.00 L375.95 247.02 L376.66 246.05 L377.36 246.62 L378.07 246.11 L378.77 246.61 L379.47 246.49 L380.18 245.82 L380.88 246.24 L381.58 245.68 L382.29 245.65 L382.99 245.99 L383.70 245.42 L384.40 245.96 L385.10 244.71 L385.80 247.92 L386.50 246.32 L387.20 246.59 L387.90 248.60 L388.60 247.45 L389.30 247.50 L390.00 247.82 L390.70 246.65 L391.40 248.45 L392.10 248.41 L392.80 248.23 L393.50 249.38 L394.21 248.71 L394.93 248.50 L395.64 249.03 L396.35 248.39 L397.06 248.54 L397.77 248.32 L398.49 248.64 L399.20 248.43 L399.91 248.32 L400.62 247.62 L401.34 248.40 L402.05 248.18 L402.76 248.26 L403.47 247.78 L404.19 246.98 L404.90 247.29 L405.61 247.44 L406.32 249.13 L407.04 247.77 L407.75 247.16 L408.46 247.20 L409.18 247.51 L409.89 247.07 L410.60 245.85 L411.31 246.06 L412.02 246.95 L412.74 246.77 L413.45 245.20 L414.16 245.40 L414.88 245.55 L415.59 245.72 L416.30 245.26 L417.02 245.94 L417.74 245.88 L418.45 246.00 L419.17 246.48 L419.89 246.98 L420.61 247.18 L421.33 246.95 L422.05 246.90 L422.76 246.49 L423.48 247.41 L424.20 249.37 M133.80 285.00 L133.80 296.90 M149.10 286.00 L149.10 297.50 M164.70 283.00 L164.70 297.50 M120.60 286.00 L120.60 293.00" fill="none" stroke="#4b9534" stroke-width="1.00" stroke-linejoin="round" stroke-opacity="1.00"/>
<path d="M27.40 265.90 L28.10 266.25 L28.80 265.90 L29.50 265.88 L30.20 265.81 L30.90 266.28 L31.60 266.05 L32.30 266.20 L33.00 265.74 L33.70 266.03 L34.40 266.14 L35.10 266.29 L35.80 266.26 L36.50 265.76 L37.20 265.92 L37.90 266.30 L38.60 266.02 L39.30 266.27 L40.00 265.85 L40.70 265.72 L41.40 266.27 L42.10 265.86 L42.80 266.04 L43.50 265.92 L44.20 266.05 L44.90 266.26 L45.60 266.27 L46.30 266.23 L47.00 265.85 L47.70 266.19 L48.40 265.71 L49.10 265.95 L49.80 266.27 L50.50 265.83 L51.21 265.87 L51.91 265.97 L52.62 265.73 L53.32 265.99 L54.02 265.93 L54.73 265.57 L55.43 266.04 L56.13 265.50 L56.84 265.85 L57.54 265.61 L58.25 265.46 L58.95 265.40 L59.65 265.92 L60.36 265.78 L61.06 265.54 L61.77 265.72 L62.47 265.80 L63.17 265.74 L63.88 265.48 L64.58 265.30 L65.28 265.42 L65.99 265.67 L66.69 265.49 L67.40 265.43 L68.10 265.51 L68.80 265.27 L69.51 265.39 L70.21 265.59 L70.92 265.23 L71.62 265.65 L72.32 265.18 L73.03 265.51 L73.73 265.56 L74.43 265.33 L75.14 265.82 L75.84 265.56 L76.55 265.43 L77.25 265.60 L77.95 265.73 L78.66 265.66 L79.36 265.43 L80.07 265.51 L80.77 265.91 L81.47 265.59 L82.18 265.69 L82.88 266.05 L83.58 266.11 L84.29 266.15 L84.99 265.75 L85.70 265.68 L86.40 266.15 L87.12 266.13 L87.85 266.06 L88.57 265.92 L89.29 266.23 L90.01 266.18 L90.74 266.46 L91.46 266.77 L92.18 266.37 L92.90 266.36 L93.63 266.80 L94.35 266.51 L95.07 266.65 L95.80 266.85 L96.52 267.25 L97.24 266.92 L97.96 266.98 L98.69 267.14 L99.41 267.02 L100.13 267.24 L100.85 267.48 L101.58 267.33 L102.30 267.68 L103.01 267.27 L103.71 267.18 L104.42 267.45 L105.12 267.30 L105.83 267.54 L106.53 267.01 L107.24 267.35 L107.95 267.26 L108.65 267.04 L109.36 266.85 L110.06 267.10 L110.77 267.14 L111.47 266.93 L112.18 266.88 L112.89 266.97 L113.59 266.88 L114.30 266.73 L115.00 266.54 L115.71 266.66 L116.41 266.67 L117.12 266.84 L117.83 266.85 L118.53 266.55 L119.24 266.37 L119.94 266.26 L120.65 266.46 L121.35 266.49 L122.06 266.15 L122.77 266.37 L123.47 266.51 L124.18 266.11 L124.88 266.39 L125.59 266.05 L126.29 266.13 L127.00 266.22 L127.71 265.86 L128.41 265.98 L129.12 266.40 L129.83 265.88 L130.54 266.06 L131.24 266.20 L131.95 266.40 L132.66 266.36 L133.36 266.58 L134.07 266.46 L134.78 266.09 L135.49 266.17 L136.19 266.19 L136.90 266.46 L137.61 266.25 L138.31 266.59 L139.02 266.69 L139.73 266.46 L140.44 266.89 L141.14 266.66 L141.85 267.03 L142.56 266.70 L143.26 266.89 L143.97 266.88 L144.68 266.75 L145.39 267.10 L146.09 266.67 L146.80 266.85 L147.51 266.93 L148.21 267.30 L148.92 267.11 L149.63 266.86 L150.34 267.06 L151.04 267.28 L151.75 267.44 L152.46 267.05 L153.16 267.49 L153.87 267.29 L154.58 267.41 L155.29 267.38 L155.99 267.43 L156.70 267.79 L157.41 267.68 L158.12 267.62 L158.83 267.44 L159.54 267.35 L160.24 266.95 L160.95 266.82 L161.66 267.23 L162.37 267.07 L163.08 266.98 L163.79 266.72 L164.50 266.63 L165.21 266.95 L165.92 266.65 L166.62 266.28 L167.33 266.40 L168.04 266.34 L168.75 266.11 L169.46 266.59 L170.17 266.48 L170.88 266.36 L171.59 265.80 L172.30 265.98 L173.00 265.73 L173.71 266.04 L174.42 266.02 L175.13 265.94 L175.84 265.88 L176.55 265.41 L177.26 265.27 L177.97 265.26 L178.68 265.64 L179.38 265.56 L180.09 265.31 L180.80 265.07 L181.51 265.38 L182.22 264.87 L182.93 264.93 L183.64 264.67 L184.35 265.19 L185.06 264.78 L185.76 264.93 L186.47 264.88 L187.18 264.68 L187.89 264.86 L188.60 264.66 L189.32 264.30 L190.04 263.86 L190.76 262.88 L191.48 262.82 L192.21 262.05 L192.93 261.65 L193.65 261.20 L194.37 261.13 L195.09 260.12 L195.81 259.88 L196.53 259.24 L197.25 259.30 L197.97 258.55 L198.69 258.21 L199.42 257.64 L200.14 257.33 L200.86 256.62 L201.58 256.21 L202.30 255.95 L203.03 255.37 L203.75 254.93 L204.48 254.04 L205.21 253.81 L205.94 253.19 L206.66 252.54 L207.39 251.89 L208.12 251.44 L208.85 250.60 L209.57 250.06 L210.30 249.64 L211.03 248.97 L211.75 248.38 L212.48 248.23 L213.21 247.69 L213.94 247.07 L214.66 246.27 L215.39 246.03 L216.12 245.55 L216.85 244.87 L217.57 244.09 L218.30 243.74 L219.03 243.22 L219.75 242.73 L220.48 242.24 L221.20 242.25 L221.93 241.70 L222.65 241.46 L223.38 240.59 L224.10 240.23 L224.82 239.96 L225.55 239.27 L226.28 239.00 L227.00 238.72 L227.71 238.87 L228.43 239.30 L229.14 239.28 L229.85 239.50 L230.56 239.64 L231.28 239.94 L231.99 239.87 L232.70 239.83 L233.41 240.59 L234.12 240.66 L234.84 240.44 L235.55 240.60 L236.26 240.85 L236.97 241.29 L237.69 241.15 L238.40 241.26 L239.11 241.72 L239.83 241.61 L240.54 241.94 L241.25 242.19 L241.96 242.26 L242.68 242.32 L243.39 242.65 L244.10 242.82 L244.81 243.05 L245.53 243.28 L246.24 243.43 L246.95 243.58 L247.66 243.58 L248.38 244.25 L249.09 244.36 L249.80 244.40 L250.50 244.01 L251.21 244.06 L251.91 244.37 L252.62 244.02 L253.32 243.78 L254.02 244.06 L254.73 244.02 L255.43 243.47 L256.13 243.60 L256.84 243.55 L257.54 243.20 L258.25 243.23 L258.95 243.32 L259.65 243.27 L260.36 243.15 L261.06 243.06 L261.77 242.82 L262.47 242.55 L263.17 242.43 L263.88 242.83 L264.58 242.76 L265.28 242.70 L265.99 242.11 L266.69 242.44 L267.40 241.99 L268.10 242.01 L268.87 242.93 L269.63 244.34 L270.40 245.32 L271.17 246.34 L271.93 247.08 L272.70 248.43 L273.47 249.03 L274.23 250.23 L275.00 251.30 L275.76 250.57 L276.51 250.20 L277.27 249.56 L278.02 249.51 L278.78 248.68 L279.53 248.18 L280.29 247.80 L281.04 247.55 L281.80 247.08 L282.51 247.08 L283.23 247.34 L283.94 247.34 L284.65 247.08 L285.36 247.33 L286.07 247.18 L286.79 247.28 L287.50 247.29 L288.21 247.31 L288.93 247.54 L289.64 247.92 L290.35 247.84 L291.06 247.57 L291.78 247.71 L292.49 247.99 L293.20 248.02 L293.91 247.78 L294.62 247.88 L295.34 248.23 L296.05 248.31 L296.76 248.06 L297.48 248.54 L298.19 248.28 L298.90 248.55 L299.61 248.58 L300.33 248.53 L301.04 248.96 L301.75 248.69 L302.46 248.77 L303.18 248.90 L303.89 249.14 L304.60 249.29 L305.30 249.40 L306.01 249.51 L306.71 249.85 L307.41 250.05 L308.12 250.48 L308.82 250.73 L309.52 250.85 L310.23 250.76 L310.93 251.21 L311.63 251.38 L312.34 251.49 L313.04 252.07 L313.74 251.97 L314.45 252.51 L315.15 252.61 L315.86 252.82 L316.56 253.23 L317.26 253.48 L317.97 253.88 L318.67 254.13 L319.37 254.25 L320.08 254.17 L320.78 254.65 L321.48 254.79 L322.19 255.30 L322.89 255.24 L323.59 255.43 L324.30 255.47 L325.00 255.98 L325.70 255.76 L326.41 255.37 L327.11 254.99 L327.81 254.96 L328.51 254.46 L329.22 254.26 L329.92 254.17 L330.62 253.86 L331.32 253.69 L332.03 253.45 L332.73 253.11 L333.43 252.70 L334.13 252.38 L334.84 252.45 L335.54 252.44 L336.24 251.77 L336.94 251.55 L337.65 251.28 L338.35 251.27 L339.05 250.87 L339.75 250.79 L340.46 250.06 L341.16 249.88 L341.86 249.67 L342.56 249.51 L343.27 249.27 L343.97 249.01 L344.67 249.10 L345.37 248.53 L346.08 248.35 L346.78 248.33 L347.48 247.88 L348.18 247.60 L348.89 247.48 L349.59 246.93 L350.29 246.49 L350.99 246.79 L351.70 246.28 L352.40 246.05 L353.10 245.79 L353.81 246.24 L354.51 246.07 L355.22 246.28 L355.92 246.11 L356.62 246.54 L357.33 246.26 L358.03 246.25 L358.73 246.67 L359.44 246.31 L360.14 246.39 L360.85 246.57 L361.55 246.91 L362.25 246.44 L362.96 246.55 L363.66 246.95 L364.37 246.56 L365.07 246.81 L365.77 247.08 L366.48 247.09 L367.18 247.19 L367.88 246.83 L368.59 247.34 L369.29 247.07 L370.00 247.39 L370.70 247.23 L371.40 247.53 L372.11 247.33 L372.81 247.25 L373.52 247.23 L374.22 247.49 L374.92 247.27 L375.63 247.38 L376.33 247.86 L377.03 247.73 L377.74 247.95 L378.44 247.57 L379.15 247.82 L379.85 247.86 L380.55 247.69 L381.26 247.83 L381.96 248.27 L382.67 248.20 L383.37 248.12 L384.07 248.23 L384.78 248.43 L385.48 248.53 L386.18 248.36 L386.89 248.09 L387.59 248.63 L388.30 248.25 L389.00 248.34 L389.72 248.47 L390.43 248.88 L391.15 249.10 L391.86 249.21 L392.58 249.40 L393.29 249.39 L394.01 249.92 L394.73 250.00 L395.44 250.04 L396.16 250.54 L396.87 250.79 L397.59 250.96 L398.31 251.19 L399.02 250.82 L399.74 251.20 L400.45 251.42 L401.17 251.49 L401.88 251.96 L402.60 252.24 L403.32 252.00 L404.04 252.44 L404.76 252.93 L405.48 253.10 L406.20 253.05 L406.92 253.06 L407.64 253.49 L408.36 253.74 L409.08 254.12 L409.80 253.98 L410.52 254.25 L411.24 254.89 L411.96 254.52 L412.68 255.10 L413.40 255.01 L414.12 255.62 L414.84 255.64 L415.56 256.16 L416.28 255.95 L417.00 256.56 L417.72 256.39 L418.44 256.50 L419.16 256.74 L419.88 256.95 L420.60 257.35 L421.32 257.92 L422.04 257.76 L422.76 258.20 L423.48 258.00 L424.20 258.51" fill="none" stroke="#e08a55" stroke-width="0.80" stroke-linejoin="round" stroke-opacity="1.00"/>
<path d="M27.40 271.85 L28.10 270.60 L28.80 271.12 L29.50 269.53 L30.20 270.57 L30.90 271.48 L31.60 273.43 L32.30 271.36 L33.00 271.70 L33.70 270.20 L34.40 271.36 L35.10 270.76 L35.80 271.93 L36.50 271.14 L37.20 271.02 L37.90 272.02 L38.60 273.05 L39.30 271.81 L40.00 271.60 L40.70 271.39 L41.46 271.59 L42.22 272.04 L42.98 272.63 L43.73 271.85 L44.49 272.68 L45.25 272.27 L46.01 273.03 L46.77 272.15 L47.52 272.41 L48.28 273.90 L49.04 272.59 L49.80 273.28 L50.50 272.88 L51.21 272.25 L51.91 274.32 L52.62 272.19 L53.32 271.72 L54.02 272.32 L54.73 272.76 L55.43 270.91 L56.13 271.52 L56.84 271.06 L57.54 270.55 L58.25 271.12 L58.95 270.53 L59.65 271.56 L60.36 270.33 L61.06 270.13 L61.77 269.85 L62.47 269.45 L63.17 270.06 L63.88 268.76 L64.58 268.82 L65.28 269.02 L65.99 269.34 L66.69 269.82 L67.40 268.59 L68.10 269.02 L68.80 268.79 L69.51 270.37 L70.21 270.30 L70.92 269.16 L71.62 268.92 L72.32 268.34 L73.03 269.29 L73.73 268.58 L74.43 268.58 L75.14 269.25 L75.84 269.41 L76.55 268.89 L77.25 269.07 L77.95 269.12 L78.66 269.08 L79.36 269.89 L80.07 272.43 L80.77 269.94 L81.47 271.65 L82.18 269.68 L82.88 270.20 L83.58 270.24 L84.29 270.53 L84.99 270.38 L85.70 270.42 L86.40 271.11 L87.16 271.01 L87.92 271.55 L88.68 271.50 L89.43 270.87 L90.19 272.00 L90.95 271.21 L91.71 272.09 L92.47 272.33 L93.22 271.94 L93.98 272.07 L94.74 273.13 L95.50 272.91 L96.25 272.71 L97.00 272.93 L97.75 271.80 L98.50 272.66 L99.25 271.57 L100.00 271.54 L100.72 272.05 L101.44 272.23 L102.16 272.41 L102.88 272.38 L103.59 271.85 L104.31 274.37 L105.03 272.50 L105.75 272.40 L106.47 271.90 L107.19 272.71 L107.91 272.55 L108.62 272.29 L109.34 272.50 L110.06 273.24 L110.78 272.56 L111.50 272.43 L112.26 272.13 L113.01 272.94 L113.77 271.97 L114.52 274.61 L115.28 274.66 L116.03 271.54 L116.79 271.02 L117.54 270.89 L118.30 271.07 L119.02 269.92 L119.75 270.59 L120.47 272.23 L121.20 270.07 L121.92 272.12 L122.65 269.52 L123.38 272.13 L124.10 270.43 L124.83 270.12 L125.55 269.94 L126.28 269.98 L127.00 269.65 L127.72 269.24 L128.44 269.53 L129.16 270.20 L129.88 269.81 L130.61 272.51 L131.33 270.06 L132.05 270.77 L132.77 270.62 L133.49 270.54 L134.21 270.44 L134.93 270.36 L135.65 270.96 L136.37 273.55 L137.09 270.76 L137.82 270.77 L138.54 271.01 L139.26 271.46 L139.98 271.60 L140.70 271.68 L141.43 271.54 L142.15 272.51 L142.88 271.62 L143.61 271.25 L144.34 271.64 L145.06 271.56 L145.79 271.58 L146.52 271.54 L147.25 271.69 L147.97 271.55 L148.70 271.87 L149.43 271.98 L150.15 270.86 L150.88 272.94 L151.61 271.61 L152.34 271.18 L153.06 271.37 L153.79 271.89 L154.52 272.17 L155.25 271.71 L155.97 271.99 L156.70 271.31 L157.43 272.28 L158.15 273.80 L158.88 272.07 L159.61 271.43 L160.34 270.72 L161.06 271.70 L161.79 271.97 L162.52 271.81 L163.25 271.21 L163.97 271.83 L164.70 271.34 L165.43 271.07 L166.15 270.67 L166.88 273.07 L167.61 271.07 L168.34 270.68 L169.06 270.60 L169.79 270.47 L170.52 270.83 L171.25 270.21 L171.97 270.68 L172.70 270.40 L173.42 272.16 L174.15 271.31 L174.87 270.77 L175.59 270.29 L176.31 269.62 L177.04 271.71 L177.76 269.23 L178.48 271.22 L179.20 269.13 L179.93 268.63 L180.65 269.73 L181.37 267.69 L182.10 266.93 L182.82 267.86 L183.54 268.05 L184.26 269.92 L184.99 267.03 L185.71 266.29 L186.43 267.14 L187.15 265.91 L187.88 265.87 L188.60 265.61 L189.31 265.62 L190.02 265.49 L190.72 264.65 L191.43 264.38 L192.14 263.70 L192.85 262.58 L193.55 262.90 L194.26 261.62 L194.97 261.51 L195.68 261.13 L196.38 260.12 L197.09 259.91 L197.80 258.70 L198.56 260.98 L199.32 257.96 L200.08 259.61 L200.83 257.91 L201.59 257.44 L202.35 257.49 L203.11 256.62 L203.87 256.09 L204.62 255.36 L205.38 255.96 L206.14 255.13 L206.90 255.27 L207.61 254.66 L208.33 253.32 L209.04 253.57 L209.75 253.41 L210.46 252.22 L211.18 251.64 L211.89 251.64 L212.60 251.44 L213.31 250.45 L214.03 249.89 L214.74 248.61 L215.45 248.45 L216.16 247.99 L216.88 249.58 L217.59 247.25 L218.30 246.88 L219.03 246.80 L219.75 245.61 L220.48 245.09 L221.20 246.43 L221.93 244.55 L222.65 244.54 L223.38 243.85 L224.10 243.88 L224.82 242.73 L225.55 242.61 L226.28 242.93 L227.00 242.39 L227.76 241.74 L228.52 241.77 L229.28 241.86 L230.03 241.34 L230.79 241.23 L231.55 241.97 L232.31 241.30 L233.07 240.81 L233.82 242.81 L234.58 240.78 L235.34 240.86 L236.10 240.50 L236.87 241.19 L237.63 241.75 L238.40 245.03 L239.17 242.98 L239.93 243.14 L240.70 244.26 L241.47 243.43 L242.23 244.11 L243.00 243.90 L243.71 244.55 L244.43 244.37 L245.14 244.72 L245.85 245.22 L246.56 246.82 L247.28 245.32 L247.99 245.20 L248.70 245.52 L249.41 245.18 L250.12 245.55 L250.84 245.57 L251.55 246.60 L252.26 246.72 L252.97 246.14 L253.69 245.97 L254.40 247.83 L255.16 246.44 L255.91 245.94 L256.67 248.19 L257.42 246.14 L258.18 245.68 L258.93 247.81 L259.69 244.61 L260.44 244.88 L261.20 244.88 L261.92 245.06 L262.64 244.63 L263.36 244.81 L264.07 244.67 L264.79 244.40 L265.51 245.23 L266.23 245.12 L266.95 244.96 L267.67 245.90 L268.39 246.43 L269.11 244.65 L269.82 247.65 L270.54 245.65 L271.26 245.07 L271.98 245.28 L272.70 246.04 L273.40 244.83 L274.10 247.53 L274.80 245.48 L275.50 247.78 L276.20 245.74 L276.90 245.54 L277.60 246.49 L278.30 246.47 L279.00 245.88 L279.70 246.71 L280.40 246.88 L281.10 246.73 L281.80 246.26 L282.51 246.54 L283.23 247.62 L283.94 247.59 L284.65 247.97 L285.36 248.68 L286.07 248.93 L286.79 248.57 L287.50 249.13 L288.21 252.22 L288.93 249.78 L289.64 251.49 L290.35 250.42 L291.06 251.38 L291.77 250.36 L292.49 250.80 L293.20 251.25 L293.91 251.52 L294.62 250.07 L295.34 251.19 L296.05 250.18 L296.76 250.97 L297.48 250.91 L298.19 249.91 L298.90 250.02 L299.61 249.87 L300.32 249.60 L301.04 248.52 L301.75 249.83 L302.46 248.78 L303.18 249.60 L303.89 248.80 L304.60 251.03 L305.31 249.18 L306.02 249.79 L306.72 252.45 L307.43 252.38 L308.14 251.63 L308.85 252.75 L309.55 255.72 L310.26 254.16 L310.97 254.55 L311.68 255.36 L312.38 255.40 L313.09 256.92 L313.80 257.34 L314.56 256.68 L315.31 257.27 L316.07 257.25 L316.82 257.66 L317.58 257.59 L318.33 257.90 L319.09 257.61 L319.84 257.96 L320.60 258.70 L321.33 257.76 L322.07 259.63 L322.80 258.10 L323.53 257.82 L324.27 259.03 L325.00 256.90 L325.70 256.69 L326.40 256.93 L327.10 256.92 L327.80 255.62 L328.50 255.27 L329.20 254.94 L329.90 256.61 L330.60 256.83 L331.30 254.88 L332.00 254.06 L332.70 256.95 L333.40 253.95 L334.10 252.96 L334.81 252.97 L335.52 252.20 L336.22 251.68 L336.93 252.04 L337.64 251.52 L338.35 250.32 L339.05 249.59 L339.76 250.50 L340.47 249.30 L341.18 249.16 L341.88 251.04 L342.59 248.29 L343.30 246.98 L344.06 247.88 L344.82 247.79 L345.57 246.88 L346.33 249.03 L347.09 246.29 L347.85 246.36 L348.61 246.72 L349.37 247.34 L350.12 248.49 L350.88 246.36 L351.64 245.71 L352.40 246.01 L353.10 245.56 L353.81 246.66 L354.51 245.54 L355.22 245.74 L355.92 246.03 L356.62 245.72 L357.33 245.37 L358.03 246.16 L358.73 248.43 L359.44 246.09 L360.14 246.99 L360.85 245.94 L361.55 246.30 L362.25 246.23 L362.96 245.75 L363.66 246.34 L364.37 247.59 L365.07 246.60 L365.77 246.08 L366.48 246.74 L367.18 248.91 L367.88 245.93 L368.59 247.19 L369.29 246.81 L370.00 246.15 L370.70 249.45 L371.40 247.31 L372.11 246.35 L372.81 246.86 L373.52 247.56 L374.22 247.67 L374.92 247.99 L375.63 248.79 L376.33 246.91 L377.03 247.49 L377.74 248.55 L378.44 248.34 L379.15 247.56 L379.85 246.54 L380.55 247.95 L381.26 249.35 L381.96 247.88 L382.67 248.39 L383.37 247.93 L384.07 248.34 L384.78 249.07 L385.48 249.06 L386.18 248.57 L386.89 249.02 L387.59 248.59 L388.30 248.45 L389.00 247.98 L389.72 248.84 L390.43 248.57 L391.15 248.77 L391.86 249.92 L392.58 249.91 L393.29 249.56 L394.01 249.19 L394.73 250.05 L395.44 250.56 L396.16 250.24 L396.87 249.85 L397.59 250.92 L398.31 250.86 L399.02 250.80 L399.74 250.62 L400.45 250.45 L401.17 250.57 L401.88 250.91 L402.60 251.28 L403.31 251.95 L404.02 252.82 L404.72 251.78 L405.43 251.73 L406.14 252.35 L406.85 252.87 L407.55 253.68 L408.26 253.90 L408.97 253.65 L409.68 253.53 L410.38 254.14 L411.09 254.94 L411.80 254.93 L412.53 254.52 L413.26 257.43 L413.99 256.00 L414.72 255.23 L415.45 257.12 L416.18 258.52 L416.91 256.65 L417.64 257.06 L418.36 257.11 L419.09 257.94 L419.82 258.03 L420.55 258.23 L421.28 258.14 L422.01 257.00 L422.74 258.66 L423.47 259.48 L424.20 259.09 M241.80 244.00 L241.80 256.00 M251.70 246.00 L251.70 262.00 M257.80 247.00 L257.80 265.00 M49.80 272.00 L49.80 280.90 M100.00 272.00 L100.00 284.30 M103.00 272.00 L103.00 283.00 M106.00 272.00 L106.00 282.00 M109.00 272.00 L109.00 281.00 M112.00 272.00 L112.00 280.00 M133.80 270.00 L133.80 278.00 M149.10 271.00 L149.10 276.00 M343.30 248.00 L343.30 241.00 M346.00 247.00 L346.00 241.50 M350.00 246.00 L350.00 242.00 M242.00 244.00 L242.00 251.00 M237.00 242.00 L237.00 250.00" fill="none" stroke="#c6b4f2" stroke-width="2.80" stroke-linejoin="round" stroke-opacity="0.60"/>
<path d="M27.40 271.85 L28.10 270.60 L28.80 271.12 L29.50 269.53 L30.20 270.57 L30.90 271.48 L31.60 273.43 L32.30 271.36 L33.00 271.70 L33.70 270.20 L34.40 271.36 L35.10 270.76 L35.80 271.93 L36.50 271.14 L37.20 271.02 L37.90 272.02 L38.60 273.05 L39.30 271.81 L40.00 271.60 L40.70 271.39 L41.46 271.59 L42.22 272.04 L42.98 272.63 L43.73 271.85 L44.49 272.68 L45.25 272.27 L46.01 273.03 L46.77 272.15 L47.52 272.41 L48.28 273.90 L49.04 272.59 L49.80 273.28 L50.50 272.88 L51.21 272.25 L51.91 274.32 L52.62 272.19 L53.32 271.72 L54.02 272.32 L54.73 272.76 L55.43 270.91 L56.13 271.52 L56.84 271.06 L57.54 270.55 L58.25 271.12 L58.95 270.53 L59.65 271.56 L60.36 270.33 L61.06 270.13 L61.77 269.85 L62.47 269.45 L63.17 270.06 L63.88 268.76 L64.58 268.82 L65.28 269.02 L65.99 269.34 L66.69 269.82 L67.40 268.59 L68.10 269.02 L68.80 268.79 L69.51 270.37 L70.21 270.30 L70.92 269.16 L71.62 268.92 L72.32 268.34 L73.03 269.29 L73.73 268.58 L74.43 268.58 L75.14 269.25 L75.84 269.41 L76.55 268.89 L77.25 269.07 L77.95 269.12 L78.66 269.08 L79.36 269.89 L80.07 272.43 L80.77 269.94 L81.47 271.65 L82.18 269.68 L82.88 270.20 L83.58 270.24 L84.29 270.53 L84.99 270.38 L85.70 270.42 L86.40 271.11 L87.16 271.01 L87.92 271.55 L88.68 271.50 L89.43 270.87 L90.19 272.00 L90.95 271.21 L91.71 272.09 L92.47 272.33 L93.22 271.94 L93.98 272.07 L94.74 273.13 L95.50 272.91 L96.25 272.71 L97.00 272.93 L97.75 271.80 L98.50 272.66 L99.25 271.57 L100.00 271.54 L100.72 272.05 L101.44 272.23 L102.16 272.41 L102.88 272.38 L103.59 271.85 L104.31 274.37 L105.03 272.50 L105.75 272.40 L106.47 271.90 L107.19 272.71 L107.91 272.55 L108.62 272.29 L109.34 272.50 L110.06 273.24 L110.78 272.56 L111.50 272.43 L112.26 272.13 L113.01 272.94 L113.77 271.97 L114.52 274.61 L115.28 274.66 L116.03 271.54 L116.79 271.02 L117.54 270.89 L118.30 271.07 L119.02 269.92 L119.75 270.59 L120.47 272.23 L121.20 270.07 L121.92 272.12 L122.65 269.52 L123.38 272.13 L124.10 270.43 L124.83 270.12 L125.55 269.94 L126.28 269.98 L127.00 269.65 L127.72 269.24 L128.44 269.53 L129.16 270.20 L129.88 269.81 L130.61 272.51 L131.33 270.06 L132.05 270.77 L132.77 270.62 L133.49 270.54 L134.21 270.44 L134.93 270.36 L135.65 270.96 L136.37 273.55 L137.09 270.76 L137.82 270.77 L138.54 271.01 L139.26 271.46 L139.98 271.60 L140.70 271.68 L141.43 271.54 L142.15 272.51 L142.88 271.62 L143.61 271.25 L144.34 271.64 L145.06 271.56 L145.79 271.58 L146.52 271.54 L147.25 271.69 L147.97 271.55 L148.70 271.87 L149.43 271.98 L150.15 270.86 L150.88 272.94 L151.61 271.61 L152.34 271.18 L153.06 271.37 L153.79 271.89 L154.52 272.17 L155.25 271.71 L155.97 271.99 L156.70 271.31 L157.43 272.28 L158.15 273.80 L158.88 272.07 L159.61 271.43 L160.34 270.72 L161.06 271.70 L161.79 271.97 L162.52 271.81 L163.25 271.21 L163.97 271.83 L164.70 271.34 L165.43 271.07 L166.15 270.67 L166.88 273.07 L167.61 271.07 L168.34 270.68 L169.06 270.60 L169.79 270.47 L170.52 270.83 L171.25 270.21 L171.97 270.68 L172.70 270.40 L173.42 272.16 L174.15 271.31 L174.87 270.77 L175.59 270.29 L176.31 269.62 L177.04 271.71 L177.76 269.23 L178.48 271.22 L179.20 269.13 L179.93 268.63 L180.65 269.73 L181.37 267.69 L182.10 266.93 L182.82 267.86 L183.54 268.05 L184.26 269.92 L184.99 267.03 L185.71 266.29 L186.43 267.14 L187.15 265.91 L187.88 265.87 L188.60 265.61 L189.31 265.62 L190.02 265.49 L190.72 264.65 L191.43 264.38 L192.14 263.70 L192.85 262.58 L193.55 262.90 L194.26 261.62 L194.97 261.51 L195.68 261.13 L196.38 260.12 L197.09 259.91 L197.80 258.70 L198.56 260.98 L199.32 257.96 L200.08 259.61 L200.83 257.91 L201.59 257.44 L202.35 257.49 L203.11 256.62 L203.87 256.09 L204.62 255.36 L205.38 255.96 L206.14 255.13 L206.90 255.27 L207.61 254.66 L208.33 253.32 L209.04 253.57 L209.75 253.41 L210.46 252.22 L211.18 251.64 L211.89 251.64 L212.60 251.44 L213.31 250.45 L214.03 249.89 L214.74 248.61 L215.45 248.45 L216.16 247.99 L216.88 249.58 L217.59 247.25 L218.30 246.88 L219.03 246.80 L219.75 245.61 L220.48 245.09 L221.20 246.43 L221.93 244.55 L222.65 244.54 L223.38 243.85 L224.10 243.88 L224.82 242.73 L225.55 242.61 L226.28 242.93 L227.00 242.39 L227.76 241.74 L228.52 241.77 L229.28 241.86 L230.03 241.34 L230.79 241.23 L231.55 241.97 L232.31 241.30 L233.07 240.81 L233.82 242.81 L234.58 240.78 L235.34 240.86 L236.10 240.50 L236.87 241.19 L237.63 241.75 L238.40 245.03 L239.17 242.98 L239.93 243.14 L240.70 244.26 L241.47 243.43 L242.23 244.11 L243.00 243.90 L243.71 244.55 L244.43 244.37 L245.14 244.72 L245.85 245.22 L246.56 246.82 L247.28 245.32 L247.99 245.20 L248.70 245.52 L249.41 245.18 L250.12 245.55 L250.84 245.57 L251.55 246.60 L252.26 246.72 L252.97 246.14 L253.69 245.97 L254.40 247.83 L255.16 246.44 L255.91 245.94 L256.67 248.19 L257.42 246.14 L258.18 245.68 L258.93 247.81 L259.69 244.61 L260.44 244.88 L261.20 244.88 L261.92 245.06 L262.64 244.63 L263.36 244.81 L264.07 244.67 L264.79 244.40 L265.51 245.23 L266.23 245.12 L266.95 244.96 L267.67 245.90 L268.39 246.43 L269.11 244.65 L269.82 247.65 L270.54 245.65 L271.26 245.07 L271.98 245.28 L272.70 246.04 L273.40 244.83 L274.10 247.53 L274.80 245.48 L275.50 247.78 L276.20 245.74 L276.90 245.54 L277.60 246.49 L278.30 246.47 L279.00 245.88 L279.70 246.71 L280.40 246.88 L281.10 246.73 L281.80 246.26 L282.51 246.54 L283.23 247.62 L283.94 247.59 L284.65 247.97 L285.36 248.68 L286.07 248.93 L286.79 248.57 L287.50 249.13 L288.21 252.22 L288.93 249.78 L289.64 251.49 L290.35 250.42 L291.06 251.38 L291.77 250.36 L292.49 250.80 L293.20 251.25 L293.91 251.52 L294.62 250.07 L295.34 251.19 L296.05 250.18 L296.76 250.97 L297.48 250.91 L298.19 249.91 L298.90 250.02 L299.61 249.87 L300.32 249.60 L301.04 248.52 L301.75 249.83 L302.46 248.78 L303.18 249.60 L303.89 248.80 L304.60 251.03 L305.31 249.18 L306.02 249.79 L306.72 252.45 L307.43 252.38 L308.14 251.63 L308.85 252.75 L309.55 255.72 L310.26 254.16 L310.97 254.55 L311.68 255.36 L312.38 255.40 L313.09 256.92 L313.80 257.34 L314.56 256.68 L315.31 257.27 L316.07 257.25 L316.82 257.66 L317.58 257.59 L318.33 257.90 L319.09 257.61 L319.84 257.96 L320.60 258.70 L321.33 257.76 L322.07 259.63 L322.80 258.10 L323.53 257.82 L324.27 259.03 L325.00 256.90 L325.70 256.69 L326.40 256.93 L327.10 256.92 L327.80 255.62 L328.50 255.27 L329.20 254.94 L329.90 256.61 L330.60 256.83 L331.30 254.88 L332.00 254.06 L332.70 256.95 L333.40 253.95 L334.10 252.96 L334.81 252.97 L335.52 252.20 L336.22 251.68 L336.93 252.04 L337.64 251.52 L338.35 250.32 L339.05 249.59 L339.76 250.50 L340.47 249.30 L341.18 249.16 L341.88 251.04 L342.59 248.29 L343.30 246.98 L344.06 247.88 L344.82 247.79 L345.57 246.88 L346.33 249.03 L347.09 246.29 L347.85 246.36 L348.61 246.72 L349.37 247.34 L350.12 248.49 L350.88 246.36 L351.64 245.71 L352.40 246.01 L353.10 245.56 L353.81 246.66 L354.51 245.54 L355.22 245.74 L355.92 246.03 L356.62 245.72 L357.33 245.37 L358.03 246.16 L358.73 248.43 L359.44 246.09 L360.14 246.99 L360.85 245.94 L361.55 246.30 L362.25 246.23 L362.96 245.75 L363.66 246.34 L364.37 247.59 L365.07 246.60 L365.77 246.08 L366.48 246.74 L367.18 248.91 L367.88 245.93 L368.59 247.19 L369.29 246.81 L370.00 246.15 L370.70 249.45 L371.40 247.31 L372.11 246.35 L372.81 246.86 L373.52 247.56 L374.22 247.67 L374.92 247.99 L375.63 248.79 L376.33 246.91 L377.03 247.49 L377.74 248.55 L378.44 248.34 L379.15 247.56 L379.85 246.54 L380.55 247.95 L381.26 249.35 L381.96 247.88 L382.67 248.39 L383.37 247.93 L384.07 248.34 L384.78 249.07 L385.48 249.06 L386.18 248.57 L386.89 249.02 L387.59 248.59 L388.30 248.45 L389.00 247.98 L389.72 248.84 L390.43 248.57 L391.15 248.77 L391.86 249.92 L392.58 249.91 L393.29 249.56 L394.01 249.19 L394.73 250.05 L395.44 250.56 L396.16 250.24 L396.87 249.85 L397.59 250.92 L398.31 250.86 L399.02 250.80 L399.74 250.62 L400.45 250.45 L401.17 250.57 L401.88 250.91 L402.60 251.28 L403.31 251.95 L404.02 252.82 L404.72 251.78 L405.43 251.73 L406.14 252.35 L406.85 252.87 L407.55 253.68 L408.26 253.90 L408.97 253.65 L409.68 253.53 L410.38 254.14 L411.09 254.94 L411.80 254.93 L412.53 254.52 L413.26 257.43 L413.99 256.00 L414.72 255.23 L415.45 257.12 L416.18 258.52 L416.91 256.65 L417.64 257.06 L418.36 257.11 L419.09 257.94 L419.82 258.03 L420.55 258.23 L421.28 258.14 L422.01 257.00 L422.74 258.66 L423.47 259.48 L424.20 259.09 M241.80 244.00 L241.80 256.00 M251.70 246.00 L251.70 262.00 M257.80 247.00 L257.80 265.00 M49.80 272.00 L49.80 280.90 M100.00 272.00 L100.00 284.30 M103.00 272.00 L103.00 283.00 M106.00 272.00 L106.00 282.00 M109.00 272.00 L109.00 281.00 M112.00 272.00 L112.00 280.00 M133.80 270.00 L133.80 278.00 M149.10 271.00 L149.10 276.00 M343.30 248.00 L343.30 241.00 M346.00 247.00 L346.00 241.50 M350.00 246.00 L350.00 242.00 M242.00 244.00 L242.00 251.00 M237.00 242.00 L237.00 250.00" fill="none" stroke="#6b44d0" stroke-width="1.40" stroke-linejoin="round" stroke-opacity="1.00"/>
<path d="M27.40 269.36 L28.11 269.75 L28.82 269.60 L29.53 269.38 L30.23 269.80 L30.94 269.29 L31.65 269.38 L32.36 269.54 L33.07 269.85 L33.78 269.32 L34.49 269.39 L35.20 269.70 L35.90 269.42 L36.61 269.77 L37.32 269.22 L38.03 269.34 L38.74 269.38 L39.45 269.70 L40.16 269.24 L40.87 269.58 L41.57 269.70 L42.28 269.75 L42.99 269.64 L43.70 269.18 L44.41 269.43 L45.12 269.27 L45.83 269.20 L46.53 269.27 L47.24 269.56 L47.95 269.46 L48.66 269.18 L49.37 269.27 L50.08 269.13 L50.79 269.64 L51.50 269.53 L52.20 269.36 L52.91 269.64 L53.62 269.65 L54.33 269.18 L55.04 269.20 L55.75 269.15 L56.46 269.41 L57.17 269.38 L57.87 269.33 L58.58 269.48 L59.29 269.32 L60.00 269.19 L60.71 269.44 L61.42 269.64 L62.13 269.13 L62.84 269.43 L63.55 269.25 L64.26 269.65 L64.97 269.50 L65.68 269.78 L66.39 269.71 L67.10 269.92 L67.81 269.72 L68.52 269.77 L69.23 270.03 L69.94 269.96 L70.65 269.71 L71.36 269.61 L72.07 270.13 L72.78 269.65 L73.49 270.20 L74.20 270.24 L74.91 270.11 L75.62 270.32 L76.33 270.15 L77.04 270.26 L77.75 270.21 L78.46 270.02 L79.17 269.97 L79.88 270.40 L80.59 270.26 L81.30 270.09 L82.01 270.39 L82.72 270.25 L83.43 270.28 L84.14 270.68 L84.85 270.56 L85.56 270.67 L86.27 270.75 L86.98 270.55 L87.69 270.60 L88.40 270.62 L89.11 270.61 L89.82 270.90 L90.53 270.99 L91.24 270.67 L91.95 270.96 L92.66 270.69 L93.37 270.60 L94.08 271.04 L94.79 271.13 L95.50 270.90 L96.20 271.25 L96.90 271.04 L97.60 270.76 L98.30 270.98 L99.00 270.98 L99.70 270.52 L100.40 270.94 L101.10 270.61 L101.80 270.46 L102.50 270.48 L103.20 270.53 L103.90 270.48 L104.60 270.30 L105.30 270.11 L106.00 270.41 L106.70 270.42 L107.40 270.36 L108.10 270.14 L108.80 270.37 L109.50 269.82 L110.20 269.84 L110.90 269.73 L111.60 270.01 L112.30 269.95 L113.00 269.73 L113.70 269.86 L114.40 269.50 L115.10 269.48 L115.80 269.99 L116.50 269.90 L117.20 269.36 L117.90 269.67 L118.60 269.54 L119.30 269.51 L120.00 269.65 L120.70 269.48 L121.40 269.62 L122.10 269.42 L122.80 269.52 L123.50 268.99 L124.20 269.37 L124.90 269.03 L125.60 269.34 L126.30 269.22 L127.00 269.28 L127.71 269.19 L128.41 269.01 L129.12 269.12 L129.83 269.31 L130.54 268.91 L131.24 269.24 L131.95 269.29 L132.66 269.42 L133.36 269.23 L134.07 269.42 L134.78 269.53 L135.49 269.36 L136.19 269.57 L136.90 269.74 L137.61 269.46 L138.31 269.59 L139.02 269.60 L139.73 269.85 L140.44 269.54 L141.14 269.59 L141.85 269.69 L142.56 269.88 L143.26 269.61 L143.97 270.14 L144.68 269.89 L145.39 270.07 L146.09 269.91 L146.80 269.72 L147.51 269.97 L148.21 270.11 L148.92 269.86 L149.63 270.43 L150.34 270.23 L151.04 270.19 L151.75 269.97 L152.46 270.13 L153.16 270.22 L153.87 270.45 L154.58 270.20 L155.29 270.42 L155.99 270.33 L156.70 270.54 L157.41 270.49 L158.12 270.27 L158.83 270.28 L159.54 270.08 L160.24 269.64 L160.95 269.86 L161.66 269.63 L162.37 269.68 L163.08 269.66 L163.79 269.19 L164.50 269.37 L165.21 268.87 L165.92 269.00 L166.62 268.49 L167.33 268.86 L168.04 268.51 L168.75 268.40 L169.46 268.30 L170.17 268.10 L170.88 267.89 L171.59 268.05 L172.30 267.89 L173.00 267.42 L173.71 267.43 L174.42 267.70 L175.13 267.19 L175.84 267.08 L176.55 267.12 L177.26 266.88 L177.97 267.10 L178.68 267.00 L179.38 266.37 L180.09 266.30 L180.80 266.15 L181.51 266.19 L182.22 265.97 L182.93 266.08 L183.64 266.09 L184.35 265.48 L185.06 265.33 L185.76 265.26 L186.47 265.25 L187.18 265.02 L187.89 265.08 L188.60 264.92 L189.32 264.72 L190.04 264.44 L190.76 264.02 L191.48 263.27 L192.21 262.98 L192.93 262.25 L193.65 262.12 L194.37 261.86 L195.09 261.44 L195.81 260.57 L196.53 260.17 L197.25 260.19 L197.97 259.64 L198.69 259.26 L199.42 258.42 L200.14 258.33 L200.86 257.56 L201.58 257.56 L202.30 257.18 L203.01 256.42 L203.71 255.76 L204.42 255.73 L205.12 255.41 L205.83 254.72 L206.53 254.09 L207.24 253.60 L207.95 253.42 L208.65 253.04 L209.36 252.20 L210.06 251.65 L210.77 251.64 L211.47 250.83 L212.18 250.37 L212.89 249.82 L213.59 249.59 L214.30 249.28 L215.00 248.50 L215.71 248.26 L216.41 247.51 L217.12 247.05 L217.83 246.81 L218.53 246.44 L219.24 245.84 L219.94 245.34 L220.65 244.94 L221.35 244.52 L222.06 244.07 L222.77 243.35 L223.47 242.79 L224.18 242.09 L224.88 241.93 L225.59 241.36 L226.29 240.67 L227.00 240.80 L227.70 240.51 L228.41 241.02 L229.11 240.59 L229.81 240.93 L230.51 241.31 L231.22 241.37 L231.92 241.50 L232.62 241.52 L233.32 241.41 L234.03 241.98 L234.73 242.07 L235.43 242.03 L236.13 242.20 L236.84 242.48 L237.54 242.42 L238.24 242.54 L238.94 242.67 L239.65 242.95 L240.35 243.08 L241.05 242.96 L241.75 243.36 L242.46 243.25 L243.16 243.55 L243.86 243.50 L244.56 243.94 L245.27 244.10 L245.97 244.13 L246.67 244.02 L247.37 244.13 L248.08 244.31 L248.78 244.54 L249.48 244.32 L250.18 244.76 L250.89 245.12 L251.59 244.73 L252.29 245.35 L252.99 245.29 L253.70 245.67 L254.40 245.63 L255.10 245.64 L255.81 245.68 L256.51 245.49 L257.21 245.32 L257.91 245.78 L258.62 245.80 L259.32 245.72 L260.02 245.43 L260.72 245.62 L261.43 245.64 L262.13 245.56 L262.83 245.65 L263.53 245.64 L264.24 245.97 L264.94 245.77 L265.64 245.99 L266.34 245.96 L267.05 245.54 L267.75 245.91 L268.45 245.69 L269.15 245.83 L269.86 245.82 L270.56 245.94 L271.26 245.69 L271.96 245.93 L272.67 245.76 L273.37 246.02 L274.07 245.86 L274.77 245.96 L275.48 246.18 L276.18 245.77 L276.88 245.61 L277.58 246.16 L278.29 245.95 L278.99 246.04 L279.69 246.16 L280.39 246.21 L281.10 245.92 L281.80 246.29 L282.51 246.04 L283.23 246.35 L283.94 246.53 L284.65 246.36 L285.36 246.50 L286.07 246.58 L286.79 246.67 L287.50 246.82 L288.21 247.19 L288.93 246.83 L289.64 247.50 L290.35 247.49 L291.06 247.46 L291.78 247.62 L292.49 247.52 L293.20 247.91 L293.91 248.08 L294.62 247.90 L295.34 248.08 L296.05 248.02 L296.76 248.15 L297.48 248.62 L298.19 248.60 L298.90 248.59 L299.61 248.82 L300.33 248.65 L301.04 248.66 L301.75 248.98 L302.46 249.22 L303.18 249.09 L303.89 249.42 L304.60 249.40 L305.30 249.60 L306.01 250.13 L306.71 250.14 L307.41 250.61 L308.12 250.86 L308.82 250.87 L309.52 250.91 L310.23 251.64 L310.93 251.70 L311.63 251.96 L312.34 252.27 L313.04 252.43 L313.74 252.88 L314.45 252.58 L315.15 253.40 L315.86 253.43 L316.56 253.55 L317.26 254.09 L317.97 254.32 L318.67 254.39 L319.37 254.27 L320.08 254.88 L320.78 255.00 L321.48 255.34 L322.19 255.73 L322.89 255.55 L323.59 256.22 L324.30 256.14 L325.00 256.35 L325.70 256.00 L326.41 255.83 L327.11 255.71 L327.81 255.65 L328.51 255.67 L329.22 255.00 L329.92 254.85 L330.62 254.68 L331.32 254.62 L332.03 254.23 L332.73 254.20 L333.43 253.67 L334.13 253.39 L334.84 253.50 L335.54 253.37 L336.24 252.79 L336.94 252.52 L337.65 252.68 L338.35 252.10 L339.05 252.40 L339.75 252.04 L340.46 251.50 L341.16 251.43 L341.86 251.00 L342.56 250.80 L343.27 250.74 L343.97 250.84 L344.67 250.64 L345.37 250.33 L346.08 250.04 L346.78 249.79 L347.48 249.53 L348.18 249.40 L348.89 249.09 L349.59 248.81 L350.29 248.86 L350.99 248.32 L351.70 248.16 L352.40 248.11 L353.10 248.28 L353.81 247.91 L354.51 247.96 L355.22 247.94 L355.92 247.83 L356.62 247.91 L357.33 248.17 L358.03 247.81 L358.73 247.99 L359.44 247.87 L360.14 248.05 L360.85 248.16 L361.55 247.77 L362.25 247.99 L362.96 247.81 L363.66 248.09 L364.37 248.11 L365.07 247.83 L365.77 247.84 L366.48 247.88 L367.18 247.90 L367.88 248.24 L368.59 248.22 L369.29 248.17 L370.00 247.94 L370.70 247.97 L371.40 247.82 L372.11 247.98 L372.81 248.27 L373.52 247.75 L374.22 247.94 L374.92 247.82 L375.63 248.21 L376.33 247.88 L377.03 247.99 L377.74 247.73 L378.44 248.11 L379.15 248.01 L379.85 248.18 L380.55 248.13 L381.26 248.15 L381.96 247.86 L382.67 247.85 L383.37 248.06 L384.07 247.73 L384.78 248.26 L385.48 248.13 L386.18 248.00 L386.89 247.92 L387.59 247.75 L388.30 248.03 L389.00 248.16 L389.70 247.95 L390.41 248.12 L391.11 248.65 L391.82 248.70 L392.52 249.07 L393.22 249.03 L393.93 249.55 L394.63 249.66 L395.34 249.51 L396.04 249.82 L396.74 250.03 L397.45 250.13 L398.15 250.53 L398.86 250.64 L399.56 250.89 L400.26 250.73 L400.97 251.06 L401.67 251.27 L402.38 251.47 L403.08 251.31 L403.78 251.97 L404.49 251.93 L405.19 251.94 L405.90 252.53 L406.60 252.53 L407.30 252.82 L408.01 253.00 L408.71 253.11 L409.42 253.47 L410.12 253.13 L410.82 253.48 L411.53 253.56 L412.23 254.02 L412.94 253.95 L413.64 254.02 L414.34 254.26 L415.05 254.46 L415.75 254.86 L416.46 254.99 L417.16 255.18 L417.86 255.09 L418.57 255.58 L419.27 255.59 L419.98 255.67 L420.68 255.83 L421.38 256.07 L422.09 256.40 L422.79 256.44 L423.50 256.80 L424.20 256.80 M99.50 258.00 L99.50 302.00 M103.00 262.00 L103.00 300.00 M133.80 266.00 L133.80 276.00 M149.10 266.00 L149.10 278.00 M164.70 266.00 L164.70 276.00 M202.00 252.00 L202.00 263.00" fill="none" stroke="#84e4c2" stroke-width="0.70" stroke-linejoin="round" stroke-opacity="1.00"/>
<rect x="30.40" y="315.70" width="394.20" height="28.50" fill="#fff" stroke="#a0a0a0" stroke-width="0.9"/>
<line x1="34.30" x2="55.40" y1="323.90" y2="323.90" stroke="#1d4379" stroke-width="1.45"/>
<text x="60.40" y="325.80" font-size="5.45" text-anchor="start" font-family="Liberation Sans, sans-serif" font-weight="normal" fill="#1a1a1a" >Peat surface fromMSL (topography)</text>
<line x1="34.30" x2="55.40" y1="335.00" y2="335.00" stroke="#bf80e0" stroke-width="1.45"/>
<text x="60.40" y="336.00" font-size="5.45" text-anchor="start" font-family="Liberation Sans, sans-serif" font-weight="normal" fill="#1a1a1a" >Elevation of estimated mineral surface by</text>
<text x="60.40" y="343.00" font-size="5.45" text-anchor="start" font-family="Liberation Sans, sans-serif" font-weight="normal" fill="#1a1a1a" >involving 9 parameters (estimation 2)</text>
<line x1="165.90" x2="187.00" y1="324.10" y2="324.10" stroke="#33701f" stroke-width="1.45"/>
<text x="190.10" y="323.00" font-size="5.45" text-anchor="start" font-family="Liberation Sans, sans-serif" font-weight="normal" fill="#1a1a1a" >Elevation of mineral surface from MSL</text>
<text x="190.10" y="329.10" font-size="5.45" text-anchor="start" font-family="Liberation Sans, sans-serif" font-weight="normal" fill="#1a1a1a" >(based on field survey)</text>
<line x1="165.90" x2="187.00" y1="336.80" y2="336.80" stroke="#88e8c8" stroke-width="1.45"/>
<text x="190.10" y="336.00" font-size="5.45" text-anchor="start" font-family="Liberation Sans, sans-serif" font-weight="normal" fill="#1a1a1a" >Elevation of estimated mineral surface</text>
<text x="190.10" y="342.00" font-size="5.45" text-anchor="start" font-family="Liberation Sans, sans-serif" font-weight="normal" fill="#1a1a1a" >by ignoring insignificant parameters (estimation 3)</text>
<line x1="306.10" x2="327.60" y1="323.40" y2="323.40" stroke="#d4582a" stroke-width="1.45"/>
<text x="330.30" y="323.30" font-size="5.45" text-anchor="start" font-family="Liberation Sans, sans-serif" font-weight="normal" fill="#1a1a1a" >Elevation of estimated mineral surface</text>
<text x="330.30" y="329.40" font-size="5.45" text-anchor="start" font-family="Liberation Sans, sans-serif" font-weight="normal" fill="#1a1a1a" >using 10 parameters (estimation 1)</text>
<text x="225.40" y="315.50" font-size="3.90" text-anchor="middle" font-family="Liberation Sans, sans-serif" font-weight="bold" fill="#111" >Distance (m)</text>
<text x="220.70" y="362.30" font-size="9.6" text-anchor="middle" font-family="Liberation Serif, serif" fill="#0a0a0a" stroke="#0a0a0a" stroke-width="0.15">(<tspan font-weight="bold">b</tspan>) Cross-section 2</text>
<rect x="13.5" y="369.4" width="413" height="155.8" fill="#fff" stroke="#a2a2a2" stroke-width="0.9"/>
<rect x="28.00" y="370.00" width="396.40" height="112.40" fill="#e2e9e8"/>
<line x1="28.00" x2="424.40" y1="480.10" y2="480.10" stroke="#cfd7d6" stroke-width="0.8"/>
<line x1="28.00" x2="424.40" y1="476.50" y2="476.50" stroke="#dbe2e1" stroke-width="0.8"/>
<line x1="28.00" x2="424.40" y1="472.90" y2="472.90" stroke="#cfd7d6" stroke-width="0.8"/>
<line x1="28.00" x2="424.40" y1="469.30" y2="469.30" stroke="#dbe2e1" stroke-width="0.8"/>
<line x1="28.00" x2="424.40" y1="465.70" y2="465.70" stroke="#cfd7d6" stroke-width="0.8"/>
<line x1="28.00" x2="424.40" y1="462.10" y2="462.10" stroke="#dbe2e1" stroke-width="0.8"/>
<line x1="28.00" x2="424.40" y1="458.50" y2="458.50" stroke="#cfd7d6" stroke-width="0.8"/>
<line x1="28.00" x2="424.40" y1="454.90" y2="454.90" stroke="#dbe2e1" stroke-width="0.8"/>
<line x1="28.00" x2="424.40" y1="451.30" y2="451.30" stroke="#cfd7d6" stroke-width="0.8"/>
<line x1="28.00" x2="424.40" y1="447.70" y2="447.70" stroke="#dbe2e1" stroke-width="0.8"/>
<line x1="28.00" x2="424.40" y1="444.10" y2="444.10" stroke="#cfd7d6" stroke-width="0.8"/>
<line x1="28.00" x2="424.40" y1="440.50" y2="440.50" stroke="#dbe2e1" stroke-width="0.8"/>
<line x1="28.00" x2="424.40" y1="436.90" y2="436.90" stroke="#cfd7d6" stroke-width="0.8"/>
<line x1="28.00" x2="424.40" y1="433.30" y2="433.30" stroke="#dbe2e1" stroke-width="0.8"/>
<line x1="28.00" x2="424.40" y1="429.70" y2="429.70" stroke="#cfd7d6" stroke-width="0.8"/>
<line x1="28.00" x2="424.40" y1="426.10" y2="426.10" stroke="#dbe2e1" stroke-width="0.8"/>
<line x1="28.00" x2="424.40" y1="422.50" y2="422.50" stroke="#cfd7d6" stroke-width="0.8"/>
<line x1="28.00" x2="424.40" y1="418.90" y2="418.90" stroke="#dbe2e1" stroke-width="0.8"/>
<line x1="28.00" x2="424.40" y1="415.30" y2="415.30" stroke="#cfd7d6" stroke-width="0.8"/>
<line x1="28.00" x2="424.40" y1="411.70" y2="411.70" stroke="#dbe2e1" stroke-width="0.8"/>
<line x1="28.00" x2="424.40" y1="408.10" y2="408.10" stroke="#cfd7d6" stroke-width="0.8"/>
<line x1="28.00" x2="424.40" y1="404.50" y2="404.50" stroke="#dbe2e1" stroke-width="0.8"/>
<line x1="28.00" x2="424.40" y1="400.90" y2="400.90" stroke="#cfd7d6" stroke-width="0.8"/>
<line x1="28.00" x2="424.40" y1="397.30" y2="397.30" stroke="#dbe2e1" stroke-width="0.8"/>
<line x1="28.00" x2="424.40" y1="393.70" y2="393.70" stroke="#cfd7d6" stroke-width="0.8"/>
<line x1="28.00" x2="424.40" y1="390.10" y2="390.10" stroke="#dbe2e1" stroke-width="0.8"/>
<line x1="28.00" x2="424.40" y1="386.50" y2="386.50" stroke="#cfd7d6" stroke-width="0.8"/>
<line x1="28.00" x2="424.40" y1="382.90" y2="382.90" stroke="#dbe2e1" stroke-width="0.8"/>
<line x1="28.00" x2="424.40" y1="379.30" y2="379.30" stroke="#cfd7d6" stroke-width="0.8"/>
<line x1="28.00" x2="424.40" y1="375.70" y2="375.70" stroke="#dbe2e1" stroke-width="0.8"/>
<line x1="28.00" x2="424.40" y1="372.10" y2="372.10" stroke="#cfd7d6" stroke-width="0.8"/>
<line x1="28" x2="28" y1="370" y2="482.5" stroke="#9c9c9c" stroke-width="0.8"/>
<line x1="28" x2="424.4" y1="482.4" y2="482.4" stroke="#9a9a9a" stroke-width="0.8"/>
<line x1="26.8" x2="28" y1="480.10" y2="480.10" stroke="#777" stroke-width="0.6"/>
<text x="26.30" y="481.60" font-size="4.10" text-anchor="end" font-family="Liberation Sans, sans-serif" font-weight="normal" fill="#1a1a1a" stroke="#1a1a1a" stroke-width="0.18">-4</text>
<line x1="26.8" x2="28" y1="472.90" y2="472.90" stroke="#777" stroke-width="0.6"/>
<text x="26.30" y="474.40" font-size="4.10" text-anchor="end" font-family="Liberation Sans, sans-serif" font-weight="normal" fill="#1a1a1a" stroke="#1a1a1a" stroke-width="0.18">-3</text>
<line x1="26.8" x2="28" y1="465.70" y2="465.70" stroke="#777" stroke-width="0.6"/>
<text x="26.30" y="467.20" font-size="4.10" text-anchor="end" font-family="Liberation Sans, sans-serif" font-weight="normal" fill="#1a1a1a" stroke="#1a1a1a" stroke-width="0.18">-2</text>
<line x1="26.8" x2="28" y1="458.50" y2="458.50" stroke="#777" stroke-width="0.6"/>
<text x="26.30" y="460.00" font-size="4.10" text-anchor="end" font-family="Liberation Sans, sans-serif" font-weight="normal" fill="#1a1a1a" stroke="#1a1a1a" stroke-width="0.18">-1</text>
<line x1="26.8" x2="28" y1="451.30" y2="451.30" stroke="#777" stroke-width="0.6"/>
<text x="26.30" y="452.80" font-size="4.10" text-anchor="end" font-family="Liberation Sans, sans-serif" font-weight="normal" fill="#1a1a1a" stroke="#1a1a1a" stroke-width="0.18">0</text>
<line x1="26.8" x2="28" y1="444.10" y2="444.10" stroke="#777" stroke-width="0.6"/>
<text x="26.30" y="445.60" font-size="4.10" text-anchor="end" font-family="Liberation Sans, sans-serif" font-weight="normal" fill="#1a1a1a" stroke="#1a1a1a" stroke-width="0.18">1</text>
<line x1="26.8" x2="28" y1="436.90" y2="436.90" stroke="#777" stroke-width="0.6"/>
<text x="26.30" y="438.40" font-size="4.10" text-anchor="end" font-family="Liberation Sans, sans-serif" font-weight="normal" fill="#1a1a1a" stroke="#1a1a1a" stroke-width="0.18">2</text>
<line x1="26.8" x2="28" y1="429.70" y2="429.70" stroke="#777" stroke-width="0.6"/>
<text x="26.30" y="431.20" font-size="4.10" text-anchor="end" font-family="Liberation Sans, sans-serif" font-weight="normal" fill="#1a1a1a" stroke="#1a1a1a" stroke-width="0.18">3</text>
<line x1="26.8" x2="28" y1="422.50" y2="422.50" stroke="#777" stroke-width="0.6"/>
<text x="26.30" y="424.00" font-size="4.10" text-anchor="end" font-family="Liberation Sans, sans-serif" font-weight="normal" fill="#1a1a1a" stroke="#1a1a1a" stroke-width="0.18">4</text>
<line x1="26.8" x2="28" y1="415.30" y2="415.30" stroke="#777" stroke-width="0.6"/>
<text x="26.30" y="416.80" font-size="4.10" text-anchor="end" font-family="Liberation Sans, sans-serif" font-weight="normal" fill="#1a1a1a" stroke="#1a1a1a" stroke-width="0.18">5</text>
<line x1="26.8" x2="28" y1="408.10" y2="408.10" stroke="#777" stroke-width="0.6"/>
<text x="26.30" y="409.60" font-size="4.10" text-anchor="end" font-family="Liberation Sans, sans-serif" font-weight="normal" fill="#1a1a1a" stroke="#1a1a1a" stroke-width="0.18">6</text>
<line x1="26.8" x2="28" y1="400.90" y2="400.90" stroke="#777" stroke-width="0.6"/>
<text x="26.30" y="402.40" font-size="4.10" text-anchor="end" font-family="Liberation Sans, sans-serif" font-weight="normal" fill="#1a1a1a" stroke="#1a1a1a" stroke-width="0.18">7</text>
<line x1="26.8" x2="28" y1="393.70" y2="393.70" stroke="#777" stroke-width="0.6"/>
<text x="26.30" y="395.20" font-size="4.10" text-anchor="end" font-family="Liberation Sans, sans-serif" font-weight="normal" fill="#1a1a1a" stroke="#1a1a1a" stroke-width="0.18">8</text>
<line x1="26.8" x2="28" y1="386.50" y2="386.50" stroke="#777" stroke-width="0.6"/>
<text x="26.30" y="388.00" font-size="4.10" text-anchor="end" font-family="Liberation Sans, sans-serif" font-weight="normal" fill="#1a1a1a" stroke="#1a1a1a" stroke-width="0.18">9</text>
<line x1="26.8" x2="28" y1="379.30" y2="379.30" stroke="#777" stroke-width="0.6"/>
<text x="26.30" y="380.80" font-size="4.10" text-anchor="end" font-family="Liberation Sans, sans-serif" font-weight="normal" fill="#1a1a1a" stroke="#1a1a1a" stroke-width="0.18">10</text>
<line x1="26.8" x2="28" y1="372.10" y2="372.10" stroke="#777" stroke-width="0.6"/>
<text x="26.30" y="373.60" font-size="4.10" text-anchor="end" font-family="Liberation Sans, sans-serif" font-weight="normal" fill="#1a1a1a" stroke="#1a1a1a" stroke-width="0.18">11</text>
<text x="29.10" y="488.50" font-size="3.90" text-anchor="middle" font-family="Liberation Sans, sans-serif" font-weight="normal" fill="#1a1a1a" stroke="#1a1a1a" stroke-width="0.12">0</text>
<line x1="29.10" x2="29.10" y1="482.4" y2="483.6" stroke="#888" stroke-width="0.6"/>
<text x="55.47" y="488.50" font-size="3.90" text-anchor="middle" font-family="Liberation Sans, sans-serif" font-weight="normal" fill="#1a1a1a" stroke="#1a1a1a" stroke-width="0.12">1,000</text>
<line x1="55.47" x2="55.47" y1="482.4" y2="483.6" stroke="#888" stroke-width="0.6"/>
<text x="81.84" y="488.50" font-size="3.90" text-anchor="middle" font-family="Liberation Sans, sans-serif" font-weight="normal" fill="#1a1a1a" stroke="#1a1a1a" stroke-width="0.12">2,000</text>
<line x1="81.84" x2="81.84" y1="482.4" y2="483.6" stroke="#888" stroke-width="0.6"/>
<text x="108.21" y="488.50" font-size="3.90" text-anchor="middle" font-family="Liberation Sans, sans-serif" font-weight="normal" fill="#1a1a1a" stroke="#1a1a1a" stroke-width="0.12">3,000</text>
<line x1="108.21" x2="108.21" y1="482.4" y2="483.6" stroke="#888" stroke-width="0.6"/>
<text x="134.58" y="488.50" font-size="3.90" text-anchor="middle" font-family="Liberation Sans, sans-serif" font-weight="normal" fill="#1a1a1a" stroke="#1a1a1a" stroke-width="0.12">4,000</text>
<line x1="134.58" x2="134.58" y1="482.4" y2="483.6" stroke="#888" stroke-width="0.6"/>
<text x="160.95" y="488.50" font-size="3.90" text-anchor="middle" font-family="Liberation Sans, sans-serif" font-weight="normal" fill="#1a1a1a" stroke="#1a1a1a" stroke-width="0.12">5,000</text>
<line x1="160.95" x2="160.95" y1="482.4" y2="483.6" stroke="#888" stroke-width="0.6"/>
<text x="187.32" y="488.50" font-size="3.90" text-anchor="middle" font-family="Liberation Sans, sans-serif" font-weight="normal" fill="#1a1a1a" stroke="#1a1a1a" stroke-width="0.12">6,000</text>
<line x1="187.32" x2="187.32" y1="482.4" y2="483.6" stroke="#888" stroke-width="0.6"/>
<text x="213.69" y="488.50" font-size="3.90" text-anchor="middle" font-family="Liberation Sans, sans-serif" font-weight="normal" fill="#1a1a1a" stroke="#1a1a1a" stroke-width="0.12">7,000</text>
<line x1="213.69" x2="213.69" y1="482.4" y2="483.6" stroke="#888" stroke-width="0.6"/>
<text x="240.06" y="488.50" font-size="3.90" text-anchor="middle" font-family="Liberation Sans, sans-serif" font-weight="normal" fill="#1a1a1a" stroke="#1a1a1a" stroke-width="0.12">8,000</text>
<line x1="240.06" x2="240.06" y1="482.4" y2="483.6" stroke="#888" stroke-width="0.6"/>
<text x="266.43" y="488.50" font-size="3.90" text-anchor="middle" font-family="Liberation Sans, sans-serif" font-weight="normal" fill="#1a1a1a" stroke="#1a1a1a" stroke-width="0.12">9,000</text>
<line x1="266.43" x2="266.43" y1="482.4" y2="483.6" stroke="#888" stroke-width="0.6"/>
<text x="292.80" y="488.50" font-size="3.90" text-anchor="middle" font-family="Liberation Sans, sans-serif" font-weight="normal" fill="#1a1a1a" stroke="#1a1a1a" stroke-width="0.12">10,000</text>
<line x1="292.80" x2="292.80" y1="482.4" y2="483.6" stroke="#888" stroke-width="0.6"/>
<text x="319.17" y="488.50" font-size="3.90" text-anchor="middle" font-family="Liberation Sans, sans-serif" font-weight="normal" fill="#1a1a1a" stroke="#1a1a1a" stroke-width="0.12">11,000</text>
<line x1="319.17" x2="319.17" y1="482.4" y2="483.6" stroke="#888" stroke-width="0.6"/>
<text x="345.54" y="488.50" font-size="3.90" text-anchor="middle" font-family="Liberation Sans, sans-serif" font-weight="normal" fill="#1a1a1a" stroke="#1a1a1a" stroke-width="0.12">12,000</text>
<line x1="345.54" x2="345.54" y1="482.4" y2="483.6" stroke="#888" stroke-width="0.6"/>
<text x="371.91" y="488.50" font-size="3.90" text-anchor="middle" font-family="Liberation Sans, sans-serif" font-weight="normal" fill="#1a1a1a" stroke="#1a1a1a" stroke-width="0.12">13,000</text>
<line x1="371.91" x2="371.91" y1="482.4" y2="483.6" stroke="#888" stroke-width="0.6"/>
<text x="398.28" y="488.50" font-size="3.90" text-anchor="middle" font-family="Liberation Sans, sans-serif" font-weight="normal" fill="#1a1a1a" stroke="#1a1a1a" stroke-width="0.12">14,000</text>
<line x1="398.28" x2="398.28" y1="482.4" y2="483.6" stroke="#888" stroke-width="0.6"/>
<text x="0" y="0" font-size="4.15" text-anchor="middle" font-family="Liberation Sans, sans-serif" font-weight="bold" fill="#333" transform="translate(19.2,426.5) rotate(-90)">Elevation (m)</text>
<path d="M28.00 413.56 L28.72 414.23 L29.44 413.15 L30.16 413.64 L30.88 413.76 L31.61 413.66 L32.33 413.80 L33.05 413.50 L33.77 413.81 L34.49 412.83 L35.21 413.36 L35.93 413.50 L36.65 413.98 L37.37 413.63 L38.09 413.60 L38.82 414.03 L39.54 414.07 L40.26 413.44 L40.98 413.48 L41.70 413.87 L42.41 414.08 L43.12 414.23 L43.84 414.24 L44.55 413.89 L45.26 414.18 L45.98 413.73 L46.69 414.29 L47.40 413.95 L48.11 413.92 L48.83 414.18 L49.54 414.45 L50.25 414.10 L50.96 414.44 L51.67 414.69 L52.39 414.12 L53.10 414.63 L54.30 414.71 L54.60 435.19 L56.00 434.84 L56.30 416.12 L57.50 415.77 L57.80 434.96 L58.80 434.95 L59.00 414.00 L60.00 413.26 L60.75 413.17 L61.50 412.95 L62.25 412.42 L63.00 411.55 L63.75 411.59 L64.50 411.20 L65.21 410.84 L65.92 410.98 L66.62 410.53 L67.33 410.73 L68.04 411.09 L68.75 409.72 L69.45 409.97 L70.16 409.86 L70.87 409.27 L71.58 409.68 L72.28 409.49 L72.99 408.96 L73.70 409.11 L74.41 408.30 L75.12 408.52 L75.84 407.93 L76.55 407.70 L77.26 407.46 L77.97 407.32 L78.69 407.04 L79.40 407.20 L80.11 406.98 L80.83 406.76 L81.54 406.45 L82.25 406.33 L82.96 405.92 L83.67 405.51 L84.39 405.62 L85.10 405.05 L85.80 405.38 L86.50 404.73 L87.20 404.30 L87.90 404.58 L88.60 403.88 L89.30 403.53 L90.00 403.58 L90.70 403.31 L91.40 403.39 L92.10 402.46 L92.80 402.64 L93.50 401.65 L94.20 402.35 L94.97 401.46 L95.73 400.57 L96.50 400.16 L97.27 399.86 L98.03 398.86 L98.80 398.79 L99.56 398.27 L100.31 398.98 L101.07 398.11 L101.82 398.25 L102.58 397.96 L103.33 397.95 L104.09 397.59 L104.84 397.71 L105.60 397.44 L106.37 398.10 L107.13 398.30 L107.90 398.39 L108.67 398.80 L109.43 399.37 L110.20 399.97 L110.96 399.42 L111.72 399.38 L112.47 399.07 L113.23 398.74 L113.99 398.49 L114.75 398.54 L115.51 398.44 L116.27 398.38 L117.03 398.10 L117.78 396.98 L118.54 397.84 L119.30 397.47 L120.07 396.75 L120.83 396.10 L121.60 395.43 L122.37 394.67 L123.13 393.41 L123.90 392.82 L124.95 392.87 L126.00 393.62 L127.00 394.18 L128.00 394.93 L129.00 393.96 L130.00 393.26 L130.80 392.33 L131.60 392.12 L132.40 391.93 L133.20 391.33 L134.00 390.43 L134.80 390.85 L135.57 391.25 L136.33 391.09 L137.10 391.38 L137.87 391.21 L138.63 391.20 L139.40 391.64 L140.17 391.23 L140.93 391.67 L141.70 391.62 L142.40 391.43 L143.10 392.42 L143.80 390.89 L144.50 391.02 L145.20 390.90 L145.90 389.91 L146.60 390.73 L147.30 390.46 L148.00 389.98 L148.70 389.98 L149.40 389.52 L150.10 389.71 L150.80 389.38 L151.57 389.39 L152.33 389.81 L153.10 390.06 L153.87 390.31 L154.63 390.88 L155.40 391.56 L156.12 390.62 L156.84 390.58 L157.56 390.06 L158.28 390.35 L159.01 390.24 L159.73 389.79 L160.45 389.21 L161.17 390.12 L161.89 388.91 L162.61 388.79 L163.33 388.72 L164.05 388.31 L164.77 388.42 L165.49 388.46 L166.22 387.73 L166.94 387.62 L167.66 387.79 L168.38 387.36 L169.10 386.93 L169.80 386.95 L170.51 387.07 L171.21 386.47 L171.92 386.88 L172.62 386.48 L173.33 386.12 L174.03 386.46 L174.74 386.17 L175.44 385.95 L176.15 385.90 L176.85 385.82 L177.56 386.08 L178.26 386.03 L178.97 385.54 L179.67 385.71 L180.38 385.47 L181.08 385.27 L181.79 385.42 L182.49 385.34 L183.20 384.80 L183.90 385.10 L184.67 383.53 L185.43 381.88 L186.20 380.53 L186.94 380.40 L187.67 380.48 L188.41 380.17 L189.14 380.49 L189.88 380.54 L190.61 380.22 L191.35 380.58 L192.09 380.25 L192.82 379.98 L193.56 380.53 L194.29 380.28 L195.03 379.96 L195.76 380.13 L196.50 380.20 L197.22 380.52 L197.94 380.57 L198.66 380.09 L199.38 379.72 L200.11 379.63 L200.83 379.60 L201.55 379.84 L202.27 379.60 L202.99 379.83 L203.71 379.38 L204.43 379.33 L205.15 379.96 L205.87 379.32 L206.59 379.64 L207.32 379.02 L208.04 379.54 L208.76 379.30 L209.48 379.39 L210.20 379.00 L210.91 379.04 L211.62 379.15 L212.34 378.91 L213.05 379.14 L213.76 378.92 L214.47 378.91 L215.18 378.51 L215.90 378.58 L216.61 378.79 L217.32 378.47 L218.03 378.88 L218.74 378.45 L219.46 378.55 L220.17 378.73 L220.88 378.87 L221.59 378.50 L222.30 378.24 L223.02 378.33 L223.73 378.17 L224.44 378.44 L225.15 378.30 L225.86 378.46 L226.58 378.40 L227.29 377.92 L228.00 377.91 L228.71 378.23 L229.43 378.41 L230.14 378.41 L230.85 378.44 L231.56 378.28 L232.28 378.17 L232.99 378.45 L233.70 377.90 L234.41 378.33 L235.12 378.48 L235.84 377.89 L236.55 378.12 L237.26 378.32 L237.97 378.44 L238.69 377.95 L239.40 377.91 L240.11 377.94 L240.83 378.07 L241.54 378.31 L242.25 378.37 L242.96 377.74 L243.68 378.23 L244.39 378.38 L245.10 378.18 L245.81 377.76 L246.53 378.21 L247.24 377.81 L247.95 378.30 L248.66 377.75 L249.38 377.82 L250.09 377.95 L250.80 378.26 L251.52 377.98 L252.23 377.89 L252.95 378.14 L253.66 378.14 L254.38 378.29 L255.09 378.23 L255.81 378.23 L256.52 377.85 L257.24 378.53 L257.96 378.14 L258.67 377.53 L259.39 379.04 L260.10 378.17 L260.82 378.43 L261.53 378.08 L262.25 378.39 L262.97 378.37 L263.68 378.40 L264.40 378.41 L265.11 378.31 L265.83 378.57 L266.54 378.32 L267.26 378.01 L267.98 378.60 L268.69 378.50 L269.41 378.47 L270.12 378.40 L270.84 378.02 L271.55 378.38 L272.27 378.24 L272.98 378.56 L273.70 378.10 L274.42 378.53 L275.15 378.65 L275.87 378.40 L276.59 378.28 L277.31 378.66 L278.04 378.71 L278.76 378.95 L279.48 378.95 L280.20 378.49 L280.93 378.80 L281.65 378.89 L282.37 378.91 L283.10 379.14 L283.82 378.80 L284.54 379.22 L285.26 378.69 L285.99 378.93 L286.71 378.79 L287.43 378.67 L288.15 378.97 L288.88 378.90 L289.60 379.63 L290.34 379.09 L291.09 379.58 L291.83 379.39 L292.57 379.38 L293.31 379.76 L294.06 379.90 L294.80 379.39 L295.53 379.84 L296.27 379.68 L297.00 379.60 L297.73 379.78 L298.47 380.06 L299.20 380.11 L299.93 379.89 L300.67 379.76 L301.40 380.14 L302.20 377.84 L303.00 375.44 L303.80 372.58 L304.65 373.36 L305.50 374.56 L306.30 373.36 L307.10 373.44 L307.90 373.74 L308.70 374.75 L309.55 373.32 L310.40 372.66 L311.20 374.73 L312.00 376.79 L312.80 379.95 L313.80 380.12 L314.80 380.16 L315.56 380.61 L316.32 380.48 L317.07 380.50 L317.83 381.06 L318.59 380.62 L319.35 380.81 L320.11 381.17 L320.87 380.94 L321.62 381.33 L322.38 381.15 L323.14 381.13 L323.90 381.46 L324.61 381.40 L325.32 380.93 L326.04 381.11 L326.75 381.13 L327.46 381.11 L328.17 381.03 L328.89 380.61 L329.60 381.10 L330.31 380.95 L331.02 380.60 L331.74 380.56 L332.45 380.71 L333.16 380.44 L333.88 380.11 L334.59 380.30 L335.30 380.46 L336.01 379.91 L336.73 380.10 L337.44 379.99 L338.15 379.71 L338.86 379.51 L339.57 379.82 L340.29 379.75 L341.00 379.47 L341.74 379.67 L342.47 379.88 L343.21 379.98 L343.94 380.35 L344.68 380.77 L345.41 380.52 L346.15 380.98 L346.88 380.92 L347.62 381.26 L348.35 381.40 L349.09 381.83 L349.82 381.98 L350.56 381.70 L351.29 382.30 L352.03 382.57 L352.76 382.91 L353.50 382.93 L354.20 384.03 L354.90 385.20 L355.60 385.86 L356.30 387.45 L357.00 388.22 L357.71 389.35 L358.43 390.25 L359.14 391.07 L359.85 392.56 L360.56 393.58 L361.27 394.35 L361.99 394.95 L362.70 396.53 L363.47 398.52 L364.23 400.41 L365.00 401.91 L365.73 399.56 L366.47 396.52 L367.20 393.78 L367.93 393.78 L368.65 393.87 L369.38 394.26 L370.11 393.76 L370.84 393.67 L371.56 393.67 L372.29 394.08 L373.02 393.80 L373.75 394.33 L374.47 394.30 L375.20 393.91 L375.91 393.80 L376.62 393.48 L377.34 393.53 L378.05 393.77 L378.76 392.93 L379.48 393.40 L380.19 393.01 L380.90 393.09 L381.61 392.78 L382.32 392.89 L383.04 392.31 L383.75 392.44 L384.46 392.25 L385.18 392.14 L385.89 391.66 L386.60 391.74 L387.37 391.93 L388.13 392.37 L388.90 393.17 L389.67 393.25 L390.43 393.62 L391.20 393.98 L391.97 394.24 L392.73 394.52 L393.50 394.78 L394.21 395.15 L394.93 395.28 L395.64 395.19 L396.35 395.31 L397.06 394.83 L397.77 394.94 L398.49 395.01 L399.20 394.77 L399.91 394.83 L400.62 395.22 L401.34 395.05 L402.05 395.30 L402.76 394.97 L403.47 394.44 L404.19 395.18 L404.90 394.82 L405.67 395.94 L406.43 395.28 L407.20 396.60 L407.97 397.06 L408.73 397.73 L409.50 398.44 L410.26 398.54 L411.01 398.21 L411.77 398.22 L412.52 398.31 L413.28 397.95 L414.03 397.75 L414.79 397.76 L415.54 397.87 L416.30 397.40 L417.05 398.19 L417.80 398.40 L418.55 399.05 L419.30 399.63 L420.05 400.24 L420.80 400.54 L421.55 401.54 L422.30 401.73 L423.05 402.65 L423.80 403.16 M98.80 398.00 L98.80 402.00 M141.70 391.70 L141.70 396.00 M291.50 379.00 L291.50 385.50 M298.10 380.00 L298.10 397.70 M312.80 380.00 L312.80 397.70 M325.90 380.00 L325.90 397.70 M340.60 380.00 L340.60 397.70 M354.50 382.00 L354.50 393.00" fill="none" stroke="#a9bed6" stroke-width="2.60" stroke-linejoin="round" stroke-opacity="0.70"/>
<path d="M28.00 413.56 L28.72 414.23 L29.44 413.15 L30.16 413.64 L30.88 413.76 L31.61 413.66 L32.33 413.80 L33.05 413.50 L33.77 413.81 L34.49 412.83 L35.21 413.36 L35.93 413.50 L36.65 413.98 L37.37 413.63 L38.09 413.60 L38.82 414.03 L39.54 414.07 L40.26 413.44 L40.98 413.48 L41.70 413.87 L42.41 414.08 L43.12 414.23 L43.84 414.24 L44.55 413.89 L45.26 414.18 L45.98 413.73 L46.69 414.29 L47.40 413.95 L48.11 413.92 L48.83 414.18 L49.54 414.45 L50.25 414.10 L50.96 414.44 L51.67 414.69 L52.39 414.12 L53.10 414.63 L54.30 414.71 L54.60 435.19 L56.00 434.84 L56.30 416.12 L57.50 415.77 L57.80 434.96 L58.80 434.95 L59.00 414.00 L60.00 413.26 L60.75 413.17 L61.50 412.95 L62.25 412.42 L63.00 411.55 L63.75 411.59 L64.50 411.20 L65.21 410.84 L65.92 410.98 L66.62 410.53 L67.33 410.73 L68.04 411.09 L68.75 409.72 L69.45 409.97 L70.16 409.86 L70.87 409.27 L71.58 409.68 L72.28 409.49 L72.99 408.96 L73.70 409.11 L74.41 408.30 L75.12 408.52 L75.84 407.93 L76.55 407.70 L77.26 407.46 L77.97 407.32 L78.69 407.04 L79.40 407.20 L80.11 406.98 L80.83 406.76 L81.54 406.45 L82.25 406.33 L82.96 405.92 L83.67 405.51 L84.39 405.62 L85.10 405.05 L85.80 405.38 L86.50 404.73 L87.20 404.30 L87.90 404.58 L88.60 403.88 L89.30 403.53 L90.00 403.58 L90.70 403.31 L91.40 403.39 L92.10 402.46 L92.80 402.64 L93.50 401.65 L94.20 402.35 L94.97 401.46 L95.73 400.57 L96.50 400.16 L97.27 399.86 L98.03 398.86 L98.80 398.79 L99.56 398.27 L100.31 398.98 L101.07 398.11 L101.82 398.25 L102.58 397.96 L103.33 397.95 L104.09 397.59 L104.84 397.71 L105.60 397.44 L106.37 398.10 L107.13 398.30 L107.90 398.39 L108.67 398.80 L109.43 399.37 L110.20 399.97 L110.96 399.42 L111.72 399.38 L112.47 399.07 L113.23 398.74 L113.99 398.49 L114.75 398.54 L115.51 398.44 L116.27 398.38 L117.03 398.10 L117.78 396.98 L118.54 397.84 L119.30 397.47 L120.07 396.75 L120.83 396.10 L121.60 395.43 L122.37 394.67 L123.13 393.41 L123.90 392.82 L124.95 392.87 L126.00 393.62 L127.00 394.18 L128.00 394.93 L129.00 393.96 L130.00 393.26 L130.80 392.33 L131.60 392.12 L132.40 391.93 L133.20 391.33 L134.00 390.43 L134.80 390.85 L135.57 391.25 L136.33 391.09 L137.10 391.38 L137.87 391.21 L138.63 391.20 L139.40 391.64 L140.17 391.23 L140.93 391.67 L141.70 391.62 L142.40 391.43 L143.10 392.42 L143.80 390.89 L144.50 391.02 L145.20 390.90 L145.90 389.91 L146.60 390.73 L147.30 390.46 L148.00 389.98 L148.70 389.98 L149.40 389.52 L150.10 389.71 L150.80 389.38 L151.57 389.39 L152.33 389.81 L153.10 390.06 L153.87 390.31 L154.63 390.88 L155.40 391.56 L156.12 390.62 L156.84 390.58 L157.56 390.06 L158.28 390.35 L159.01 390.24 L159.73 389.79 L160.45 389.21 L161.17 390.12 L161.89 388.91 L162.61 388.79 L163.33 388.72 L164.05 388.31 L164.77 388.42 L165.49 388.46 L166.22 387.73 L166.94 387.62 L167.66 387.79 L168.38 387.36 L169.10 386.93 L169.80 386.95 L170.51 387.07 L171.21 386.47 L171.92 386.88 L172.62 386.48 L173.33 386.12 L174.03 386.46 L174.74 386.17 L175.44 385.95 L176.15 385.90 L176.85 385.82 L177.56 386.08 L178.26 386.03 L178.97 385.54 L179.67 385.71 L180.38 385.47 L181.08 385.27 L181.79 385.42 L182.49 385.34 L183.20 384.80 L183.90 385.10 L184.67 383.53 L185.43 381.88 L186.20 380.53 L186.94 380.40 L187.67 380.48 L188.41 380.17 L189.14 380.49 L189.88 380.54 L190.61 380.22 L191.35 380.58 L192.09 380.25 L192.82 379.98 L193.56 380.53 L194.29 380.28 L195.03 379.96 L195.76 380.13 L196.50 380.20 L197.22 380.52 L197.94 380.57 L198.66 380.09 L199.38 379.72 L200.11 379.63 L200.83 379.60 L201.55 379.84 L202.27 379.60 L202.99 379.83 L203.71 379.38 L204.43 379.33 L205.15 379.96 L205.87 379.32 L206.59 379.64 L207.32 379.02 L208.04 379.54 L208.76 379.30 L209.48 379.39 L210.20 379.00 L210.91 379.04 L211.62 379.15 L212.34 378.91 L213.05 379.14 L213.76 378.92 L214.47 378.91 L215.18 378.51 L215.90 378.58 L216.61 378.79 L217.32 378.47 L218.03 378.88 L218.74 378.45 L219.46 378.55 L220.17 378.73 L220.88 378.87 L221.59 378.50 L222.30 378.24 L223.02 378.33 L223.73 378.17 L224.44 378.44 L225.15 378.30 L225.86 378.46 L226.58 378.40 L227.29 377.92 L228.00 377.91 L228.71 378.23 L229.43 378.41 L230.14 378.41 L230.85 378.44 L231.56 378.28 L232.28 378.17 L232.99 378.45 L233.70 377.90 L234.41 378.33 L235.12 378.48 L235.84 377.89 L236.55 378.12 L237.26 378.32 L237.97 378.44 L238.69 377.95 L239.40 377.91 L240.11 377.94 L240.83 378.07 L241.54 378.31 L242.25 378.37 L242.96 377.74 L243.68 378.23 L244.39 378.38 L245.10 378.18 L245.81 377.76 L246.53 378.21 L247.24 377.81 L247.95 378.30 L248.66 377.75 L249.38 377.82 L250.09 377.95 L250.80 378.26 L251.52 377.98 L252.23 377.89 L252.95 378.14 L253.66 378.14 L254.38 378.29 L255.09 378.23 L255.81 378.23 L256.52 377.85 L257.24 378.53 L257.96 378.14 L258.67 377.53 L259.39 379.04 L260.10 378.17 L260.82 378.43 L261.53 378.08 L262.25 378.39 L262.97 378.37 L263.68 378.40 L264.40 378.41 L265.11 378.31 L265.83 378.57 L266.54 378.32 L267.26 378.01 L267.98 378.60 L268.69 378.50 L269.41 378.47 L270.12 378.40 L270.84 378.02 L271.55 378.38 L272.27 378.24 L272.98 378.56 L273.70 378.10 L274.42 378.53 L275.15 378.65 L275.87 378.40 L276.59 378.28 L277.31 378.66 L278.04 378.71 L278.76 378.95 L279.48 378.95 L280.20 378.49 L280.93 378.80 L281.65 378.89 L282.37 378.91 L283.10 379.14 L283.82 378.80 L284.54 379.22 L285.26 378.69 L285.99 378.93 L286.71 378.79 L287.43 378.67 L288.15 378.97 L288.88 378.90 L289.60 379.63 L290.34 379.09 L291.09 379.58 L291.83 379.39 L292.57 379.38 L293.31 379.76 L294.06 379.90 L294.80 379.39 L295.53 379.84 L296.27 379.68 L297.00 379.60 L297.73 379.78 L298.47 380.06 L299.20 380.11 L299.93 379.89 L300.67 379.76 L301.40 380.14 L302.20 377.84 L303.00 375.44 L303.80 372.58 L304.65 373.36 L305.50 374.56 L306.30 373.36 L307.10 373.44 L307.90 373.74 L308.70 374.75 L309.55 373.32 L310.40 372.66 L311.20 374.73 L312.00 376.79 L312.80 379.95 L313.80 380.12 L314.80 380.16 L315.56 380.61 L316.32 380.48 L317.07 380.50 L317.83 381.06 L318.59 380.62 L319.35 380.81 L320.11 381.17 L320.87 380.94 L321.62 381.33 L322.38 381.15 L323.14 381.13 L323.90 381.46 L324.61 381.40 L325.32 380.93 L326.04 381.11 L326.75 381.13 L327.46 381.11 L328.17 381.03 L328.89 380.61 L329.60 381.10 L330.31 380.95 L331.02 380.60 L331.74 380.56 L332.45 380.71 L333.16 380.44 L333.88 380.11 L334.59 380.30 L335.30 380.46 L336.01 379.91 L336.73 380.10 L337.44 379.99 L338.15 379.71 L338.86 379.51 L339.57 379.82 L340.29 379.75 L341.00 379.47 L341.74 379.67 L342.47 379.88 L343.21 379.98 L343.94 380.35 L344.68 380.77 L345.41 380.52 L346.15 380.98 L346.88 380.92 L347.62 381.26 L348.35 381.40 L349.09 381.83 L349.82 381.98 L350.56 381.70 L351.29 382.30 L352.03 382.57 L352.76 382.91 L353.50 382.93 L354.20 384.03 L354.90 385.20 L355.60 385.86 L356.30 387.45 L357.00 388.22 L357.71 389.35 L358.43 390.25 L359.14 391.07 L359.85 392.56 L360.56 393.58 L361.27 394.35 L361.99 394.95 L362.70 396.53 L363.47 398.52 L364.23 400.41 L365.00 401.91 L365.73 399.56 L366.47 396.52 L367.20 393.78 L367.93 393.78 L368.65 393.87 L369.38 394.26 L370.11 393.76 L370.84 393.67 L371.56 393.67 L372.29 394.08 L373.02 393.80 L373.75 394.33 L374.47 394.30 L375.20 393.91 L375.91 393.80 L376.62 393.48 L377.34 393.53 L378.05 393.77 L378.76 392.93 L379.48 393.40 L380.19 393.01 L380.90 393.09 L381.61 392.78 L382.32 392.89 L383.04 392.31 L383.75 392.44 L384.46 392.25 L385.18 392.14 L385.89 391.66 L386.60 391.74 L387.37 391.93 L388.13 392.37 L388.90 393.17 L389.67 393.25 L390.43 393.62 L391.20 393.98 L391.97 394.24 L392.73 394.52 L393.50 394.78 L394.21 395.15 L394.93 395.28 L395.64 395.19 L396.35 395.31 L397.06 394.83 L397.77 394.94 L398.49 395.01 L399.20 394.77 L399.91 394.83 L400.62 395.22 L401.34 395.05 L402.05 395.30 L402.76 394.97 L403.47 394.44 L404.19 395.18 L404.90 394.82 L405.67 395.94 L406.43 395.28 L407.20 396.60 L407.97 397.06 L408.73 397.73 L409.50 398.44 L410.26 398.54 L411.01 398.21 L411.77 398.22 L412.52 398.31 L413.28 397.95 L414.03 397.75 L414.79 397.76 L415.54 397.87 L416.30 397.40 L417.05 398.19 L417.80 398.40 L418.55 399.05 L419.30 399.63 L420.05 400.24 L420.80 400.54 L421.55 401.54 L422.30 401.73 L423.05 402.65 L423.80 403.16 M98.80 398.00 L98.80 402.00 M141.70 391.70 L141.70 396.00 M291.50 379.00 L291.50 385.50 M298.10 380.00 L298.10 397.70 M312.80 380.00 L312.80 397.70 M325.90 380.00 L325.90 397.70 M340.60 380.00 L340.60 397.70 M354.50 382.00 L354.50 393.00" fill="none" stroke="#35628f" stroke-width="1.00" stroke-linejoin="round" stroke-opacity="1.00"/>
<path d="M28.00 456.62 L28.72 456.90 L29.44 457.07 L30.16 456.99 L30.88 457.24 L31.61 457.23 L32.33 457.28 L33.05 457.57 L33.77 457.71 L34.49 457.46 L35.21 457.90 L35.93 457.68 L36.65 457.89 L37.37 457.84 L38.09 458.14 L38.82 458.03 L39.54 458.49 L40.26 458.55 L40.98 458.57 L41.70 458.52 L42.41 458.67 L43.12 458.63 L43.84 458.97 L44.55 458.99 L45.26 458.96 L45.98 459.09 L46.69 459.42 L47.40 459.35 L48.11 459.43 L48.83 459.78 L49.54 459.90 L50.25 459.80 L50.96 460.06 L51.67 460.17 L52.39 460.01 L53.10 460.28 L53.83 460.10 L54.55 460.04 L55.28 460.40 L56.01 460.20 L56.74 460.27 L57.46 460.21 L58.19 460.10 L58.92 460.14 L59.65 460.10 L60.37 460.35 L61.10 460.37 L61.83 459.56 L62.55 459.30 L63.28 458.54 L64.01 457.65 L64.74 457.71 L65.46 457.07 L66.19 456.58 L66.92 455.89 L67.65 455.65 L68.37 455.13 L69.10 454.58 L69.83 455.36 L70.55 454.06 L71.28 453.97 L72.01 453.70 L72.74 453.55 L73.46 453.20 L74.19 453.16 L74.92 452.75 L75.65 452.49 L76.37 452.45 L77.10 452.25 L77.83 452.07 L78.55 451.82 L79.28 451.49 L80.01 451.48 L80.74 451.34 L81.46 450.95 L82.19 450.82 L82.92 450.70 L83.65 450.27 L84.37 449.93 L85.10 449.87 L85.81 449.51 L86.52 449.63 L87.24 449.36 L87.95 449.11 L88.66 448.74 L89.38 448.66 L90.09 448.42 L90.80 448.36 L91.51 447.92 L92.22 447.64 L92.94 447.72 L93.65 447.47 L94.36 447.13 L95.08 447.05 L95.79 446.67 L96.50 446.38 L97.21 446.43 L97.92 446.05 L98.64 446.05 L99.35 445.88 L100.06 445.97 L100.78 445.62 L101.49 445.38 L102.20 445.34 L102.91 445.05 L103.62 444.93 L104.34 444.86 L105.05 444.89 L105.76 444.58 L106.48 444.37 L107.19 444.47 L107.90 444.39 L108.61 443.93 L109.33 443.84 L110.04 443.51 L110.75 443.34 L111.46 443.16 L112.17 442.91 L112.89 442.58 L113.60 442.58 L114.31 442.29 L115.03 442.04 L115.74 441.89 L116.45 441.73 L117.16 441.40 L117.88 441.12 L118.59 441.16 L119.30 440.83 L120.02 439.99 L120.75 439.48 L121.47 438.96 L122.20 438.04 L122.92 437.59 L123.65 436.87 L124.38 436.22 L125.10 435.30 L125.83 434.81 L126.55 434.32 L127.28 433.36 L128.00 432.75 L128.76 432.63 L129.52 432.52 L130.28 432.38 L131.03 432.35 L131.79 432.42 L132.55 432.06 L133.31 432.27 L134.07 431.93 L134.82 431.71 L135.58 431.88 L136.34 431.88 L137.10 431.73 L137.82 431.36 L138.54 431.04 L139.26 430.90 L139.98 430.86 L140.71 430.76 L141.43 430.42 L142.15 430.46 L142.87 429.98 L143.59 430.17 L144.31 429.73 L145.03 429.79 L145.75 429.41 L146.47 429.08 L147.19 429.04 L147.92 428.77 L148.64 428.88 L149.36 428.38 L150.08 428.21 L150.80 428.23 L151.57 428.68 L152.33 429.27 L153.10 429.74 L153.87 430.27 L154.63 430.92 L155.40 431.48 L156.10 431.40 L156.81 431.50 L157.51 431.48 L158.22 431.20 L158.92 431.00 L159.62 431.17 L160.33 430.97 L161.03 430.81 L161.73 430.75 L162.44 430.49 L163.14 430.26 L163.85 430.52 L164.55 430.21 L165.25 429.96 L165.96 429.92 L166.66 429.91 L167.37 429.88 L168.07 429.73 L168.77 429.74 L169.48 429.60 L170.18 429.38 L170.88 429.13 L171.59 429.05 L172.29 429.01 L173.00 429.18 L173.70 428.99 L174.42 428.83 L175.14 428.54 L175.86 428.50 L176.58 428.48 L177.31 428.32 L178.03 428.50 L178.75 428.21 L179.47 428.24 L180.19 428.14 L180.91 428.08 L181.63 428.02 L182.35 427.57 L183.07 427.83 L183.79 427.49 L184.52 427.51 L185.24 427.46 L185.96 427.15 L186.68 427.28 L187.40 427.07 L188.16 427.05 L188.92 427.11 L189.68 426.94 L190.43 427.09 L191.19 427.58 L191.95 426.96 L192.71 426.95 L193.47 427.30 L194.22 427.05 L194.98 427.18 L195.74 427.26 L196.50 427.29 L197.22 427.35 L197.94 427.30 L198.66 427.38 L199.38 427.50 L200.11 427.59 L200.83 427.52 L201.55 427.80 L202.27 427.79 L202.99 428.08 L203.71 428.00 L204.43 428.20 L205.15 428.04 L205.87 428.30 L206.59 428.38 L207.32 428.66 L208.04 428.80 L208.76 428.58 L209.48 428.69 L210.20 428.76 L210.91 428.87 L211.62 428.85 L212.34 429.06 L213.05 429.00 L213.76 429.16 L214.47 429.13 L215.18 429.35 L215.90 429.41 L216.61 429.51 L217.32 429.59 L218.03 429.52 L218.74 429.54 L219.46 429.58 L220.17 429.65 L220.88 429.98 L221.59 429.96 L222.30 430.12 L223.02 429.88 L223.73 429.97 L224.44 430.05 L225.15 430.31 L225.86 430.24 L226.58 430.35 L227.29 430.46 L228.00 430.61 L228.70 430.72 L229.41 430.68 L230.11 430.48 L230.82 430.75 L231.52 430.86 L232.22 430.69 L232.93 430.86 L233.63 430.84 L234.33 430.84 L235.04 430.98 L235.74 430.79 L236.45 431.09 L237.15 431.10 L237.85 431.25 L238.56 430.24 L239.26 431.26 L239.97 431.17 L240.67 431.24 L241.37 431.41 L242.08 431.23 L242.78 431.49 L243.48 431.59 L244.19 431.35 L244.89 431.37 L245.60 431.37 L246.30 431.00 L247.05 432.38 L247.80 432.73 L248.55 433.51 L249.30 434.02 L250.05 434.52 L250.80 435.14 L251.52 434.90 L252.23 435.06 L252.95 435.02 L253.66 434.77 L254.38 434.93 L255.09 434.81 L255.81 434.76 L256.52 434.59 L257.24 434.61 L257.96 434.52 L258.67 434.33 L259.39 434.24 L260.10 434.34 L260.82 434.02 L261.53 434.16 L262.25 434.06 L262.97 433.81 L263.68 433.66 L264.40 433.64 L265.11 433.49 L265.83 433.49 L266.54 433.45 L267.26 433.26 L267.98 433.43 L268.69 433.40 L269.41 433.33 L270.12 433.04 L270.84 433.15 L271.55 432.84 L272.27 432.77 L272.98 432.69 L273.70 432.90 L274.42 433.10 L275.15 433.13 L275.87 433.17 L276.59 433.07 L277.31 433.49 L278.04 433.30 L278.76 433.43 L279.48 433.56 L280.20 434.33 L280.93 433.96 L281.65 433.76 L282.37 434.18 L283.10 434.04 L283.82 435.28 L284.54 434.45 L285.26 434.63 L285.99 434.06 L286.71 434.19 L287.43 434.61 L288.15 434.75 L288.88 434.98 L289.60 435.27 L290.37 434.39 L291.13 434.05 L291.90 433.53 L292.67 432.82 L293.43 432.27 L294.20 431.57 L294.90 431.45 L295.60 430.92 L296.30 430.88 L297.00 430.58 L297.70 430.11 L298.40 429.74 L299.10 429.70 L299.80 429.50 L300.50 429.08 L301.20 428.72 L301.90 428.51 L302.60 428.12 L303.30 428.13 L304.02 428.40 L304.74 428.61 L305.46 428.79 L306.18 428.86 L306.89 429.08 L307.61 429.46 L308.33 429.78 L309.05 429.91 L309.77 430.38 L310.49 430.54 L311.21 430.58 L311.93 429.93 L312.64 431.37 L313.36 431.65 L314.08 431.56 L314.80 431.95 L315.53 431.87 L316.26 431.50 L316.99 431.20 L317.71 430.75 L318.44 430.94 L319.17 430.71 L319.90 430.41 L320.63 430.25 L321.36 429.93 L322.09 429.98 L322.81 429.58 L323.54 429.54 L324.27 429.13 L325.00 428.98 L325.75 428.96 L326.50 428.84 L327.25 428.69 L328.00 428.54 L328.75 428.42 L329.50 428.52 L330.25 428.40 L331.00 428.22 L331.75 428.22 L332.50 428.26 L333.25 428.28 L334.00 427.97 L334.72 427.85 L335.43 427.76 L336.15 427.56 L336.86 427.48 L337.58 427.34 L338.29 427.42 L339.01 427.27 L339.72 426.95 L340.44 427.09 L341.15 426.88 L341.87 426.60 L342.58 426.26 L343.30 426.46 L344.01 426.68 L344.73 426.88 L345.44 426.72 L346.15 426.86 L346.86 427.22 L347.57 427.13 L348.29 427.41 L349.00 427.46 L349.71 427.36 L350.43 427.58 L351.14 427.70 L351.85 427.67 L352.56 427.89 L353.27 427.97 L353.99 427.96 L354.70 428.29 L355.45 429.61 L356.20 430.87 L356.95 432.37 L357.70 433.52 L358.45 434.82 L359.20 436.16 L359.93 437.90 L360.65 439.81 L361.38 441.67 L362.10 443.66 L362.82 445.59 L363.55 447.44 L364.27 449.27 L365.00 450.90 L365.85 449.93 L366.70 448.76 L367.55 447.81 L368.40 446.69 L369.13 446.26 L369.85 446.32 L370.58 446.00 L371.31 446.04 L372.04 445.57 L372.76 445.47 L373.49 445.34 L374.22 445.04 L374.95 445.07 L375.67 444.90 L376.40 444.81 L377.13 444.73 L377.85 444.24 L378.58 444.30 L379.31 444.05 L380.04 444.06 L380.76 443.78 L381.49 443.66 L382.22 443.56 L382.95 443.15 L383.67 443.09 L384.40 442.94 L385.10 443.15 L385.80 443.34 L386.50 443.34 L387.20 443.66 L387.90 443.68 L388.60 444.22 L389.30 444.43 L390.00 444.60 L390.70 444.55 L391.40 444.63 L392.10 445.01 L392.80 444.99 L393.50 445.47 L394.21 445.72 L394.93 445.62 L395.64 446.04 L396.35 446.06 L397.06 446.25 L397.77 446.50 L398.49 446.73 L399.20 446.95 L399.91 447.24 L400.62 447.31 L401.34 447.51 L402.05 447.74 L402.76 448.30 L403.47 448.28 L404.19 448.55 L404.90 448.62 L405.61 448.79 L406.32 449.01 L407.04 449.26 L407.75 449.35 L408.46 449.49 L409.18 449.74 L409.89 449.65 L410.60 449.98 L411.31 449.95 L412.02 450.05 L412.74 450.30 L413.45 450.59 L414.16 450.48 L414.88 450.62 L415.59 451.04 L416.30 450.97 L417.05 451.50 L417.80 451.78 L418.55 452.72 L419.30 452.42 L420.05 452.93 L420.80 453.29 L421.55 453.32 L422.30 454.00 L423.05 454.09 L423.80 454.63 M55.60 458.00 L55.60 480.00 M58.60 458.00 L58.60 478.00 M289.60 430.00 L289.60 440.00 M302.00 425.00 L302.00 440.00 M365.00 440.00 L365.00 451.00" fill="none" stroke="#b8e2a6" stroke-width="2.60" stroke-linejoin="round" stroke-opacity="0.60"/>
<path d="M28.00 456.62 L28.72 456.90 L29.44 457.07 L30.16 456.99 L30.88 457.24 L31.61 457.23 L32.33 457.28 L33.05 457.57 L33.77 457.71 L34.49 457.46 L35.21 457.90 L35.93 457.68 L36.65 457.89 L37.37 457.84 L38.09 458.14 L38.82 458.03 L39.54 458.49 L40.26 458.55 L40.98 458.57 L41.70 458.52 L42.41 458.67 L43.12 458.63 L43.84 458.97 L44.55 458.99 L45.26 458.96 L45.98 459.09 L46.69 459.42 L47.40 459.35 L48.11 459.43 L48.83 459.78 L49.54 459.90 L50.25 459.80 L50.96 460.06 L51.67 460.17 L52.39 460.01 L53.10 460.28 L53.83 460.10 L54.55 460.04 L55.28 460.40 L56.01 460.20 L56.74 460.27 L57.46 460.21 L58.19 460.10 L58.92 460.14 L59.65 460.10 L60.37 460.35 L61.10 460.37 L61.83 459.56 L62.55 459.30 L63.28 458.54 L64.01 457.65 L64.74 457.71 L65.46 457.07 L66.19 456.58 L66.92 455.89 L67.65 455.65 L68.37 455.13 L69.10 454.58 L69.83 455.36 L70.55 454.06 L71.28 453.97 L72.01 453.70 L72.74 453.55 L73.46 453.20 L74.19 453.16 L74.92 452.75 L75.65 452.49 L76.37 452.45 L77.10 452.25 L77.83 452.07 L78.55 451.82 L79.28 451.49 L80.01 451.48 L80.74 451.34 L81.46 450.95 L82.19 450.82 L82.92 450.70 L83.65 450.27 L84.37 449.93 L85.10 449.87 L85.81 449.51 L86.52 449.63 L87.24 449.36 L87.95 449.11 L88.66 448.74 L89.38 448.66 L90.09 448.42 L90.80 448.36 L91.51 447.92 L92.22 447.64 L92.94 447.72 L93.65 447.47 L94.36 447.13 L95.08 447.05 L95.79 446.67 L96.50 446.38 L97.21 446.43 L97.92 446.05 L98.64 446.05 L99.35 445.88 L100.06 445.97 L100.78 445.62 L101.49 445.38 L102.20 445.34 L102.91 445.05 L103.62 444.93 L104.34 444.86 L105.05 444.89 L105.76 444.58 L106.48 444.37 L107.19 444.47 L107.90 444.39 L108.61 443.93 L109.33 443.84 L110.04 443.51 L110.75 443.34 L111.46 443.16 L112.17 442.91 L112.89 442.58 L113.60 442.58 L114.31 442.29 L115.03 442.04 L115.74 441.89 L116.45 441.73 L117.16 441.40 L117.88 441.12 L118.59 441.16 L119.30 440.83 L120.02 439.99 L120.75 439.48 L121.47 438.96 L122.20 438.04 L122.92 437.59 L123.65 436.87 L124.38 436.22 L125.10 435.30 L125.83 434.81 L126.55 434.32 L127.28 433.36 L128.00 432.75 L128.76 432.63 L129.52 432.52 L130.28 432.38 L131.03 432.35 L131.79 432.42 L132.55 432.06 L133.31 432.27 L134.07 431.93 L134.82 431.71 L135.58 431.88 L136.34 431.88 L137.10 431.73 L137.82 431.36 L138.54 431.04 L139.26 430.90 L139.98 430.86 L140.71 430.76 L141.43 430.42 L142.15 430.46 L142.87 429.98 L143.59 430.17 L144.31 429.73 L145.03 429.79 L145.75 429.41 L146.47 429.08 L147.19 429.04 L147.92 428.77 L148.64 428.88 L149.36 428.38 L150.08 428.21 L150.80 428.23 L151.57 428.68 L152.33 429.27 L153.10 429.74 L153.87 430.27 L154.63 430.92 L155.40 431.48 L156.10 431.40 L156.81 431.50 L157.51 431.48 L158.22 431.20 L158.92 431.00 L159.62 431.17 L160.33 430.97 L161.03 430.81 L161.73 430.75 L162.44 430.49 L163.14 430.26 L163.85 430.52 L164.55 430.21 L165.25 429.96 L165.96 429.92 L166.66 429.91 L167.37 429.88 L168.07 429.73 L168.77 429.74 L169.48 429.60 L170.18 429.38 L170.88 429.13 L171.59 429.05 L172.29 429.01 L173.00 429.18 L173.70 428.99 L174.42 428.83 L175.14 428.54 L175.86 428.50 L176.58 428.48 L177.31 428.32 L178.03 428.50 L178.75 428.21 L179.47 428.24 L180.19 428.14 L180.91 428.08 L181.63 428.02 L182.35 427.57 L183.07 427.83 L183.79 427.49 L184.52 427.51 L185.24 427.46 L185.96 427.15 L186.68 427.28 L187.40 427.07 L188.16 427.05 L188.92 427.11 L189.68 426.94 L190.43 427.09 L191.19 427.58 L191.95 426.96 L192.71 426.95 L193.47 427.30 L194.22 427.05 L194.98 427.18 L195.74 427.26 L196.50 427.29 L197.22 427.35 L197.94 427.30 L198.66 427.38 L199.38 427.50 L200.11 427.59 L200.83 427.52 L201.55 427.80 L202.27 427.79 L202.99 428.08 L203.71 428.00 L204.43 428.20 L205.15 428.04 L205.87 428.30 L206.59 428.38 L207.32 428.66 L208.04 428.80 L208.76 428.58 L209.48 428.69 L210.20 428.76 L210.91 428.87 L211.62 428.85 L212.34 429.06 L213.05 429.00 L213.76 429.16 L214.47 429.13 L215.18 429.35 L215.90 429.41 L216.61 429.51 L217.32 429.59 L218.03 429.52 L218.74 429.54 L219.46 429.58 L220.17 429.65 L220.88 429.98 L221.59 429.96 L222.30 430.12 L223.02 429.88 L223.73 429.97 L224.44 430.05 L225.15 430.31 L225.86 430.24 L226.58 430.35 L227.29 430.46 L228.00 430.61 L228.70 430.72 L229.41 430.68 L230.11 430.48 L230.82 430.75 L231.52 430.86 L232.22 430.69 L232.93 430.86 L233.63 430.84 L234.33 430.84 L235.04 430.98 L235.74 430.79 L236.45 431.09 L237.15 431.10 L237.85 431.25 L238.56 430.24 L239.26 431.26 L239.97 431.17 L240.67 431.24 L241.37 431.41 L242.08 431.23 L242.78 431.49 L243.48 431.59 L244.19 431.35 L244.89 431.37 L245.60 431.37 L246.30 431.00 L247.05 432.38 L247.80 432.73 L248.55 433.51 L249.30 434.02 L250.05 434.52 L250.80 435.14 L251.52 434.90 L252.23 435.06 L252.95 435.02 L253.66 434.77 L254.38 434.93 L255.09 434.81 L255.81 434.76 L256.52 434.59 L257.24 434.61 L257.96 434.52 L258.67 434.33 L259.39 434.24 L260.10 434.34 L260.82 434.02 L261.53 434.16 L262.25 434.06 L262.97 433.81 L263.68 433.66 L264.40 433.64 L265.11 433.49 L265.83 433.49 L266.54 433.45 L267.26 433.26 L267.98 433.43 L268.69 433.40 L269.41 433.33 L270.12 433.04 L270.84 433.15 L271.55 432.84 L272.27 432.77 L272.98 432.69 L273.70 432.90 L274.42 433.10 L275.15 433.13 L275.87 433.17 L276.59 433.07 L277.31 433.49 L278.04 433.30 L278.76 433.43 L279.48 433.56 L280.20 434.33 L280.93 433.96 L281.65 433.76 L282.37 434.18 L283.10 434.04 L283.82 435.28 L284.54 434.45 L285.26 434.63 L285.99 434.06 L286.71 434.19 L287.43 434.61 L288.15 434.75 L288.88 434.98 L289.60 435.27 L290.37 434.39 L291.13 434.05 L291.90 433.53 L292.67 432.82 L293.43 432.27 L294.20 431.57 L294.90 431.45 L295.60 430.92 L296.30 430.88 L297.00 430.58 L297.70 430.11 L298.40 429.74 L299.10 429.70 L299.80 429.50 L300.50 429.08 L301.20 428.72 L301.90 428.51 L302.60 428.12 L303.30 428.13 L304.02 428.40 L304.74 428.61 L305.46 428.79 L306.18 428.86 L306.89 429.08 L307.61 429.46 L308.33 429.78 L309.05 429.91 L309.77 430.38 L310.49 430.54 L311.21 430.58 L311.93 429.93 L312.64 431.37 L313.36 431.65 L314.08 431.56 L314.80 431.95 L315.53 431.87 L316.26 431.50 L316.99 431.20 L317.71 430.75 L318.44 430.94 L319.17 430.71 L319.90 430.41 L320.63 430.25 L321.36 429.93 L322.09 429.98 L322.81 429.58 L323.54 429.54 L324.27 429.13 L325.00 428.98 L325.75 428.96 L326.50 428.84 L327.25 428.69 L328.00 428.54 L328.75 428.42 L329.50 428.52 L330.25 428.40 L331.00 428.22 L331.75 428.22 L332.50 428.26 L333.25 428.28 L334.00 427.97 L334.72 427.85 L335.43 427.76 L336.15 427.56 L336.86 427.48 L337.58 427.34 L338.29 427.42 L339.01 427.27 L339.72 426.95 L340.44 427.09 L341.15 426.88 L341.87 426.60 L342.58 426.26 L343.30 426.46 L344.01 426.68 L344.73 426.88 L345.44 426.72 L346.15 426.86 L346.86 427.22 L347.57 427.13 L348.29 427.41 L349.00 427.46 L349.71 427.36 L350.43 427.58 L351.14 427.70 L351.85 427.67 L352.56 427.89 L353.27 427.97 L353.99 427.96 L354.70 428.29 L355.45 429.61 L356.20 430.87 L356.95 432.37 L357.70 433.52 L358.45 434.82 L359.20 436.16 L359.93 437.90 L360.65 439.81 L361.38 441.67 L362.10 443.66 L362.82 445.59 L363.55 447.44 L364.27 449.27 L365.00 450.90 L365.85 449.93 L366.70 448.76 L367.55 447.81 L368.40 446.69 L369.13 446.26 L369.85 446.32 L370.58 446.00 L371.31 446.04 L372.04 445.57 L372.76 445.47 L373.49 445.34 L374.22 445.04 L374.95 445.07 L375.67 444.90 L376.40 444.81 L377.13 444.73 L377.85 444.24 L378.58 444.30 L379.31 444.05 L380.04 444.06 L380.76 443.78 L381.49 443.66 L382.22 443.56 L382.95 443.15 L383.67 443.09 L384.40 442.94 L385.10 443.15 L385.80 443.34 L386.50 443.34 L387.20 443.66 L387.90 443.68 L388.60 444.22 L389.30 444.43 L390.00 444.60 L390.70 444.55 L391.40 444.63 L392.10 445.01 L392.80 444.99 L393.50 445.47 L394.21 445.72 L394.93 445.62 L395.64 446.04 L396.35 446.06 L397.06 446.25 L397.77 446.50 L398.49 446.73 L399.20 446.95 L399.91 447.24 L400.62 447.31 L401.34 447.51 L402.05 447.74 L402.76 448.30 L403.47 448.28 L404.19 448.55 L404.90 448.62 L405.61 448.79 L406.32 449.01 L407.04 449.26 L407.75 449.35 L408.46 449.49 L409.18 449.74 L409.89 449.65 L410.60 449.98 L411.31 449.95 L412.02 450.05 L412.74 450.30 L413.45 450.59 L414.16 450.48 L414.88 450.62 L415.59 451.04 L416.30 450.97 L417.05 451.50 L417.80 451.78 L418.55 452.72 L419.30 452.42 L420.05 452.93 L420.80 453.29 L421.55 453.32 L422.30 454.00 L423.05 454.09 L423.80 454.63 M55.60 458.00 L55.60 480.00 M58.60 458.00 L58.60 478.00 M289.60 430.00 L289.60 440.00 M302.00 425.00 L302.00 440.00 M365.00 440.00 L365.00 451.00" fill="none" stroke="#4b9534" stroke-width="1.00" stroke-linejoin="round" stroke-opacity="1.00"/>
<path d="M28.00 452.74 L28.72 452.43 L29.43 452.37 L30.15 452.55 L30.87 452.82 L31.59 452.64 L32.30 452.81 L33.02 452.42 L33.74 452.62 L34.45 452.88 L35.17 452.69 L35.89 452.83 L36.61 452.86 L37.32 452.65 L38.04 452.81 L38.76 452.83 L39.47 452.69 L40.19 452.75 L40.91 452.94 L41.63 453.00 L42.34 453.08 L43.06 452.72 L43.78 452.92 L44.49 452.86 L45.21 453.05 L45.93 452.70 L46.65 452.85 L47.36 452.74 L48.08 453.08 L48.80 453.04 L49.51 452.63 L50.23 452.71 L50.95 452.74 L51.67 453.03 L52.38 453.15 L53.10 452.91 L53.81 452.61 L54.52 452.78 L55.23 452.65 L55.94 452.41 L56.65 452.17 L57.36 452.08 L58.07 451.87 L58.78 452.08 L59.49 451.69 L60.20 451.75 L60.91 451.51 L61.62 451.18 L62.33 451.07 L63.04 451.17 L63.76 451.15 L64.47 451.04 L65.18 450.45 L65.89 450.37 L66.60 450.14 L67.31 450.05 L68.02 450.04 L68.73 450.10 L69.44 450.08 L70.15 449.74 L70.86 449.34 L71.57 449.34 L72.28 449.06 L72.99 449.01 L73.70 449.04 L74.41 448.78 L75.12 448.37 L75.84 448.21 L76.55 448.36 L77.26 447.98 L77.98 447.75 L78.69 447.36 L79.40 447.13 L80.11 447.19 L80.83 446.52 L81.54 446.69 L82.25 446.65 L82.96 446.24 L83.67 445.67 L84.39 445.44 L85.10 445.67 L85.81 445.09 L86.53 445.02 L87.24 444.93 L87.95 444.73 L88.66 444.28 L89.38 444.30 L90.09 444.22 L90.80 443.73 L91.51 443.47 L92.22 443.42 L92.94 443.32 L93.65 442.99 L94.36 442.91 L95.08 442.61 L95.79 442.49 L96.50 441.85 L97.20 441.97 L97.90 441.56 L98.60 441.37 L99.30 441.37 L100.00 441.60 L100.70 441.08 L101.40 440.95 L102.10 441.19 L102.80 441.09 L103.50 440.82 L104.20 440.44 L104.90 440.59 L105.60 440.01 L106.30 439.84 L107.00 439.74 L107.70 439.77 L108.40 439.58 L109.10 439.82 L109.80 439.43 L110.50 439.54 L111.20 439.19 L111.90 438.99 L112.60 438.84 L113.30 438.53 L114.00 438.64 L114.70 438.80 L115.40 438.68 L116.10 438.53 L116.80 437.89 L117.50 437.97 L118.20 438.07 L118.90 437.53 L119.60 437.34 L120.30 437.29 L121.00 437.08 L121.70 437.34 L122.40 437.19 L123.10 437.23 L123.80 436.53 L124.50 436.79 L125.20 436.71 L125.90 436.21 L126.60 436.01 L127.30 436.42 L128.00 436.17 L128.71 435.69 L129.41 435.72 L130.12 435.95 L130.83 435.61 L131.54 435.72 L132.24 435.50 L132.95 435.42 L133.66 435.61 L134.36 435.60 L135.07 435.73 L135.78 435.18 L136.49 435.34 L137.19 435.12 L137.90 435.36 L138.61 435.08 L139.31 435.14 L140.02 435.47 L140.73 435.23 L141.44 435.20 L142.14 435.11 L142.85 434.82 L143.56 435.06 L144.26 435.19 L144.97 434.61 L145.68 435.01 L146.39 434.67 L147.09 434.54 L147.80 434.76 L148.51 434.83 L149.21 434.37 L149.92 434.34 L150.63 434.48 L151.34 434.25 L152.04 434.39 L152.75 434.63 L153.46 434.00 L154.16 434.19 L154.87 434.01 L155.58 433.94 L156.29 434.15 L156.99 434.32 L157.70 433.98 L158.40 433.97 L159.11 433.99 L159.81 434.02 L160.51 434.02 L161.21 433.58 L161.92 433.42 L162.62 433.80 L163.32 433.55 L164.02 433.65 L164.73 433.15 L165.43 433.47 L166.13 433.00 L166.83 432.95 L167.54 432.88 L168.24 432.96 L168.94 432.92 L169.64 433.00 L170.35 433.11 L171.05 432.74 L171.75 432.77 L172.45 432.60 L173.16 432.52 L173.86 432.38 L174.56 432.16 L175.26 432.25 L175.97 432.47 L176.67 432.45 L177.37 432.32 L178.07 432.11 L178.78 432.02 L179.48 431.83 L180.18 431.79 L180.88 432.18 L181.59 431.87 L182.29 431.70 L182.99 431.71 L183.69 431.62 L184.40 431.44 L185.10 431.45 L185.82 431.39 L186.53 431.60 L187.25 431.52 L187.97 431.09 L188.69 431.12 L189.40 430.90 L190.12 431.27 L190.84 430.71 L191.55 430.85 L192.27 430.49 L192.99 430.69 L193.71 430.62 L194.42 430.28 L195.14 430.29 L195.86 430.43 L196.57 430.34 L197.29 430.17 L198.01 429.95 L198.73 430.04 L199.44 429.98 L200.16 429.76 L200.88 429.99 L201.59 429.69 L202.31 429.80 L203.03 429.84 L203.75 429.35 L204.46 429.57 L205.18 429.58 L205.90 429.67 L206.61 429.47 L207.33 429.49 L208.05 429.31 L208.77 428.98 L209.48 429.26 L210.20 429.15 L210.90 428.95 L211.60 429.17 L212.30 428.60 L213.00 429.07 L213.70 428.70 L214.40 428.77 L215.10 428.88 L215.80 428.46 L216.50 428.61 L217.20 428.28 L217.90 428.25 L218.60 428.76 L219.30 428.27 L220.00 428.35 L220.70 428.13 L221.40 428.57 L222.10 428.27 L222.80 428.44 L223.50 428.04 L224.20 428.12 L224.90 427.94 L225.60 428.11 L226.30 428.13 L227.00 428.01 L227.70 427.97 L228.40 427.77 L229.10 428.11 L229.80 427.50 L230.50 427.55 L231.20 427.81 L231.90 427.95 L232.60 427.83 L233.30 427.43 L234.00 427.80 L234.70 427.47 L235.40 427.49 L236.10 427.49 L236.80 427.43 L237.50 427.55 L238.20 427.52 L238.90 427.12 L239.60 427.42 L240.30 427.04 L241.00 427.21 L241.70 426.86 L242.40 427.10 L243.10 426.85 L243.80 427.23 L244.50 426.99 L245.20 426.78 L245.90 427.08 L246.60 426.53 L247.30 426.86 L248.00 426.76 L248.70 426.34 L249.40 426.56 L250.10 426.31 L250.80 426.80 L251.51 426.29 L252.22 426.65 L252.93 426.63 L253.63 426.41 L254.34 426.93 L255.05 426.75 L255.76 426.81 L256.47 426.63 L257.18 426.60 L257.89 426.74 L258.59 426.60 L259.30 426.73 L260.01 426.95 L260.72 426.92 L261.43 427.17 L262.14 426.84 L262.85 426.91 L263.56 427.13 L264.26 427.27 L264.97 427.08 L265.68 427.05 L266.39 427.03 L267.10 427.21 L267.81 427.26 L268.52 427.54 L269.22 427.24 L269.93 427.34 L270.64 427.61 L271.35 427.32 L272.06 427.26 L272.77 427.85 L273.48 427.85 L274.18 427.53 L274.89 427.54 L275.60 427.68 L276.31 427.57 L277.02 427.95 L277.73 428.04 L278.44 427.97 L279.14 427.82 L279.85 428.12 L280.56 428.21 L281.27 427.79 L281.98 428.12 L282.69 427.86 L283.40 428.38 L284.11 428.30 L284.81 428.10 L285.52 428.33 L286.23 428.10 L286.94 428.00 L287.65 428.30 L288.36 428.07 L289.07 428.34 L289.77 428.61 L290.48 428.48 L291.19 428.33 L291.90 428.33 L292.61 428.48 L293.32 428.39 L294.02 428.57 L294.73 428.07 L295.44 428.19 L296.15 428.12 L296.85 428.01 L297.56 427.84 L298.27 427.90 L298.98 427.94 L299.69 427.67 L300.39 427.69 L301.10 427.75 L301.81 427.94 L302.52 427.61 L303.23 427.47 L303.93 427.22 L304.64 427.45 L305.35 427.29 L306.06 427.09 L306.76 427.25 L307.47 427.28 L308.18 427.06 L308.89 427.23 L309.60 427.11 L310.30 426.71 L311.01 426.64 L311.72 426.87 L312.43 426.86 L313.14 426.77 L313.84 426.51 L314.55 426.52 L315.26 426.69 L315.97 426.44 L316.67 426.46 L317.38 426.22 L318.09 426.40 L318.80 426.25 L319.51 425.91 L320.21 426.30 L320.92 426.27 L321.63 426.32 L322.34 426.24 L323.05 426.03 L323.75 425.83 L324.46 425.65 L325.17 425.86 L325.88 425.63 L326.58 425.51 L327.29 425.33 L328.00 425.56 L328.71 425.75 L329.42 425.91 L330.13 425.67 L330.84 425.82 L331.55 426.21 L332.25 426.03 L332.96 426.61 L333.67 426.76 L334.38 426.70 L335.09 426.61 L335.80 426.91 L336.51 427.16 L337.22 427.03 L337.93 427.34 L338.64 427.44 L339.35 427.75 L340.05 427.79 L340.76 427.85 L341.47 427.90 L342.18 428.23 L342.89 428.19 L343.60 428.36 L344.31 428.26 L345.02 428.26 L345.73 428.66 L346.44 428.58 L347.15 429.16 L347.85 428.83 L348.56 429.36 L349.27 429.15 L349.98 429.19 L350.69 429.55 L351.40 429.52 L352.11 430.05 L352.82 429.95 L353.53 429.76 L354.24 430.01 L354.95 430.02 L355.65 430.37 L356.36 430.52 L357.07 430.51 L357.78 430.85 L358.49 430.84 L359.20 431.19 L359.92 431.26 L360.64 431.17 L361.36 431.67 L362.08 431.35 L362.80 431.63 L363.52 431.66 L364.24 432.37 L364.96 432.28 L365.68 432.62 L366.40 432.87 L367.12 432.48 L367.84 433.13 L368.56 432.76 L369.28 433.32 L370.00 433.53 L370.72 433.45 L371.44 433.91 L372.16 433.99 L372.88 433.98 L373.60 434.01 L374.32 434.10 L375.04 434.20 L375.76 434.64 L376.48 434.79 L377.20 434.74 L377.92 435.10 L378.64 434.99 L379.36 435.28 L380.08 435.66 L380.80 435.51 L381.52 435.89 L382.24 435.81 L382.96 436.41 L383.68 436.17 L384.40 436.76 L385.10 436.88 L385.81 437.03 L386.51 436.74 L387.21 437.11 L387.92 436.87 L388.62 437.53 L389.32 437.49 L390.03 437.22 L390.73 437.41 L391.44 437.51 L392.14 437.78 L392.84 438.26 L393.55 438.30 L394.25 438.15 L394.95 438.56 L395.66 438.21 L396.36 438.65 L397.06 438.68 L397.77 438.62 L398.47 439.25 L399.18 439.22 L399.88 439.55 L400.58 439.46 L401.29 439.57 L401.99 439.40 L402.69 439.74 L403.40 440.11 L404.10 440.04 L404.80 440.21 L405.51 440.23 L406.21 440.29 L406.91 440.21 L407.62 440.46 L408.32 440.56 L409.02 440.63 L409.73 440.73 L410.43 441.28 L411.14 441.55 L411.84 441.49 L412.54 441.70 L413.25 441.45 L413.95 441.96 L414.65 441.80 L415.36 442.21 L416.06 441.97 L416.76 442.13 L417.47 442.39 L418.17 442.33 L418.88 442.48 L419.58 442.89 L420.28 443.05 L420.99 443.29 L421.69 443.22 L422.39 443.16 L423.10 443.36 L423.80 443.55" fill="none" stroke="#e08a55" stroke-width="0.80" stroke-linejoin="round" stroke-opacity="1.00"/>
<path d="M28.00 453.36 L28.72 453.41 L29.44 453.41 L30.16 453.16 L30.88 453.36 L31.61 453.35 L32.33 453.95 L33.05 453.47 L33.77 453.19 L34.49 453.89 L35.21 454.32 L35.93 454.07 L36.65 454.10 L37.37 454.39 L38.09 454.20 L38.82 454.22 L39.54 454.22 L40.26 454.54 L40.98 454.51 L41.70 454.40 L42.41 454.43 L43.12 454.35 L43.84 454.49 L44.55 454.16 L45.26 454.37 L45.98 454.43 L46.69 453.94 L47.40 454.26 L48.11 454.52 L48.83 454.29 L49.54 454.36 L50.25 454.39 L50.96 454.06 L51.67 454.09 L52.39 454.05 L53.10 453.81 L53.80 454.29 L54.50 453.75 L55.20 453.65 L55.90 453.53 L56.60 453.90 L57.30 453.40 L58.00 453.90 L58.70 453.83 L59.40 453.85 L60.10 453.64 L60.80 453.22 L61.50 453.16 L62.20 453.18 L62.92 453.24 L63.64 452.93 L64.36 452.50 L65.08 452.17 L65.79 452.11 L66.51 451.68 L67.23 451.82 L67.95 451.74 L68.67 451.56 L69.39 451.44 L70.11 450.68 L70.83 450.54 L71.54 450.41 L72.26 450.24 L72.98 449.05 L73.70 450.16 L74.42 449.55 L75.14 449.83 L75.86 449.47 L76.58 449.39 L77.31 449.17 L78.03 449.00 L78.75 448.77 L79.47 450.49 L80.19 448.89 L80.91 448.47 L81.63 448.81 L82.35 448.11 L83.07 448.41 L83.79 447.92 L84.52 448.33 L85.24 447.71 L85.96 448.63 L86.68 447.46 L87.40 447.37 L88.16 447.24 L88.92 447.12 L89.68 446.61 L90.43 446.17 L91.19 445.66 L91.95 445.24 L92.71 445.16 L93.47 444.70 L94.22 443.18 L94.98 443.77 L95.74 443.55 L96.50 443.20 L97.27 442.44 L98.03 442.38 L98.80 442.53 L99.57 442.19 L100.33 441.76 L101.10 441.82 L101.88 441.45 L102.66 441.05 L103.44 441.24 L104.22 440.84 L105.00 441.26 L105.74 441.49 L106.49 441.21 L107.23 441.63 L107.97 441.59 L108.71 442.38 L109.46 442.60 L110.20 442.28 L110.91 442.31 L111.62 441.70 L112.34 441.43 L113.05 441.29 L113.76 441.34 L114.47 440.97 L115.19 440.53 L115.90 440.19 L116.61 440.58 L117.33 439.93 L118.04 439.50 L118.75 439.63 L119.46 439.16 L120.17 440.25 L120.89 438.45 L121.60 438.28 L122.31 438.51 L123.02 438.50 L123.73 438.25 L124.44 437.73 L125.16 438.74 L125.87 437.73 L126.58 437.55 L127.29 437.68 L128.00 437.43 L128.72 436.92 L129.44 437.41 L130.16 437.39 L130.88 437.80 L131.61 436.98 L132.33 437.19 L133.05 437.17 L133.77 436.97 L134.49 437.03 L135.21 436.60 L135.93 436.81 L136.65 436.82 L137.37 436.58 L138.09 436.11 L138.82 436.42 L139.54 435.90 L140.26 435.94 L140.98 436.26 L141.70 435.91 L142.43 435.72 L143.15 435.88 L143.88 436.04 L144.61 436.01 L145.34 435.85 L146.06 435.79 L146.79 435.47 L147.52 435.89 L148.25 435.35 L148.97 435.77 L149.70 435.63 L150.43 435.46 L151.15 435.45 L151.88 435.34 L152.61 435.26 L153.34 435.44 L154.06 435.56 L154.79 435.51 L155.52 435.34 L156.25 434.97 L156.97 435.00 L157.70 435.55 L158.43 434.93 L159.15 435.09 L159.88 434.74 L160.61 435.75 L161.34 435.13 L162.06 435.12 L162.79 434.77 L163.52 434.69 L164.25 434.94 L164.97 434.35 L165.70 434.45 L166.43 434.74 L167.15 434.10 L167.88 434.08 L168.61 434.50 L169.34 434.20 L170.06 434.47 L170.79 434.64 L171.52 433.99 L172.25 433.92 L172.97 433.70 L173.70 433.91 L174.41 434.01 L175.12 433.53 L175.84 433.73 L176.55 433.72 L177.26 433.46 L177.97 433.55 L178.69 433.16 L179.40 433.59 L180.11 433.50 L180.82 433.28 L181.54 433.00 L182.25 432.92 L182.96 431.87 L183.67 432.73 L184.39 433.07 L185.10 432.56 L185.86 432.19 L186.61 432.10 L187.37 431.83 L188.12 431.48 L188.88 430.59 L189.63 430.39 L190.39 430.17 L191.14 430.89 L191.90 429.42 L192.60 429.42 L193.31 429.38 L194.01 429.62 L194.72 429.31 L195.42 429.57 L196.12 429.57 L196.83 429.21 L197.53 429.25 L198.23 429.66 L198.94 429.25 L199.64 427.87 L200.35 429.25 L201.05 428.84 L201.75 429.30 L202.46 429.51 L203.16 429.87 L203.87 429.75 L204.57 429.78 L205.27 429.48 L205.98 429.54 L206.68 429.84 L207.38 429.77 L208.09 429.87 L208.79 429.83 L209.50 430.15 L210.20 429.83 L210.91 429.88 L211.62 429.49 L212.34 430.86 L213.05 429.32 L213.76 430.23 L214.47 428.88 L215.18 429.33 L215.90 428.97 L216.61 428.91 L217.32 428.47 L218.03 428.51 L218.74 428.73 L219.46 428.18 L220.17 427.99 L220.88 427.78 L221.59 428.06 L222.30 427.93 L223.02 427.58 L223.73 427.60 L224.44 427.85 L225.15 427.59 L225.86 427.02 L226.58 427.01 L227.29 426.87 L228.00 426.86 L228.71 426.70 L229.43 427.21 L230.14 427.28 L230.85 427.11 L231.56 427.25 L232.28 426.77 L232.99 426.27 L233.70 427.11 L234.41 427.00 L235.12 426.98 L235.84 426.71 L236.55 427.37 L237.26 426.93 L237.97 427.38 L238.69 426.99 L239.40 427.30 L240.11 427.17 L240.83 426.95 L241.54 426.96 L242.25 427.05 L242.96 426.81 L243.68 426.74 L244.39 427.34 L245.10 427.05 L245.81 427.00 L246.53 426.83 L247.24 427.30 L247.95 427.25 L248.66 427.21 L249.38 427.20 L250.09 427.08 L250.80 427.20 L251.52 426.94 L252.23 427.51 L252.95 427.32 L253.66 426.91 L254.38 427.14 L255.09 427.05 L255.81 427.42 L256.52 427.72 L257.24 427.19 L257.96 427.52 L258.67 427.55 L259.39 427.33 L260.10 427.81 L260.82 427.69 L261.53 427.44 L262.25 427.88 L262.97 427.34 L263.68 427.94 L264.40 427.68 L265.11 427.76 L265.83 427.89 L266.54 427.83 L267.26 428.03 L267.98 428.01 L268.69 427.65 L269.41 427.68 L270.12 428.27 L270.84 427.85 L271.55 427.99 L272.27 427.88 L272.98 427.93 L273.70 428.04 L274.43 427.98 L275.16 427.62 L275.88 428.04 L276.61 428.51 L277.34 428.72 L278.07 428.48 L278.80 427.25 L279.52 428.36 L280.25 428.91 L280.98 428.36 L281.71 428.52 L282.44 429.07 L283.16 429.02 L283.89 429.10 L284.62 429.66 L285.35 428.93 L286.08 429.22 L286.80 429.21 L287.53 428.37 L288.26 428.99 L288.99 429.50 L289.72 429.44 L290.44 429.06 L291.17 429.41 L291.90 429.34 L292.60 429.25 L293.31 429.11 L294.01 429.36 L294.71 430.27 L295.41 429.14 L296.12 429.64 L296.82 429.10 L297.52 429.27 L298.22 429.24 L298.93 428.97 L299.63 429.17 L300.33 428.71 L301.03 428.95 L301.74 428.99 L302.44 428.80 L303.14 429.36 L303.84 429.22 L304.55 429.19 L305.25 428.62 L305.95 428.60 L306.65 428.58 L307.36 428.94 L308.06 428.37 L308.76 428.76 L309.46 428.29 L310.17 428.34 L310.87 428.43 L311.57 428.85 L312.27 428.75 L312.98 427.66 L313.68 428.19 L314.38 428.16 L315.08 428.07 L315.79 428.60 L316.49 428.33 L317.19 427.95 L317.89 429.46 L318.60 428.44 L319.30 428.52 L320.03 428.10 L320.75 427.49 L321.48 427.77 L322.20 427.11 L322.93 427.11 L323.65 427.31 L324.38 426.59 L325.10 426.82 L325.82 426.79 L326.55 425.79 L327.27 425.95 L328.00 425.91 L328.76 425.58 L329.52 426.02 L330.29 426.98 L331.05 426.96 L331.81 427.51 L332.58 427.33 L333.34 427.95 L334.10 427.99 L334.82 428.40 L335.54 428.76 L336.26 428.68 L336.98 428.53 L337.71 429.02 L338.43 428.77 L339.15 429.06 L339.87 429.28 L340.59 429.18 L341.31 429.40 L342.03 429.46 L342.75 429.43 L343.47 429.71 L344.19 429.66 L344.92 430.12 L345.64 430.23 L346.36 430.49 L347.08 430.28 L347.80 429.17 L348.51 430.38 L349.23 430.42 L349.94 430.75 L350.65 430.88 L351.36 431.62 L352.07 430.83 L352.79 430.78 L353.50 430.80 L354.21 430.84 L354.93 431.21 L355.64 430.98 L356.35 431.02 L357.06 430.64 L357.77 431.42 L358.49 431.36 L359.20 431.88 L359.92 431.92 L360.64 432.51 L361.36 432.49 L362.07 432.94 L362.79 433.05 L363.51 433.56 L364.23 434.32 L364.95 434.32 L365.67 434.67 L366.39 434.95 L367.11 435.53 L367.82 436.08 L368.54 436.22 L369.26 436.57 L369.98 436.80 L370.70 437.11 L371.42 436.43 L372.14 437.36 L372.86 437.64 L373.58 437.00 L374.31 437.64 L375.03 437.62 L375.75 437.39 L376.47 437.51 L377.19 437.52 L377.91 437.51 L378.63 437.62 L379.35 437.38 L380.07 437.48 L380.79 437.05 L381.52 437.17 L382.24 436.97 L382.96 437.03 L383.68 437.14 L384.40 437.45 L385.12 437.23 L385.84 437.79 L386.56 437.96 L387.28 437.53 L388.01 437.71 L388.73 437.88 L389.45 438.42 L390.17 438.62 L390.89 438.31 L391.61 438.82 L392.33 438.54 L393.05 438.94 L393.77 438.86 L394.49 438.75 L395.22 438.98 L395.94 439.19 L396.66 439.21 L397.38 439.60 L398.10 439.39 L398.82 439.72 L399.54 439.98 L400.26 439.92 L400.98 439.82 L401.71 440.28 L402.43 440.40 L403.15 440.77 L403.87 440.37 L404.59 440.36 L405.31 440.61 L406.03 441.08 L406.75 441.10 L407.47 440.85 L408.19 440.95 L408.92 441.61 L409.64 441.49 L410.36 441.41 L411.08 441.86 L411.80 441.66 L412.51 442.34 L413.21 441.90 L413.92 441.50 L414.62 443.92 L415.33 442.43 L416.04 443.03 L416.74 442.59 L417.45 442.85 L418.15 443.18 L418.86 442.81 L419.56 443.64 L420.27 443.22 L420.98 443.47 L421.68 443.67 L422.39 443.02 L423.09 444.29 L423.80 444.40 M54.80 452.00 L54.80 480.00 M57.80 452.00 L57.80 480.00 M97.00 443.00 L97.00 437.50 M99.00 443.00 L99.00 436.00 M101.10 440.00 L101.10 436.20 M103.00 441.00 L103.00 437.00 M105.00 442.00 L105.00 437.50 M107.00 443.00 L107.00 438.00 M141.70 436.00 L141.70 444.00 M185.10 432.00 L185.10 439.00 M298.90 428.00 L298.90 450.00 M298.90 428.00 L298.90 420.00 M303.00 428.00 L303.00 416.60 M305.50 428.00 L305.50 417.00 M307.80 428.00 L307.80 416.60 M309.80 428.00 L309.80 417.50 M312.80 429.00 L312.80 449.30 M325.90 428.00 L325.90 446.80 M325.90 428.00 L325.90 421.50 M340.60 429.00 L340.60 450.00 M356.00 431.00 L356.00 439.00" fill="none" stroke="#c6b4f2" stroke-width="2.80" stroke-linejoin="round" stroke-opacity="0.60"/>
<path d="M28.00 453.36 L28.72 453.41 L29.44 453.41 L30.16 453.16 L30.88 453.36 L31.61 453.35 L32.33 453.95 L33.05 453.47 L33.77 453.19 L34.49 453.89 L35.21 454.32 L35.93 454.07 L36.65 454.10 L37.37 454.39 L38.09 454.20 L38.82 454.22 L39.54 454.22 L40.26 454.54 L40.98 454.51 L41.70 454.40 L42.41 454.43 L43.12 454.35 L43.84 454.49 L44.55 454.16 L45.26 454.37 L45.98 454.43 L46.69 453.94 L47.40 454.26 L48.11 454.52 L48.83 454.29 L49.54 454.36 L50.25 454.39 L50.96 454.06 L51.67 454.09 L52.39 454.05 L53.10 453.81 L53.80 454.29 L54.50 453.75 L55.20 453.65 L55.90 453.53 L56.60 453.90 L57.30 453.40 L58.00 453.90 L58.70 453.83 L59.40 453.85 L60.10 453.64 L60.80 453.22 L61.50 453.16 L62.20 453.18 L62.92 453.24 L63.64 452.93 L64.36 452.50 L65.08 452.17 L65.79 452.11 L66.51 451.68 L67.23 451.82 L67.95 451.74 L68.67 451.56 L69.39 451.44 L70.11 450.68 L70.83 450.54 L71.54 450.41 L72.26 450.24 L72.98 449.05 L73.70 450.16 L74.42 449.55 L75.14 449.83 L75.86 449.47 L76.58 449.39 L77.31 449.17 L78.03 449.00 L78.75 448.77 L79.47 450.49 L80.19 448.89 L80.91 448.47 L81.63 448.81 L82.35 448.11 L83.07 448.41 L83.79 447.92 L84.52 448.33 L85.24 447.71 L85.96 448.63 L86.68 447.46 L87.40 447.37 L88.16 447.24 L88.92 447.12 L89.68 446.61 L90.43 446.17 L91.19 445.66 L91.95 445.24 L92.71 445.16 L93.47 444.70 L94.22 443.18 L94.98 443.77 L95.74 443.55 L96.50 443.20 L97.27 442.44 L98.03 442.38 L98.80 442.53 L99.57 442.19 L100.33 441.76 L101.10 441.82 L101.88 441.45 L102.66 441.05 L103.44 441.24 L104.22 440.84 L105.00 441.26 L105.74 441.49 L106.49 441.21 L107.23 441.63 L107.97 441.59 L108.71 442.38 L109.46 442.60 L110.20 442.28 L110.91 442.31 L111.62 441.70 L112.34 441.43 L113.05 441.29 L113.76 441.34 L114.47 440.97 L115.19 440.53 L115.90 440.19 L116.61 440.58 L117.33 439.93 L118.04 439.50 L118.75 439.63 L119.46 439.16 L120.17 440.25 L120.89 438.45 L121.60 438.28 L122.31 438.51 L123.02 438.50 L123.73 438.25 L124.44 437.73 L125.16 438.74 L125.87 437.73 L126.58 437.55 L127.29 437.68 L128.00 437.43 L128.72 436.92 L129.44 437.41 L130.16 437.39 L130.88 437.80 L131.61 436.98 L132.33 437.19 L133.05 437.17 L133.77 436.97 L134.49 437.03 L135.21 436.60 L135.93 436.81 L136.65 436.82 L137.37 436.58 L138.09 436.11 L138.82 436.42 L139.54 435.90 L140.26 435.94 L140.98 436.26 L141.70 435.91 L142.43 435.72 L143.15 435.88 L143.88 436.04 L144.61 436.01 L145.34 435.85 L146.06 435.79 L146.79 435.47 L147.52 435.89 L148.25 435.35 L148.97 435.77 L149.70 435.63 L150.43 435.46 L151.15 435.45 L151.88 435.34 L152.61 435.26 L153.34 435.44 L154.06 435.56 L154.79 435.51 L155.52 435.34 L156.25 434.97 L156.97 435.00 L157.70 435.55 L158.43 434.93 L159.15 435.09 L159.88 434.74 L160.61 435.75 L161.34 435.13 L162.06 435.12 L162.79 434.77 L163.52 434.69 L164.25 434.94 L164.97 434.35 L165.70 434.45 L166.43 434.74 L167.15 434.10 L167.88 434.08 L168.61 434.50 L169.34 434.20 L170.06 434.47 L170.79 434.64 L171.52 433.99 L172.25 433.92 L172.97 433.70 L173.70 433.91 L174.41 434.01 L175.12 433.53 L175.84 433.73 L176.55 433.72 L177.26 433.46 L177.97 433.55 L178.69 433.16 L179.40 433.59 L180.11 433.50 L180.82 433.28 L181.54 433.00 L182.25 432.92 L182.96 431.87 L183.67 432.73 L184.39 433.07 L185.10 432.56 L185.86 432.19 L186.61 432.10 L187.37 431.83 L188.12 431.48 L188.88 430.59 L189.63 430.39 L190.39 430.17 L191.14 430.89 L191.90 429.42 L192.60 429.42 L193.31 429.38 L194.01 429.62 L194.72 429.31 L195.42 429.57 L196.12 429.57 L196.83 429.21 L197.53 429.25 L198.23 429.66 L198.94 429.25 L199.64 427.87 L200.35 429.25 L201.05 428.84 L201.75 429.30 L202.46 429.51 L203.16 429.87 L203.87 429.75 L204.57 429.78 L205.27 429.48 L205.98 429.54 L206.68 429.84 L207.38 429.77 L208.09 429.87 L208.79 429.83 L209.50 430.15 L210.20 429.83 L210.91 429.88 L211.62 429.49 L212.34 430.86 L213.05 429.32 L213.76 430.23 L214.47 428.88 L215.18 429.33 L215.90 428.97 L216.61 428.91 L217.32 428.47 L218.03 428.51 L218.74 428.73 L219.46 428.18 L220.17 427.99 L220.88 427.78 L221.59 428.06 L222.30 427.93 L223.02 427.58 L223.73 427.60 L224.44 427.85 L225.15 427.59 L225.86 427.02 L226.58 427.01 L227.29 426.87 L228.00 426.86 L228.71 426.70 L229.43 427.21 L230.14 427.28 L230.85 427.11 L231.56 427.25 L232.28 426.77 L232.99 426.27 L233.70 427.11 L234.41 427.00 L235.12 426.98 L235.84 426.71 L236.55 427.37 L237.26 426.93 L237.97 427.38 L238.69 426.99 L239.40 427.30 L240.11 427.17 L240.83 426.95 L241.54 426.96 L242.25 427.05 L242.96 426.81 L243.68 426.74 L244.39 427.34 L245.10 427.05 L245.81 427.00 L246.53 426.83 L247.24 427.30 L247.95 427.25 L248.66 427.21 L249.38 427.20 L250.09 427.08 L250.80 427.20 L251.52 426.94 L252.23 427.51 L252.95 427.32 L253.66 426.91 L254.38 427.14 L255.09 427.05 L255.81 427.42 L256.52 427.72 L257.24 427.19 L257.96 427.52 L258.67 427.55 L259.39 427.33 L260.10 427.81 L260.82 427.69 L261.53 427.44 L262.25 427.88 L262.97 427.34 L263.68 427.94 L264.40 427.68 L265.11 427.76 L265.83 427.89 L266.54 427.83 L267.26 428.03 L267.98 428.01 L268.69 427.65 L269.41 427.68 L270.12 428.27 L270.84 427.85 L271.55 427.99 L272.27 427.88 L272.98 427.93 L273.70 428.04 L274.43 427.98 L275.16 427.62 L275.88 428.04 L276.61 428.51 L277.34 428.72 L278.07 428.48 L278.80 427.25 L279.52 428.36 L280.25 428.91 L280.98 428.36 L281.71 428.52 L282.44 429.07 L283.16 429.02 L283.89 429.10 L284.62 429.66 L285.35 428.93 L286.08 429.22 L286.80 429.21 L287.53 428.37 L288.26 428.99 L288.99 429.50 L289.72 429.44 L290.44 429.06 L291.17 429.41 L291.90 429.34 L292.60 429.25 L293.31 429.11 L294.01 429.36 L294.71 430.27 L295.41 429.14 L296.12 429.64 L296.82 429.10 L297.52 429.27 L298.22 429.24 L298.93 428.97 L299.63 429.17 L300.33 428.71 L301.03 428.95 L301.74 428.99 L302.44 428.80 L303.14 429.36 L303.84 429.22 L304.55 429.19 L305.25 428.62 L305.95 428.60 L306.65 428.58 L307.36 428.94 L308.06 428.37 L308.76 428.76 L309.46 428.29 L310.17 428.34 L310.87 428.43 L311.57 428.85 L312.27 428.75 L312.98 427.66 L313.68 428.19 L314.38 428.16 L315.08 428.07 L315.79 428.60 L316.49 428.33 L317.19 427.95 L317.89 429.46 L318.60 428.44 L319.30 428.52 L320.03 428.10 L320.75 427.49 L321.48 427.77 L322.20 427.11 L322.93 427.11 L323.65 427.31 L324.38 426.59 L325.10 426.82 L325.82 426.79 L326.55 425.79 L327.27 425.95 L328.00 425.91 L328.76 425.58 L329.52 426.02 L330.29 426.98 L331.05 426.96 L331.81 427.51 L332.58 427.33 L333.34 427.95 L334.10 427.99 L334.82 428.40 L335.54 428.76 L336.26 428.68 L336.98 428.53 L337.71 429.02 L338.43 428.77 L339.15 429.06 L339.87 429.28 L340.59 429.18 L341.31 429.40 L342.03 429.46 L342.75 429.43 L343.47 429.71 L344.19 429.66 L344.92 430.12 L345.64 430.23 L346.36 430.49 L347.08 430.28 L347.80 429.17 L348.51 430.38 L349.23 430.42 L349.94 430.75 L350.65 430.88 L351.36 431.62 L352.07 430.83 L352.79 430.78 L353.50 430.80 L354.21 430.84 L354.93 431.21 L355.64 430.98 L356.35 431.02 L357.06 430.64 L357.77 431.42 L358.49 431.36 L359.20 431.88 L359.92 431.92 L360.64 432.51 L361.36 432.49 L362.07 432.94 L362.79 433.05 L363.51 433.56 L364.23 434.32 L364.95 434.32 L365.67 434.67 L366.39 434.95 L367.11 435.53 L367.82 436.08 L368.54 436.22 L369.26 436.57 L369.98 436.80 L370.70 437.11 L371.42 436.43 L372.14 437.36 L372.86 437.64 L373.58 437.00 L374.31 437.64 L375.03 437.62 L375.75 437.39 L376.47 437.51 L377.19 437.52 L377.91 437.51 L378.63 437.62 L379.35 437.38 L380.07 437.48 L380.79 437.05 L381.52 437.17 L382.24 436.97 L382.96 437.03 L383.68 437.14 L384.40 437.45 L385.12 437.23 L385.84 437.79 L386.56 437.96 L387.28 437.53 L388.01 437.71 L388.73 437.88 L389.45 438.42 L390.17 438.62 L390.89 438.31 L391.61 438.82 L392.33 438.54 L393.05 438.94 L393.77 438.86 L394.49 438.75 L395.22 438.98 L395.94 439.19 L396.66 439.21 L397.38 439.60 L398.10 439.39 L398.82 439.72 L399.54 439.98 L400.26 439.92 L400.98 439.82 L401.71 440.28 L402.43 440.40 L403.15 440.77 L403.87 440.37 L404.59 440.36 L405.31 440.61 L406.03 441.08 L406.75 441.10 L407.47 440.85 L408.19 440.95 L408.92 441.61 L409.64 441.49 L410.36 441.41 L411.08 441.86 L411.80 441.66 L412.51 442.34 L413.21 441.90 L413.92 441.50 L414.62 443.92 L415.33 442.43 L416.04 443.03 L416.74 442.59 L417.45 442.85 L418.15 443.18 L418.86 442.81 L419.56 443.64 L420.27 443.22 L420.98 443.47 L421.68 443.67 L422.39 443.02 L423.09 444.29 L423.80 444.40 M54.80 452.00 L54.80 480.00 M57.80 452.00 L57.80 480.00 M97.00 443.00 L97.00 437.50 M99.00 443.00 L99.00 436.00 M101.10 440.00 L101.10 436.20 M103.00 441.00 L103.00 437.00 M105.00 442.00 L105.00 437.50 M107.00 443.00 L107.00 438.00 M141.70 436.00 L141.70 444.00 M185.10 432.00 L185.10 439.00 M298.90 428.00 L298.90 450.00 M298.90 428.00 L298.90 420.00 M303.00 428.00 L303.00 416.60 M305.50 428.00 L305.50 417.00 M307.80 428.00 L307.80 416.60 M309.80 428.00 L309.80 417.50 M312.80 429.00 L312.80 449.30 M325.90 428.00 L325.90 446.80 M325.90 428.00 L325.90 421.50 M340.60 429.00 L340.60 450.00 M356.00 431.00 L356.00 439.00" fill="none" stroke="#6b44d0" stroke-width="1.10" stroke-linejoin="round" stroke-opacity="1.00"/>
<path d="M28.00 451.12 L28.72 450.77 L29.43 451.16 L30.15 450.92 L30.87 451.32 L31.59 451.35 L32.30 451.15 L33.02 451.34 L33.74 451.50 L34.45 451.49 L35.17 451.37 L35.89 451.38 L36.61 451.26 L37.32 451.48 L38.04 451.18 L38.76 451.40 L39.47 451.21 L40.19 451.24 L40.91 451.61 L41.63 451.50 L42.34 451.40 L43.06 451.87 L43.78 451.50 L44.49 451.68 L45.21 451.68 L45.93 451.53 L46.65 452.04 L47.36 451.93 L48.08 452.04 L48.80 451.71 L49.51 452.10 L50.23 452.13 L50.95 452.18 L51.67 451.75 L52.38 451.76 L53.10 451.75 L53.81 451.65 L54.52 451.91 L55.23 451.42 L55.94 451.57 L56.65 451.40 L57.36 451.52 L58.07 451.00 L58.78 451.30 L59.49 451.34 L60.20 450.84 L60.91 450.80 L61.62 450.90 L62.33 450.54 L63.04 450.76 L63.76 450.75 L64.47 450.18 L65.18 450.22 L65.89 449.93 L66.60 450.07 L67.31 449.87 L68.02 450.11 L68.73 449.86 L69.44 449.92 L70.15 449.70 L70.86 449.61 L71.57 449.24 L72.28 449.31 L72.99 448.87 L73.70 448.91 L74.41 449.10 L75.12 448.98 L75.84 448.34 L76.55 448.37 L77.26 448.16 L77.98 448.13 L78.69 447.96 L79.40 447.61 L80.11 447.82 L80.83 447.41 L81.54 447.45 L82.25 447.26 L82.96 447.26 L83.67 446.82 L84.39 446.71 L85.10 446.66 L85.81 446.18 L86.53 445.91 L87.24 446.22 L87.95 445.99 L88.66 445.87 L89.38 445.74 L90.09 445.23 L90.80 445.48 L91.51 445.18 L92.22 445.20 L92.94 444.81 L93.65 444.84 L94.36 444.20 L95.08 444.11 L95.79 444.19 L96.50 444.10 L97.20 443.76 L97.90 443.41 L98.60 443.73 L99.30 443.08 L100.00 443.40 L100.70 442.84 L101.40 442.96 L102.10 442.72 L102.80 442.34 L103.50 442.23 L104.20 442.01 L104.90 442.02 L105.60 441.70 L106.30 441.69 L107.00 441.37 L107.70 441.11 L108.40 441.28 L109.10 440.86 L109.80 441.10 L110.50 440.61 L111.20 440.36 L111.90 440.46 L112.60 440.41 L113.30 439.92 L114.00 439.97 L114.70 439.57 L115.40 439.80 L116.10 439.21 L116.80 438.89 L117.50 438.70 L118.20 438.86 L118.90 438.74 L119.60 438.37 L120.30 438.28 L121.00 438.11 L121.70 437.92 L122.40 437.65 L123.10 437.69 L123.80 437.60 L124.50 437.05 L125.20 437.40 L125.90 436.86 L126.60 436.82 L127.30 436.50 L128.00 436.60 L128.71 436.40 L129.41 436.45 L130.12 436.30 L130.83 436.31 L131.54 436.01 L132.24 436.50 L132.95 436.12 L133.66 436.02 L134.36 436.28 L135.07 435.90 L135.78 436.15 L136.49 435.88 L137.19 435.65 L137.90 435.88 L138.61 435.65 L139.31 435.56 L140.02 435.98 L140.73 435.91 L141.44 435.58 L142.14 435.73 L142.85 435.60 L143.56 435.33 L144.26 435.18 L144.97 435.41 L145.68 435.12 L146.39 435.41 L147.09 435.27 L147.80 435.00 L148.51 435.29 L149.21 435.35 L149.92 435.01 L150.63 435.26 L151.34 434.90 L152.04 434.59 L152.75 434.81 L153.46 434.70 L154.16 434.99 L154.87 434.70 L155.58 434.92 L156.29 434.39 L156.99 434.48 L157.70 434.21 L158.40 434.16 L159.10 434.48 L159.80 434.00 L160.50 434.04 L161.20 434.09 L161.90 434.31 L162.60 433.83 L163.30 433.62 L164.00 433.96 L164.70 433.88 L165.40 433.48 L166.10 433.88 L166.80 433.77 L167.50 433.74 L168.20 433.59 L168.90 433.35 L169.60 433.37 L170.30 432.95 L171.00 433.19 L171.70 432.95 L172.40 432.86 L173.10 432.77 L173.80 432.56 L174.50 432.93 L175.20 432.83 L175.90 432.30 L176.60 432.53 L177.30 432.16 L178.00 432.40 L178.70 432.10 L179.40 432.50 L180.10 432.04 L180.80 432.09 L181.50 431.86 L182.20 432.18 L182.90 431.56 L183.60 431.67 L184.30 431.55 L185.00 431.79 L185.70 431.49 L186.40 431.71 L187.10 431.32 L187.80 431.12 L188.50 431.25 L189.20 430.95 L189.90 430.92 L190.60 431.07 L191.30 431.02 L192.00 430.73 L192.70 430.64 L193.40 430.77 L194.10 430.65 L194.80 430.60 L195.50 430.64 L196.20 430.25 L196.90 430.10 L197.60 430.06 L198.30 430.42 L199.00 430.29 L199.70 429.89 L200.40 429.92 L201.10 429.84 L201.80 430.13 L202.50 429.75 L203.20 429.86 L203.90 429.41 L204.60 429.31 L205.30 429.35 L206.00 429.52 L206.70 429.33 L207.40 429.52 L208.10 429.41 L208.80 429.25 L209.50 429.37 L210.20 429.28 L210.90 429.19 L211.60 428.68 L212.30 428.83 L213.00 428.64 L213.70 428.88 L214.40 428.78 L215.10 428.49 L215.80 428.44 L216.50 428.64 L217.20 428.70 L217.90 428.53 L218.60 428.53 L219.30 428.59 L220.00 428.59 L220.70 428.56 L221.40 428.34 L222.10 428.16 L222.80 428.54 L223.50 428.00 L224.20 428.06 L224.90 428.02 L225.60 428.22 L226.30 428.20 L227.00 427.85 L227.70 428.06 L228.40 428.06 L229.10 428.09 L229.80 427.68 L230.50 428.04 L231.20 427.72 L231.90 427.76 L232.60 427.56 L233.30 427.95 L234.00 427.78 L234.70 427.86 L235.40 427.64 L236.10 427.36 L236.80 427.50 L237.50 427.27 L238.20 427.24 L238.90 427.63 L239.60 427.11 L240.30 427.30 L241.00 427.06 L241.70 427.45 L242.40 427.55 L243.10 426.94 L243.80 427.10 L244.50 427.43 L245.20 426.95 L245.90 426.95 L246.60 427.32 L247.30 427.24 L248.00 426.88 L248.70 427.02 L249.40 427.05 L250.10 426.75 L250.80 426.50 L251.51 426.76 L252.22 426.98 L252.93 427.18 L253.63 426.90 L254.34 426.92 L255.05 426.94 L255.76 427.11 L256.47 426.79 L257.18 427.36 L257.89 427.42 L258.59 426.90 L259.30 426.92 L260.01 427.14 L260.72 427.07 L261.43 427.48 L262.14 427.57 L262.85 427.41 L263.56 427.69 L264.26 427.29 L264.97 427.31 L265.68 427.45 L266.39 427.53 L267.10 427.41 L267.81 427.88 L268.52 427.81 L269.22 427.57 L269.93 427.57 L270.64 427.64 L271.35 427.74 L272.06 427.93 L272.77 428.03 L273.48 428.17 L274.18 427.69 L274.89 427.79 L275.60 427.93 L276.31 428.31 L277.02 428.05 L277.73 428.24 L278.44 428.34 L279.14 428.16 L279.85 428.14 L280.56 428.41 L281.27 428.37 L281.98 428.61 L282.69 428.21 L283.40 428.66 L284.11 428.41 L284.81 428.68 L285.52 428.57 L286.23 428.56 L286.94 428.77 L287.65 428.34 L288.36 428.50 L289.07 428.65 L289.77 428.89 L290.48 428.54 L291.19 428.93 L291.90 428.55 L292.61 428.66 L293.32 428.69 L294.02 428.79 L294.73 428.63 L295.44 428.78 L296.15 428.64 L296.85 428.41 L297.56 428.45 L298.27 428.33 L298.98 428.57 L299.69 428.19 L300.39 428.07 L301.10 428.06 L301.81 428.02 L302.52 428.31 L303.23 428.19 L303.93 427.88 L304.64 427.94 L305.35 428.18 L306.06 428.17 L306.76 427.69 L307.47 428.07 L308.18 427.50 L308.89 428.02 L309.60 427.57 L310.30 427.90 L311.01 427.30 L311.72 427.65 L312.43 427.75 L313.14 427.64 L313.84 427.45 L314.55 427.15 L315.26 427.15 L315.97 427.53 L316.67 427.44 L317.38 427.01 L318.09 427.04 L318.80 427.15 L319.51 426.92 L320.21 426.82 L320.92 427.17 L321.63 426.67 L322.34 426.94 L323.05 426.76 L323.75 426.75 L324.46 426.95 L325.17 426.83 L325.88 426.80 L326.58 426.30 L327.29 426.73 L328.00 426.68 L328.71 426.35 L329.42 426.63 L330.13 427.08 L330.84 427.31 L331.55 427.26 L332.25 427.62 L332.96 427.29 L333.67 427.54 L334.38 428.02 L335.09 428.15 L335.80 427.96 L336.51 428.31 L337.22 428.38 L337.93 428.71 L338.64 428.65 L339.35 428.76 L340.05 429.17 L340.76 429.28 L341.47 429.22 L342.18 429.58 L342.89 429.46 L343.60 429.75 L344.31 429.71 L345.02 429.95 L345.73 430.14 L346.44 430.09 L347.15 430.38 L347.85 430.55 L348.56 430.68 L349.27 430.94 L349.98 431.32 L350.69 431.44 L351.40 431.25 L352.11 431.30 L352.82 431.42 L353.53 432.05 L354.24 432.12 L354.95 432.26 L355.65 432.51 L356.36 432.35 L357.07 432.36 L357.78 432.46 L358.49 432.79 L359.20 433.16 L359.92 432.87 L360.64 433.19 L361.36 433.09 L362.08 433.29 L362.80 433.60 L363.52 433.78 L364.24 434.07 L364.96 433.81 L365.68 433.87 L366.40 433.88 L367.12 434.07 L367.84 434.09 L368.56 434.19 L369.28 434.37 L370.00 434.74 L370.72 434.80 L371.44 435.19 L372.16 435.05 L372.88 434.92 L373.60 435.07 L374.32 435.52 L375.04 435.80 L375.76 435.78 L376.48 435.58 L377.20 435.76 L377.92 435.93 L378.64 436.05 L379.36 436.07 L380.08 436.11 L380.80 436.14 L381.52 436.77 L382.24 436.94 L382.96 437.06 L383.68 436.81 L384.40 437.11 L385.10 436.95 L385.81 437.02 L386.51 437.08 L387.21 437.40 L387.92 437.80 L388.62 437.77 L389.32 437.72 L390.03 437.99 L390.73 438.15 L391.44 438.07 L392.14 438.34 L392.84 438.76 L393.55 438.59 L394.25 439.04 L394.95 439.01 L395.66 438.78 L396.36 439.38 L397.06 439.37 L397.77 439.34 L398.47 439.31 L399.18 439.72 L399.88 439.56 L400.58 439.85 L401.29 439.79 L401.99 440.07 L402.69 440.53 L403.40 440.43 L404.10 440.51 L404.80 440.70 L405.51 440.84 L406.21 440.94 L406.91 440.87 L407.62 440.95 L408.32 441.31 L409.02 441.63 L409.73 441.72 L410.43 441.62 L411.14 441.63 L411.84 441.93 L412.54 441.73 L413.25 442.12 L413.95 442.42 L414.65 442.66 L415.36 442.25 L416.06 442.45 L416.76 442.74 L417.47 442.94 L418.17 443.28 L418.88 442.89 L419.58 443.03 L420.28 443.37 L420.99 443.68 L421.69 443.34 L422.39 443.68 L423.10 444.00 L423.80 443.95 M128.50 437.00 L128.50 449.00 M302.00 424.00 L302.00 440.00 M306.00 424.00 L306.00 440.00 M340.00 428.00 L340.00 440.00" fill="none" stroke="#84e4c2" stroke-width="0.70" stroke-linejoin="round" stroke-opacity="1.00"/>
<line x1="56.3" x2="56.3" y1="451" y2="461" stroke="#8af0b8" stroke-width="3.2"/>
<line x1="173.2" x2="173.2" y1="63" y2="77" stroke="#8af0c8" stroke-width="2.2"/>
<line x1="34.2" x2="34.2" y1="93" y2="104" stroke="#8af0c8" stroke-width="2.0"/>
<line x1="100.2" x2="100.2" y1="262" y2="300" stroke="#8af0c0" stroke-width="2.6"/>
<line x1="105.6" x2="105.6" y1="263" y2="300" stroke="#8af0c0" stroke-width="2.4"/>
<path d="M99.8 286 L100 302.4 L103.4 302.4 L103.7 285 M105.2 296 L105.2 302.4 L106.6 302.4 L106.8 284" fill="none" stroke="#4b9534" stroke-width="0.8"/>
<line x1="149.1" x2="149.1" y1="266" y2="278" stroke="#8af0c8" stroke-width="1.6"/>
<line x1="56.3" x2="56.3" y1="443" y2="452" stroke="#4a5fb8" stroke-width="1.6"/>
<rect x="30.40" y="494.70" width="394.20" height="28.50" fill="#fff" stroke="#a0a0a0" stroke-width="0.9"/>
<line x1="34.30" x2="55.40" y1="502.90" y2="502.90" stroke="#1d4379" stroke-width="1.45"/>
<text x="60.40" y="504.80" font-size="5.45" text-anchor="start" font-family="Liberation Sans, sans-serif" font-weight="normal" fill="#1a1a1a" >Peat surface fromMSL (topography)</text>
<line x1="34.30" x2="55.40" y1="514.00" y2="514.00" stroke="#bf80e0" stroke-width="1.45"/>
<text x="60.40" y="515.00" font-size="5.45" text-anchor="start" font-family="Liberation Sans, sans-serif" font-weight="normal" fill="#1a1a1a" >Elevation of estimated mineral surface by</text>
<text x="60.40" y="522.00" font-size="5.45" text-anchor="start" font-family="Liberation Sans, sans-serif" font-weight="normal" fill="#1a1a1a" >involving 9 parameters (estimation 2)</text>
<line x1="165.90" x2="187.00" y1="503.10" y2="503.10" stroke="#33701f" stroke-width="1.45"/>
<text x="190.10" y="502.00" font-size="5.45" text-anchor="start" font-family="Liberation Sans, sans-serif" font-weight="normal" fill="#1a1a1a" >Elevation of mineral surface from MSL</text>
<text x="190.10" y="508.10" font-size="5.45" text-anchor="start" font-family="Liberation Sans, sans-serif" font-weight="normal" fill="#1a1a1a" >(based on field survey)</text>
<line x1="165.90" x2="187.00" y1="515.80" y2="515.80" stroke="#88e8c8" stroke-width="1.45"/>
<text x="190.10" y="515.00" font-size="5.45" text-anchor="start" font-family="Liberation Sans, sans-serif" font-weight="normal" fill="#1a1a1a" >Elevation of estimated mineral surface</text>
<text x="190.10" y="521.00" font-size="5.45" text-anchor="start" font-family="Liberation Sans, sans-serif" font-weight="normal" fill="#1a1a1a" >by ignoring insignificant parameters (estimation 3)</text>
<line x1="306.10" x2="327.60" y1="502.40" y2="502.40" stroke="#d4582a" stroke-width="1.45"/>
<text x="330.30" y="502.30" font-size="5.45" text-anchor="start" font-family="Liberation Sans, sans-serif" font-weight="normal" fill="#1a1a1a" >Elevation of estimated mineral surface</text>
<text x="330.30" y="508.40" font-size="5.45" text-anchor="start" font-family="Liberation Sans, sans-serif" font-weight="normal" fill="#1a1a1a" >using 10 parameters (estimation 1)</text>
<text x="226.50" y="493.90" font-size="4.10" text-anchor="middle" font-family="Liberation Sans, sans-serif" font-weight="bold" fill="#111" >Distance (m)</text>
<text x="220.70" y="541.10" font-size="9.6" text-anchor="middle" font-family="Liberation Serif, serif" fill="#0a0a0a" stroke="#0a0a0a" stroke-width="0.15">(<tspan font-weight="bold">c</tspan>) Cross-section 3</text></svg>
</body></html>
